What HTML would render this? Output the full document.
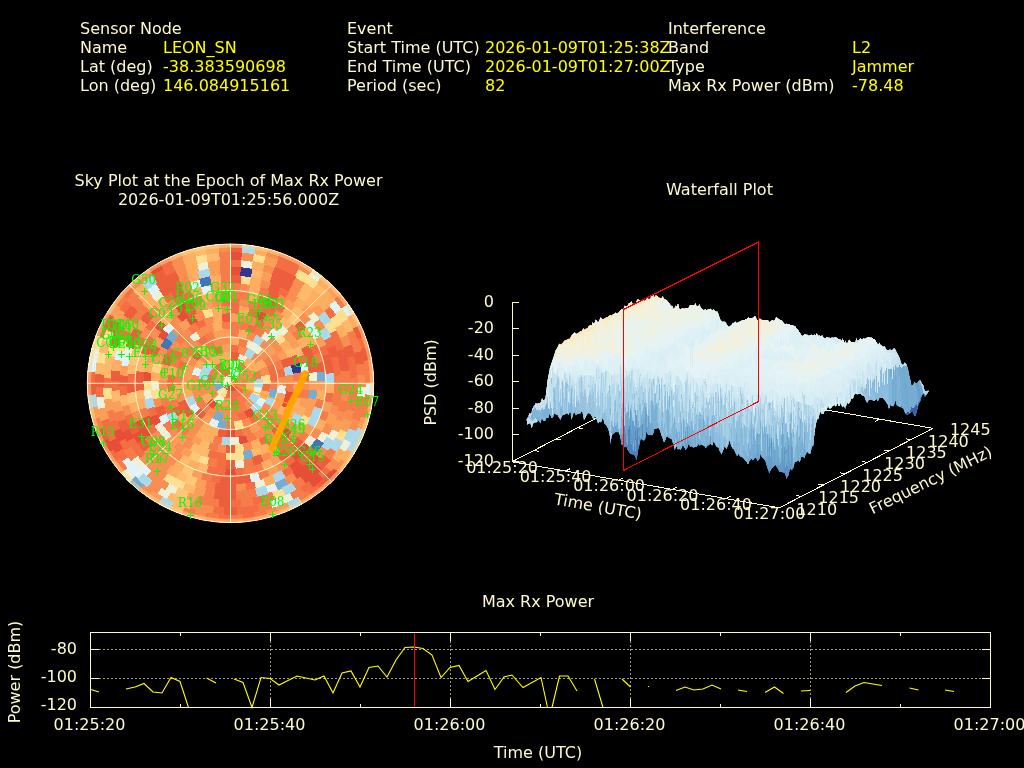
<!DOCTYPE html>
<html><head><meta charset="utf-8"><title>Interference Event Report</title>
<style>
html,body{margin:0;padding:0;background:#000;overflow:hidden}
svg{display:block;will-change:transform}
text{font-family:"DejaVu Sans","Liberation Sans",sans-serif;font-size:16px}
.g text{font-family:"DejaVu Serif","Liberation Serif",serif;font-size:12px;fill:#00ff00}
</style></head><body>
<svg width="1024" height="768" viewBox="0 0 1024 768">
<rect width="1024" height="768" fill="#000"/>
<text x="80" y="34" fill="#fffacd" text-anchor="start">Sensor Node</text>
<text x="80" y="53" fill="#fffacd" text-anchor="start">Name</text>
<text x="80" y="72" fill="#fffacd" text-anchor="start">Lat (deg)</text>
<text x="80" y="91" fill="#fffacd" text-anchor="start">Lon (deg)</text>
<text x="347" y="34" fill="#fffacd" text-anchor="start">Event</text>
<text x="347" y="53" fill="#fffacd" text-anchor="start">Start Time (UTC)</text>
<text x="347" y="72" fill="#fffacd" text-anchor="start">End Time (UTC)</text>
<text x="347" y="91" fill="#fffacd" text-anchor="start">Period (sec)</text>
<text x="668" y="34" fill="#fffacd" text-anchor="start">Interference</text>
<text x="668" y="53" fill="#fffacd" text-anchor="start">Band</text>
<text x="668" y="72" fill="#fffacd" text-anchor="start">Type</text>
<text x="668" y="91" fill="#fffacd" text-anchor="start">Max Rx Power (dBm)</text>
<text x="163" y="53" fill="#ffff00" text-anchor="start">LEON_SN</text>
<text x="163" y="72" fill="#ffff00" text-anchor="start">-38.383590698</text>
<text x="163" y="91" fill="#ffff00" text-anchor="start">146.084915161</text>
<text x="485" y="53" fill="#ffff00" text-anchor="start">2026-01-09T01:25:38Z</text>
<text x="485" y="72" fill="#ffff00" text-anchor="start">2026-01-09T01:27:00Z</text>
<text x="485" y="91" fill="#ffff00" text-anchor="start">82</text>
<text x="852" y="53" fill="#ffff00" text-anchor="start">L2</text>
<text x="852" y="72" fill="#ffff00" text-anchor="start">Jammer</text>
<text x="852" y="91" fill="#ffff00" text-anchor="start">-78.48</text>
<text x="228.5" y="186" fill="#fffacd" text-anchor="middle">Sky Plot at the Epoch of Max Rx Power</text>
<text x="228.5" y="205" fill="#fffacd" text-anchor="middle">2026-01-09T01:25:56.000Z</text>
<text x="719.5" y="195" fill="#fffacd" text-anchor="middle">Waterfall Plot</text>
<text x="538" y="607" fill="#fffacd" text-anchor="middle">Max Rx Power</text>
<text x="538" y="758" fill="#fffacd" text-anchor="middle">Time (UTC)</text>
<g transform="translate(230.5,383.3) scale(0.1432,0.1393)" shape-rendering="crispEdges">
<circle r="1000" fill="#f58a52"/>
<path fill="#f46d43" d="M0 0l0 -59l8 1l8 2l8 2l7 4l7 5l5 6l6 6l4 7l3 8l2 8l1 8l-1 8l-1 8l-3 8l-3 7zM99 57l-9 13l-11 12l-12 10l-14 9l-14 6l-21 -58l7 -3l6 -3l6 -5l4 -6l5 -6zM39 107l-15 5l-16 2l-16 0l-16 -2l-15 -5l21 -58l7 2l7 1l8 0l7 -1l7 -2zM-74 -87l13 -10l15 -7l15 -6l15 -3l16 -1l0 61l-7 1l-7 1l-7 3l-7 3l-6 5zM65 157l-21 7l-22 4l-23 2l1 -62l14 -1l14 -3l14 -4zM-170 1l2 -23l4 -22l7 -21l57 23l-4 14l-3 14l-1 14zM-120 -120l17 -14l18 -13l21 -10l23 57l-13 6l-12 8l-11 10zM-1 -281l32 2l32 5l-13 60l-25 -4l-26 -1zM281 -1l-2 32l-5 32l-60 -13l4 -25l1 -26zM123 253l-30 12l-31 9l-14 -60l24 -7l24 -10zM-123 -253l30 -12l31 -9l14 60l-24 7l-24 10zM305 -141l13 31l9 32l-60 14l-7 -26l-10 -25zM327 -80l6 32l3 33l-61 3l-3 -27l-5 -27zM209 264l-27 19l-29 16l-28 -54l24 -14l22 -16zM376 -110l8 32l5 32l-61 7l-4 -27l-7 -27zM95 380l-32 7l-33 4l-5 -62l28 -3l27 -6zM-377 -108l11 -31l13 -30l55 26l-11 26l-9 26zM-237 -312l28 -19l28 -17l29 55l-25 14l-22 16zM125 -430l31 11l31 13l-25 56l-27 -12l-28 -9zM-443 65l-3 -33l-1 -34l61 1l1 29l3 28zM-447 2l1 -34l3 -33l61 9l-3 28l-1 29zM-408 -184l15 -30l17 -29l52 33l-15 25l-13 26zM187 -467l61 30l-30 53l-54 -26zM276 421l-59 33l-27 -56l52 -29zM-371 339l-43 -53l51 -35l37 47zM-445 234l-28 -62l58 -21l24 55zM-461 -202l32 -60l52 32l-27 53zM-248 -437l61 -30l23 57l-54 26zM-2 -559l70 5l-7 61l-63 -4zM129 -543l67 20l-21 58l-60 -18zM517 -212l22 67l-59 16l-20 -59zM552 -84l6 69l-61 2l-6 -62zM390 399l-53 46l-37 -49l47 -41zM340 443l-58 39l-31 -53l52 -35zM-31 558l-70 -9l11 -60l62 7zM-97 550l-68 -16l18 -59l61 14zM-2 -614l72 4l-7 61l-65 -4zM197 -582l67 28l-26 55l-60 -24zM260 -556l63 34l-32 52l-57 -31zM453 414l-51 51l-41 -47l47 -45zM405 462l-57 44l-35 -51l51 -40zM-32 613l-71 -8l10 -60l64 7zM-562 249l-25 -68l59 -18l23 61zM-70 -610l72 -4l0 61l-65 4zM201 -639l69 26l-25 57l-62 -24zM328 -584l62 40l-36 50l-56 -36zM606 -286l27 68l-58 20l-25 -62zM469 478l-55 49l-38 -49l50 -44zM105 661l-73 8l-3 -62l67 -6zM-32 669l-73 -8l9 -60l67 6zM-101 662l-72 -15l16 -59l66 13zM-554 376l-38 -63l54 -29l35 57zM-608 -282l35 -65l53 32l-32 59zM669 -280l26 72l-59 18l-24 -66zM722 69l-11 75l-61 -12l11 -69zM462 559l-61 45l-34 -51l56 -41zM-69 722l-75 -11l12 -61l69 11zM-725 3l4 -77l61 7l-4 69zM-671 -275l33 -69l54 29l-30 63zM-604 -401l45 -61l47 39l-41 56zM-405 -602l65 -39l29 55l-60 35zM-344 -638l69 -33l23 57l-63 30zM350 -698l69 39l-33 52l-63 -36zM703 -339l31 73l-58 21l-28 -67zM754 -202l17 77l-61 10l-15 -71zM770 -130l9 78l-61 4l-9 -72zM449 639l-66 42l-30 -54l61 -39zM184 759l-77 14l-9 -61l72 -13zM-719 306l-27 -74l59 -19l25 68zM-775 94l-6 -78l62 -2l5 73zM-479 -617l65 -45l32 52l-59 42zM741 -387l35 74l-58 23l-31 -69zM773 -318l28 77l-59 18l-26 -72zM-635 545l-50 -65l50 -35l47 60zM-682 485l-44 -69l54 -31l41 64zM-834 60l-2 -82l61 2l2 76zM-776 -313l35 -74l54 28l-31 69zM-3 -892l86 4l-6 61l-80 -3zM695 -559l51 70l-51 34l-48 -65zM869 -201l15 84l-61 8l-14 -79zM883 -123l8 86l-61 3l-8 -80zM240 859l-84 19l-11 -60l79 -18zM83 888l-86 4l0 -62l80 -3zM-743 494l-44 -74l54 -29l42 69zM-819 353l-30 -80l58 -19l29 75zM-891 43l0 -86l62 3l0 80zM-821 -348l37 -77l54 29l-35 72zM325 -890l84 35l-27 56l-78 -33zM403 -858l80 43l-32 53l-74 -40zM708 629l-63 65l-42 -45l59 -60zM586 744l-73 53l-34 -52l69 -49zM211 924l-89 16l-8 -62l83 -14zM129 939l-90 8l-3 -62l84 -7zM-39 947l-90 -8l9 -61l84 7zM-757 570l-51 -75l53 -32l47 70zM-846 427l-36 -82l57 -22l34 77zM-880 351l-29 -85l59 -18l27 80zM-941 108l-6 -90l61 -1l6 84zM-785 -530l54 -73l47 40l-50 67zM-483 -815l80 -43l26 56l-74 40zM340 -944l87 36l-26 56l-82 -34zM421 -911l84 44l-31 53l-79 -41zM941 -346l29 90l-60 16l-26 -85zM647 766l-75 58l-35 -51l71 -54zM178 987l-94 12l-5 -61l88 -11zM4 1003l-95 -4l6 -61l88 3zM-820 578l-50 -80l53 -30l48 75zM-1003 4l4 -95l61 6l-3 88zM-944 -340l36 -87l56 26l-34 82zM-771 -642l64 -70l44 44l-60 65zM-505 -867l84 -44l26 56l-79 41z"/>
<path fill="#e64e35" d="M0 0l51 29l-5 7l-5 6l-6 5l-7 5l-8 3l-8 2l-8 1l-8 0l-8 -1l-8 -2l-8 -3l-7 -5l-6 -5l-5 -6l-5 -7zM-121 190l-18 -13l-17 -14l-15 -16l47 -40l11 11l12 11l13 9zM176 219l-27 19l-28 15l-27 -55l23 -12l20 -15zM33 391l-33 1l-33 -1l5 -62l28 1l28 -1zM443 62l-6 33l-8 33l-59 -18l7 -28l5 -28zM430 125l-11 31l-13 31l-56 -25l12 -27l9 -28zM128 429l-33 8l-33 6l-8 -61l28 -5l28 -7zM193 -524l64 28l-29 55l-57 -25zM435 350l-47 52l-43 -44l42 -46zM-314 -462l61 -36l28 55l-54 32zM-531 309l-32 -64l56 -25l29 58zM-614 -15l6 -71l61 8l-5 65zM-515 -334l42 -58l48 39l-39 52zM-379 -483l59 -41l32 52l-53 37zM37 669l-74 0l4 -62l66 0zM-590 317l-31 -67l57 -23l28 61zM-537 -400l47 -57l45 42l-43 52zM-390 -544l62 -40l30 54l-56 36zM562 458l-51 57l-43 -44l46 -52zM515 511l-57 51l-39 -48l52 -46zM-602 405l-39 -65l55 -29l35 60zM-638 344l-33 -69l57 -23l30 63zM507 594l-62 48l-35 -51l57 -44zM-649 434l-40 -67l54 -29l37 62zM-3 -836l82 3l-6 62l-76 -4zM638 540l-55 60l-43 -44l51 -56zM587 596l-61 55l-39 -48l57 -51zM530 647l-66 49l-34 -52l61 -45zM-723 421l-38 -73l56 -26l35 68zM647 614l-63 60l-40 -47l58 -55zM589 670l-67 53l-36 -50l62 -50zM-784 425l-37 -77l56 -24l35 72zM-3 -947l90 4l-6 61l-84 -4zM650 690l-69 58l-38 -48l65 -55zM-804 501l-44 -79l55 -28l41 74zM771 642l-64 70l-44 -44l60 -65zM-867 505l-44 -84l56 -26l41 79zM-578 -820l80 -50l30 53l-75 48z"/>
<path fill="#eef0da" d="M0 0l-51 29l-3 -7l-3 -8l-1 -8l-1 -8l1 -8l2 -8l3 -8l4 -7l6 -6l5 -6l7 -5l7 -4l8 -2l8 -2l8 -1zM-1 -170l23 2l22 4l21 7l-23 57l-14 -4l-14 -3l-14 -1zM-64 157l-21 -10l-18 -13l-17 -14l43 -44l11 10l12 8l13 6zM63 -216l20 7l20 9l19 11l-33 52l-14 -8l-14 -7l-15 -5zM223 31l-4 22l-6 21l-8 20l-56 -25l6 -15l4 -16l3 -15zM124 -313l30 14l29 17l-34 51l-23 -13l-25 -11zM181 -284l27 20l25 21l-43 45l-20 -18l-22 -16zM241 -377l27 19l26 21l-40 46l-23 -18l-24 -16zM65 443l-33 3l-34 1l1 -61l29 -1l28 -3zM-294 -337l26 -21l27 -19l34 52l-24 16l-23 18zM363 -424l50 48l-45 42l-45 -44zM-556 52l-2 -71l61 3l2 62zM608 -86l6 71l-62 2l-5 -65zM103 605l-71 8l-3 -61l64 -7zM-450 418l-46 -56l50 -36l41 50zM-494 365l-39 -60l54 -30l35 54zM-602 120l-10 -71l61 -5l9 64zM604 401l-45 61l-47 -39l41 -56zM582 -521l49 61l-50 37l-45 -57zM689 367l-40 67l-51 -34l37 -62zM254 738l-75 22l-14 -60l69 -20zM-756 -196l24 -76l58 22l-22 69zM761 348l-38 73l-53 -31l35 -68zM-559 -622l64 -52l36 50l-59 48zM77 -889l85 12l-11 61l-79 -11zM-384 805l-76 -41l32 -53l70 38zM-642 619l-57 -65l48 -39l53 61zM-240 -859l84 -19l11 60l-79 18zM947 18l-6 90l-61 -7l6 -84zM848 422l-44 79l-52 -33l41 -74zM446 836l-82 39l-23 -57l76 -36zM-440 839l-78 -46l33 -51l73 42zM-928 191l-14 -90l61 -6l13 83zM572 -824l75 58l-39 47l-71 -54zM-707 712l-64 -70l48 -39l60 65zM-988 -171l20 -92l59 16l-19 87z"/>
<path fill="#e0f3f8" d="M0 -114l16 1l15 3l15 6l15 7l13 10l-40 47l-6 -5l-7 -3l-7 -3l-7 -1l-7 -1zM253 121l-15 28l-19 27l-48 -39l15 -20l12 -23zM-274 -62l9 -31l12 -30l56 27l-10 24l-7 24zM-94 323l-31 -11l-30 -14l28 -54l25 11l26 9zM-253 221l-21 -26l-18 -28l54 -30l14 22l17 22zM392 14l-3 33l-5 33l-61 -13l5 -27l2 -28zM299 -404l52 44l-43 44l-45 -39zM538 -149l15 68l-61 9l-13 -61zM-471 300l-34 -62l56 -26l30 55zM-475 -389l48 -53l43 45l-44 47zM559 -462l45 61l-51 34l-41 -56zM602 -405l39 65l-55 29l-35 -60zM213 693l-74 19l-12 -61l68 -17zM-213 -693l74 -19l12 61l-68 17zM-771 -125l17 -77l59 16l-15 71zM-289 -725l75 -26l17 59l-69 24zM336 766l-77 29l-19 -58l71 -27zM-819 -167l20 -80l59 18l-19 74zM-584 674l-63 -60l45 -42l58 55zM-589 -670l67 -53l36 50l-62 50zM731 -603l54 73l-51 34l-50 -67zM370 872l-84 31l-19 -58l79 -30zM-645 694l-63 -65l46 -40l59 60zM-704 634l-57 -70l49 -36l54 65zM820 -578l50 80l-53 30l-48 -75zM1003 -4l-4 95l-61 -6l3 -88zM-999 -84l12 -94l60 11l-11 88z"/>
<path fill="#f88e52" d="M73 -88l12 11l10 13l8 14l6 15l3 16l-60 10l-2 -7l-3 -7l-3 -6l-5 -6l-5 -5zM120 -120l14 17l13 18l10 21l-57 23l-6 -13l-8 -12l-10 -11zM157 -65l7 21l4 22l2 23l-62 -1l-1 -14l-3 -14l-4 -14zM157 64l-10 21l-13 18l-14 17l-44 -43l10 -11l8 -12l6 -13zM-120 120l-14 -17l-13 -18l-10 -21l57 -23l6 13l8 12l10 11zM-157 65l-7 -21l-4 -22l-2 -23l62 1l1 14l3 14l4 14zM171 147l-15 16l-17 14l-18 13l-33 -52l13 -9l12 -11l11 -11zM1 225l-22 -1l-22 -3l-21 -5l17 -59l16 4l16 2l16 1zM-63 216l-20 -7l-20 -9l-19 -11l33 -52l14 8l14 7l15 5zM-205 94l-8 -20l-6 -21l-4 -22l61 -8l3 15l4 16l6 15zM62 -274l31 9l30 12l-27 56l-24 -10l-24 -7zM174 -220l25 21l21 25l-48 38l-17 -19l-19 -17zM253 -123l12 30l9 31l-60 14l-7 -24l-10 -24zM1 281l-32 -2l-32 -5l13 -60l25 4l26 1zM-121 253l-28 -15l-27 -19l39 -48l20 15l23 12zM-253 123l-12 -30l-9 -31l60 -14l7 24l10 24zM-274 63l-5 -32l-2 -32l62 0l1 26l4 25zM-281 1l2 -32l5 -32l60 13l-4 25l-1 26zM-220 -174l21 -25l25 -21l38 48l-19 17l-17 19zM231 -244l23 24l21 26l-51 35l-16 -21l-19 -20zM292 167l-18 28l-21 26l-46 -40l17 -22l14 -22zM255 219l-23 24l-25 22l-38 -48l21 -18l18 -20zM155 298l-30 14l-31 11l-18 -59l26 -9l25 -11zM-306 -139l15 -29l18 -28l50 36l-15 23l-12 24zM-126 -312l31 -11l33 -7l11 60l-26 6l-26 9zM-65 -330l33 -5l33 -1l0 61l-27 1l-27 4zM123 -372l31 11l29 15l-28 54l-26 -12l-25 -10zM234 -314l26 21l24 23l-45 42l-20 -19l-21 -18zM322 -224l17 28l16 29l-56 26l-13 -24l-15 -24zM389 -49l3 33l0 33l-62 -3l0 -27l-2 -28zM340 195l-17 28l-20 26l-48 -39l17 -22l15 -24zM261 292l-26 21l-27 19l-32 -52l22 -16l22 -18zM-208 332l-27 -19l-26 -21l41 -46l22 18l22 16zM-366 140l-10 -31l-8 -32l60 -12l7 27l9 26zM-389 -46l5 -32l8 -32l59 17l-7 27l-4 27zM-355 -167l16 -29l17 -28l51 35l-15 24l-13 24zM-284 -270l24 -23l26 -21l36 49l-21 18l-20 19zM292 -339l24 23l23 24l-46 40l-20 -21l-21 -20zM337 -294l21 26l19 27l-52 34l-16 -24l-18 -23zM443 -65l3 33l1 34l-61 -1l-1 -29l-3 -28zM377 241l-19 27l-21 26l-46 -40l18 -23l16 -24zM294 337l-26 21l-27 19l-34 -52l24 -16l23 -18zM243 376l-29 17l-30 15l-25 -56l26 -13l25 -15zM-241 377l-27 -19l-26 -21l40 -46l23 18l24 16zM-292 339l-24 -23l-23 -24l46 -40l20 21l21 20zM-377 -241l19 -27l21 -26l46 40l-18 23l-16 24zM-339 -292l23 -24l24 -23l40 46l-21 20l-20 21zM-243 -376l29 -17l30 -15l25 56l-26 13l-25 15zM-187 -406l31 -13l31 -11l18 59l-28 9l-27 12zM63 -499l66 13l-16 59l-58 -11zM126 -487l64 21l-23 57l-57 -18zM245 -439l57 37l-37 49l-50 -32zM327 382l-54 41l-33 -52l47 -36zM160 477l-66 17l-11 -60l58 -16zM-30 502l-68 -9l12 -60l59 8zM-273 423l-54 -41l40 -47l47 36zM-501 50l-2 -68l62 2l2 60zM-431 -259l39 -56l48 39l-34 48zM-351 -360l52 -44l36 49l-45 39zM-190 -466l64 -21l16 60l-57 18zM253 -498l61 36l-35 51l-54 -32zM558 -19l-2 71l-61 -6l2 -62zM473 297l-40 56l-48 -39l36 -50zM-282 482l-58 -39l37 -49l52 35zM-388 402l-47 -52l48 -38l42 46zM-529 181l-18 -68l60 -12l17 60zM-518 -208l30 -63l54 30l-27 56zM-413 -376l50 -48l40 46l-45 44zM-257 -496l64 -28l22 58l-57 25zM-68 -554l70 -5l0 62l-63 4zM65 -611l71 12l-13 60l-64 -10zM320 -524l59 41l-38 48l-53 -37zM427 -442l48 53l-47 39l-44 -47zM496 362l-46 56l-45 -42l41 -50zM294 539l-65 31l-23 -57l59 -28zM-348 506l-57 -44l41 -47l51 40zM-430 -439l54 -47l38 49l-49 42zM-264 -554l67 -28l19 59l-60 24zM-136 -599l71 -12l6 62l-64 10zM-357 566l-60 -42l38 -48l54 38zM-466 481l-50 -54l48 -39l45 49zM-513 431l-44 -59l51 -34l40 53zM-575 -343l41 -61l49 37l-37 56zM-444 -501l58 -46l35 50l-52 42zM69 -722l75 11l-12 61l-69 -11zM340 -641l65 39l-34 51l-60 -35zM511 -515l51 57l-48 39l-46 -52zM641 340l-39 65l-51 -34l35 -60zM405 602l-65 39l-29 -55l60 -35zM-401 604l-61 -45l39 -47l56 41zM-458 562l-57 -51l44 -43l52 46zM-511 515l-51 -57l48 -39l46 52zM-669 280l-26 -72l59 -18l24 66zM-641 -340l39 -65l51 34l-35 60zM-562 -458l51 -57l43 44l-46 52zM-462 -559l61 -45l34 51l-56 41zM-74 -721l77 -4l-1 61l-69 4zM214 -751l75 26l-23 57l-69 -24zM414 -662l65 45l-38 49l-59 -42zM628 -464l43 65l-53 32l-40 -60zM764 161l-20 76l-59 -19l19 -70zM721 300l-34 71l-54 -29l31 -65zM112 773l-78 7l-3 -61l72 -7zM-445 642l-62 -48l40 -47l57 44zM-503 597l-57 -53l44 -43l53 49zM-557 548l-52 -59l48 -39l48 54zM-744 237l-20 -76l60 -13l19 70zM-585 -517l55 -56l41 45l-50 52zM-355 -695l71 -32l23 57l-66 30zM432 -716l68 46l-37 49l-63 -42zM835 54l-10 82l-60 -10l8 -76zM811 204l-24 79l-58 -21l22 -73zM685 480l-50 65l-47 -40l47 -60zM469 692l-70 43l-29 -54l65 -40zM-464 696l-66 -49l39 -48l61 45zM-526 651l-61 -55l43 -44l57 51zM-583 600l-55 -60l47 -40l51 56zM-370 -750l75 -32l22 57l-70 30zM234 -861l82 27l-22 58l-76 -25zM455 -767l72 47l-37 50l-67 -44zM819 -353l30 80l-58 19l-29 -75zM870 195l-23 84l-58 -20l21 -77zM-455 767l-72 -47l37 -50l67 44zM-522 723l-67 -53l41 -47l62 50zM-787 -420l44 -74l52 34l-42 69zM-390 -802l80 -34l21 58l-74 31zM80 -944l90 12l-11 61l-84 -12zM945 -66l2 90l-61 -1l-2 -85zM909 266l-29 85l-57 -23l27 -80zM761 564l-57 70l-46 -41l54 -65zM-122 940l-89 -16l14 -60l83 14zM-205 925l-87 -24l19 -58l82 22zM-513 797l-73 -53l38 -48l69 49zM-409 -855l84 -35l21 58l-78 33zM256 -970l90 29l-21 57l-85 -26zM498 -870l80 50l-35 51l-75 -48zM824 572l-58 75l-47 -39l54 -71zM346 941l-90 29l-16 -60l85 -26zM-171 988l-92 -20l16 -59l87 19zM-572 824l-75 -58l39 -47l71 54zM-712 -707l70 -64l39 48l-65 60zM-647 -766l75 -58l35 51l-71 54zM-427 -908l87 -36l21 58l-82 34zM-91 -999l95 -4l-1 62l-88 3z"/>
<path fill="#f67d4a" d="M112 -20l2 16l-1 16l-2 16l-5 15l-7 14l-54 -31l4 -6l2 -7l1 -8l1 -7l-1 -7zM64 -157l21 10l18 13l17 14l-43 44l-11 -10l-12 -8l-13 -6zM120 120l-17 14l-18 13l-21 10l-23 -57l13 -6l12 -8l11 -10zM-157 -64l10 -21l13 -18l14 -17l44 43l-10 11l-8 12l-6 13zM205 -94l8 20l6 21l4 22l-61 8l-3 -15l-4 -16l-6 -15zM122 189l-19 11l-20 9l-20 7l-17 -59l15 -5l14 -7l14 -8zM64 216l-21 5l-22 3l-22 1l0 -61l16 -1l16 -2l16 -4zM-223 33l-2 -22l0 -22l2 -22l61 9l-1 16l0 16l1 16zM63 274l-32 5l-32 2l0 -62l26 -1l25 -4zM-174 220l-25 -21l-21 -25l48 -38l17 19l19 17zM-219 176l-19 -27l-15 -28l55 -27l12 23l15 20zM62 -330l33 7l31 11l-23 57l-26 -9l-26 -6zM273 -196l18 28l15 29l-56 26l-12 -24l-15 -23zM336 -17l0 33l-3 33l-61 -9l2 -27l0 -27zM33 335l-33 1l-33 -1l6 -62l27 2l27 -2zM-183 -282l29 -17l30 -14l23 58l-25 11l-23 13zM-1 -392l33 1l32 4l-10 61l-27 -3l-28 -1zM353 -169l13 30l11 31l-59 17l-9 -26l-11 -26zM304 247l-21 24l-24 23l-41 -46l20 -19l19 -21zM155 360l-31 12l-32 9l-14 -60l27 -8l26 -10zM-392 17l0 -33l3 -33l61 8l-2 28l0 27zM-323 -221l19 -27l22 -24l45 42l-19 21l-17 22zM-183 -346l29 -15l31 -11l19 58l-25 10l-26 12zM-2 -447l34 1l33 3l-9 61l-28 -3l-29 -1zM62 -443l33 6l33 8l-18 59l-28 -7l-28 -5zM184 -408l30 15l29 17l-33 52l-25 -15l-26 -13zM447 -2l-1 34l-3 33l-61 -9l3 -28l1 -29zM339 292l-23 24l-24 23l-40 -46l21 -20l20 -21zM187 406l-31 13l-31 11l-18 -59l28 -9l27 -12zM-62 443l-33 -6l-33 -8l18 -59l28 7l28 5zM-406 187l-13 -31l-11 -31l59 -18l9 28l12 27zM-430 -125l11 -31l13 -31l56 25l-12 27l-9 28zM-65 -443l33 -3l34 -1l-1 61l-29 1l-28 3zM496 -82l7 68l-62 1l-5 -59zM501 47l-11 67l-60 -14l10 -59zM414 286l-43 53l-45 -41l37 -47zM-94 494l-66 -17l19 -59l58 16zM-325 384l-49 -47l46 -41l43 41zM-471 175l-20 -65l60 -13l17 57zM-394 -312l45 -51l43 45l-40 44zM-302 -402l57 -37l30 54l-50 32zM557 48l-11 69l-60 -13l9 -62zM-433 353l-40 -56l52 -33l36 50zM132 -600l69 20l-20 58l-62 -18zM473 -392l42 58l-51 33l-39 -52zM169 590l-70 16l-10 -61l63 -14zM-99 606l-70 -16l17 -59l63 14zM-2 -670l73 4l-6 61l-67 -3zM67 -666l72 11l-13 60l-66 -10zM632 -222l20 70l-60 14l-18 -64zM659 118l-17 71l-59 -17l16 -65zM557 372l-44 59l-47 -40l40 -53zM238 626l-70 22l-15 -59l63 -21zM173 647l-72 15l-10 -61l66 -13zM-619 254l-25 -69l60 -17l21 63zM-270 -613l69 -26l18 59l-62 24zM-71 -666l73 -4l0 62l-67 3zM-3 -725l77 4l-7 61l-69 -4zM208 -695l72 26l-24 57l-66 -24zM695 208l-26 72l-57 -24l24 -66zM280 669l-72 26l-18 -59l66 -24zM-139 712l-74 -19l18 -59l68 17zM-559 462l-45 -61l51 -34l41 56zM779 -58l1 79l-61 -2l-2 -72zM781 16l-6 78l-61 -7l5 -73zM776 89l-13 77l-60 -13l12 -71zM-107 773l-77 -14l14 -60l72 13zM-76 -777l79 -4l0 62l-73 3zM831 -98l5 82l-61 1l-6 -76zM836 -22l-2 82l-61 -4l2 -76zM826 130l-16 80l-60 -15l15 -75zM192 814l-81 15l-8 -61l74 -14zM117 828l-82 8l-2 -62l75 -7zM-111 829l-81 -15l15 -60l74 14zM-787 283l-24 -79l60 -15l22 73zM-706 -448l47 -67l49 38l-44 62zM-662 -511l53 -62l45 42l-50 58zM-79 -833l82 -3l0 61l-76 4zM891 -43l0 86l-62 -3l0 -80zM891 37l-8 86l-61 -9l8 -80zM884 117l-15 84l-60 -13l14 -79zM746 489l-51 70l-48 -39l48 -65zM527 720l-72 47l-32 -53l67 -44zM316 834l-82 27l-16 -60l76 -25zM162 877l-85 12l-5 -62l79 -11zM-77 889l-85 -12l11 -61l79 11zM-156 878l-84 -19l16 -59l79 18zM-695 559l-51 -70l51 -34l48 65zM-847 279l-23 -84l60 -13l21 77zM-699 -554l57 -65l44 43l-53 61zM-83 -888l86 -4l0 62l-80 3zM864 -390l33 84l-58 20l-31 -78zM895 -312l25 87l-59 15l-24 -82zM936 -149l10 89l-62 4l-9 -84zM942 101l-14 90l-60 -13l13 -83zM929 184l-21 88l-59 -18l20 -82zM518 793l-78 46l-28 -55l73 -42zM292 901l-87 24l-14 -60l82 -22zM-735 -597l60 -68l44 43l-57 63zM-87 -943l90 -4l0 61l-84 4zM766 -647l58 75l-51 35l-54 -71zM987 -178l12 94l-61 5l-11 -88zM999 -91l4 95l-62 -1l-3 -88zM999 84l-12 94l-60 -11l11 -88zM988 171l-20 92l-59 -16l19 -87zM578 820l-80 50l-30 -53l75 -48zM263 968l-92 20l-11 -60l87 -19zM91 999l-95 4l1 -62l88 -3zM-84 999l-94 -12l11 -60l88 11zM-256 970l-90 -29l21 -57l85 26zM-766 647l-58 -75l51 -35l54 71zM-941 346l-29 -90l60 -16l26 85zM-824 -572l58 -75l47 39l-54 71z"/>
<path fill="#fee090" d="M-39 107l-14 -6l-14 -9l-12 -10l-11 -12l-9 -13l53 -31l5 6l4 6l6 5l6 3l7 3zM274 -63l5 32l2 32l-62 0l-1 -26l-4 -25zM96 322l-32 8l-33 5l-6 -61l27 -4l26 -7zM349 -363l45 51l-48 38l-40 -44zM98 493l-68 9l-3 -61l59 -8zM101 549l-70 9l-3 -62l62 -7zM35 557l-70 0l4 -61l62 0zM-546 117l-11 -69l62 -6l9 62zM-196 -523l67 -20l14 60l-60 18zM563 245l-32 64l-53 -31l29 -58zM-165 592l-68 -24l23 -57l62 21zM-612 53l-2 -72l62 2l1 65zM70 -778l78 11l-11 61l-72 -10zM703 -453l41 71l-55 28l-38 -66zM-331 768l-73 -36l30 -54l68 34zM-399 735l-70 -43l34 -51l65 40zM-801 -241l28 -77l57 23l-26 72zM743 -494l44 74l-54 29l-42 -69zM821 348l-37 77l-54 -29l35 -72zM390 802l-80 34l-21 -58l74 -31zM-883 123l-8 -86l61 -3l8 80zM-870 -195l23 -84l58 20l-21 77zM164 -933l88 20l-17 59l-82 -19zM477 -819l76 50l-36 50l-71 -46zM547 -773l72 55l-41 47l-66 -52zM782 -536l47 77l-54 30l-44 -72zM-937 -143l18 -89l60 16l-17 82zM-897 -306l33 -84l56 26l-31 78zM-252 -913l88 -20l11 60l-82 19zM-970 -256l29 -90l57 21l-26 85z"/>
<path fill="#74add1" d="M-99 57l-7 -14l-5 -15l-2 -16l-1 -16l2 -16l60 11l-1 7l1 7l1 8l2 7l4 6zM-62 274l-31 -9l-30 -12l27 -56l24 10l24 7zM333 47l-6 32l-10 32l-58 -20l8 -26l5 -27zM-31 335l-33 -5l-32 -8l18 -59l26 7l27 4zM165 534l-68 16l-11 -61l61 -14zM-455 -324l44 -54l45 41l-39 49zM612 49l-10 71l-60 -12l9 -64zM664 -88l6 73l-62 1l-5 -66zM404 732l-73 36l-25 -56l68 -34zM-642 771l-70 -64l44 -44l65 60z"/>
<path fill="#fb9e5a" d="M-112 -19l3 -16l6 -15l8 -14l10 -13l12 -11l39 48l-5 5l-5 6l-3 6l-3 7l-2 7zM1 170l-23 -2l-22 -4l-21 -7l23 -57l14 4l14 3l14 1zM-65 -157l21 -7l22 -4l23 -2l-1 62l-14 1l-14 3l-14 4zM-176 -219l27 -19l28 -15l27 55l-23 12l-20 15zM-63 -274l32 -5l32 -2l0 62l-26 1l-25 4zM-153 299l-29 -16l-27 -19l38 -49l22 16l24 14zM-333 49l-3 -33l0 -33l62 3l0 27l2 27zM-336 -15l3 -33l6 -32l60 14l-5 27l-3 27zM-327 -78l9 -32l13 -31l55 26l-10 25l-7 26zM282 -272l22 24l19 27l-50 34l-17 -22l-19 -21zM384 77l-8 32l-10 31l-58 -22l9 -26l7 -27zM367 138l-13 30l-15 29l-54 -31l13 -24l11 -26zM211 330l-29 17l-30 14l-24 -57l26 -12l24 -13zM-259 294l-24 -23l-21 -24l47 -39l19 21l20 19zM-125 -371l31 -10l32 -6l10 61l-27 5l-27 8zM-64 -387l32 -4l33 -1l0 62l-28 1l-27 3zM376 -243l17 29l15 30l-56 25l-13 -26l-15 -25zM-2 -503l68 4l-8 61l-60 -3zM503 -18l-2 68l-62 -6l2 -60zM-217 454l-59 -33l34 -52l52 29zM-503 -14l7 -68l60 10l-5 59zM-497 -79l15 -66l59 18l-13 58zM310 -464l56 42l-40 47l-50 -38zM411 -378l44 54l-50 36l-39 -49zM453 -327l37 59l-54 30l-33 -53zM547 113l-18 68l-59 -20l17 -60zM-337 445l-53 -46l43 -44l47 41zM-539 -145l22 -67l57 24l-20 59zM-366 -422l56 -42l34 51l-50 38zM614 -19l-2 72l-61 -5l1 -65zM603 116l-18 69l-58 -18l16 -63zM587 181l-25 68l-57 -25l23 -61zM533 305l-39 60l-50 -36l35 -54zM352 503l-62 38l-29 -54l55 -34zM-290 541l-62 -38l36 -50l55 34zM-402 465l-51 -51l45 -41l47 45zM-596 -149l22 -68l57 21l-19 62zM-549 -275l36 -63l51 34l-32 56zM-201 -580l69 -20l13 60l-62 18zM669 -20l-2 74l-61 -5l2 -67zM592 313l-38 63l-51 -35l35 -57zM361 564l-64 36l-27 -55l58 -33zM-414 527l-55 -49l43 -44l50 44zM-139 -655l72 -11l7 61l-66 10zM401 -604l61 45l-39 47l-56 -41zM638 -344l33 69l-57 23l-30 -63zM712 139l-19 74l-59 -18l17 -68zM344 638l-69 33l-23 -57l63 -30zM-208 695l-72 -26l24 -57l66 24zM-515 -511l57 -51l39 48l-52 46zM-144 -711l75 -11l6 61l-69 11zM530 -573l55 56l-46 41l-50 -52zM746 232l-27 74l-57 -25l25 -68zM-179 760l-75 -22l20 -58l69 20zM-779 -52l9 -78l61 10l-9 72zM-671 -399l43 -65l50 37l-40 60zM223 -806l78 26l-22 57l-73 -24zM609 -573l53 62l-48 38l-50 -58zM789 277l-31 76l-56 -26l29 -70zM-186 815l-79 -22l20 -58l73 20zM-810 210l-16 -80l61 -10l15 75zM-744 -382l41 -71l52 33l-38 66zM-154 -822l81 -11l5 61l-75 11zM849 273l-30 80l-57 -24l29 -75zM-234 861l-82 -27l22 -58l76 25zM-869 201l-15 -84l61 -8l14 79zM-162 -877l85 -12l5 62l-79 11zM245 -915l87 27l-22 58l-81 -26zM-908 272l-21 -88l60 -12l20 82zM-829 -459l47 -77l51 35l-44 72zM707 -712l64 70l-48 39l-60 -65zM970 256l-29 90l-57 -21l26 -85zM427 908l-87 36l-21 -58l82 -34zM-498 870l-80 -50l35 -51l75 48zM-968 263l-20 -92l60 -11l19 87zM-870 -498l50 -80l51 35l-48 75z"/>
<path fill="#fdba6d" d="M170 -1l-2 23l-4 22l-7 21l-57 -23l4 -14l3 -14l1 -14zM-233 -243l25 -21l27 -20l33 52l-22 16l-20 18zM429 -262l32 60l-57 25l-27 -53zM-157 478l-63 -26l27 -55l55 22zM-490 114l-11 -67l61 -6l10 59zM488 -271l30 63l-57 23l-27 -56zM227 510l-66 25l-18 -59l59 -22zM-161 535l-66 -25l25 -56l59 22zM-223 512l-63 -32l32 -53l55 29zM376 -486l54 47l-43 44l-49 -42zM-168 648l-70 -22l22 -58l63 21zM-297 600l-64 -36l33 -52l58 33zM-658 122l-10 -73l62 -4l8 66zM-664 -84l13 -72l60 14l-12 66zM-652 -152l20 -70l58 20l-18 64zM458 -562l57 51l-44 43l-52 -46zM-722 -69l11 -75l61 12l-11 69zM-695 -208l26 -72l57 24l-24 66zM-317 713l-70 -35l30 -54l65 33zM-763 166l-13 -77l61 -7l12 71zM149 -823l79 18l-16 60l-74 -17zM495 -674l64 52l-41 46l-59 -48zM-259 795l-77 -29l25 -56l71 27zM-825 136l-10 -82l62 -4l8 76zM522 -723l67 53l-41 47l-62 -50zM-891 -37l8 -86l61 9l-8 80zM-884 -117l15 -84l60 13l-14 79zM614 -722l66 62l-45 43l-61 -58zM826 -464l40 80l-56 25l-38 -75zM-286 903l-84 -31l24 -57l79 30zM-364 875l-82 -39l29 -54l76 36zM-946 -60l10 -89l61 9l-9 84zM-920 -225l25 -87l58 20l-24 82zM-170 -932l90 -12l5 61l-84 12zM-340 944l-87 -36l26 -56l82 34zM-263 -968l92 -20l11 60l-87 19z"/>
<path fill="#ed5e3c" d="M-1 -225l22 1l22 3l21 5l-17 59l-16 -4l-16 -2l-16 -1zM-207 265l-25 -22l-23 -24l47 -40l18 20l21 18zM-275 -194l21 -26l23 -24l42 44l-19 20l-16 21zM-30 391l-33 -4l-32 -7l15 -60l27 6l28 3zM-303 249l-20 -26l-17 -28l53 -31l15 24l17 22zM-339 197l-15 -29l-13 -30l58 -22l11 26l13 24zM406 -187l13 31l11 31l-59 18l-9 -28l-12 -27zM-376 243l-17 -29l-15 -30l56 -25l13 26l15 25zM459 -205l24 64l-59 17l-21 -56zM374 337l-49 47l-40 -47l43 -41zM34 502l-68 0l4 -62l60 0zM-483 -141l24 -64l56 25l-21 56zM-66 -499l68 -4l0 62l-60 3zM-503 242l-27 -65l59 -19l23 57zM547 -279l29 66l-58 21l-26 -59zM574 -217l22 68l-60 15l-19 -62zM595 -153l14 71l-61 8l-13 -64zM233 568l-68 24l-17 -60l62 -21zM36 613l-72 0l4 -61l64 0zM-576 -213l29 -66l55 28l-26 59zM-323 -522l63 -34l26 55l-57 31zM266 -615l66 33l-31 54l-59 -30zM490 -457l47 57l-49 37l-43 -52zM651 -156l13 72l-61 8l-12 -66zM516 427l-50 54l-43 -44l45 -49zM417 524l-60 42l-32 -52l54 -38zM-667 54l-2 -74l61 2l2 67zM-670 -15l6 -73l61 8l-5 66zM-633 -218l27 -68l56 26l-25 62zM-332 -582l66 -33l24 57l-59 30zM275 -671l69 33l-29 54l-63 -30zM693 -213l19 74l-61 12l-17 -68zM711 -144l11 75l-61 6l-11 -69zM144 711l-75 11l-6 -61l69 -11zM74 721l-77 4l1 -61l69 -4zM3 725l-77 -4l7 -61l69 4zM-721 74l-4 -77l61 1l4 69zM-3 -781l79 4l-6 61l-73 -3zM284 -727l71 32l-28 55l-66 -30zM732 -272l24 76l-60 15l-22 -69zM609 489l-52 59l-44 -44l48 -54zM560 544l-57 53l-40 -47l53 -49zM39 780l-78 0l3 -62l72 0zM-34 780l-78 -7l9 -61l72 7zM-605 493l-47 -63l51 -34l43 58zM-687 371l-34 -71l57 -23l31 65zM-780 21l1 -79l62 5l-2 72zM-734 -266l31 -73l55 27l-28 67zM-706 -334l37 -69l53 32l-34 63zM-631 -460l49 -61l46 41l-45 57zM-419 -659l69 -39l27 55l-63 36zM295 -782l75 32l-27 55l-70 -30zM365 -752l72 39l-32 52l-67 -36zM799 -247l20 80l-60 12l-19 -74zM818 -173l13 81l-61 7l-12 -75zM41 835l-82 0l3 -61l76 0zM-35 836l-82 -8l9 -61l75 7zM-758 353l-31 -76l58 -20l29 70zM-836 -16l5 -82l62 7l-6 76zM-500 -670l68 -46l32 53l-63 42zM-437 -713l72 -39l27 55l-67 36zM310 -836l80 34l-27 55l-74 -31zM384 -805l76 41l-32 53l-70 -38zM847 -279l23 84l-60 13l-21 -77zM699 554l-57 65l-44 -43l53 -61zM3 892l-86 -4l6 -61l80 3zM-849 -273l30 -80l57 24l-29 75zM-746 -489l51 -70l48 39l-48 65zM-527 -720l72 -47l32 53l-67 44zM-460 -764l76 -41l26 56l-70 38zM919 -232l18 89l-61 9l-17 -82zM45 946l-90 0l3 -61l84 0zM-947 24l2 -90l61 4l-2 85zM-866 -384l40 -80l54 30l-38 75zM-553 -769l76 -50l31 54l-71 46zM-4 -1003l95 4l-6 61l-88 -3zM908 -427l36 87l-58 21l-34 -82zM968 -263l20 92l-60 11l-19 -87zM712 707l-70 64l-39 -48l65 -60zM-908 427l-36 -87l58 -21l34 82zM-999 91l-4 -95l62 1l3 88zM-911 -421l44 -84l53 31l-41 79z"/>
<path fill="#fdae61" d="M121 -190l18 13l17 14l15 16l-47 40l-11 -11l-12 -11l-13 -9zM170 -148l13 17l12 19l10 19l-56 26l-7 -15l-9 -13l-10 -13zM-170 148l-13 -17l-12 -19l-10 -19l56 -26l7 15l9 13l10 13zM-171 -147l15 -16l17 -14l18 -13l33 52l-13 9l-12 11l-11 11zM-122 -189l19 -11l20 -9l20 -7l17 59l-15 5l-14 7l-14 8zM-64 -216l21 -5l22 -3l22 -1l0 61l-16 1l-16 2l-16 4zM219 -176l19 27l15 28l-55 27l-12 -23l-15 -20zM274 62l-9 31l-12 30l-56 -27l10 -24l7 -24zM-253 -121l15 -28l19 -27l48 39l-15 20l-12 23zM-1 -336l33 1l33 5l-12 60l-27 -4l-27 -1zM-317 111l-10 -32l-6 -32l61 -9l5 27l8 26zM62 -387l32 6l31 10l-19 58l-27 -8l-27 -5zM-92 381l-32 -9l-31 -12l24 -57l26 10l27 8zM-152 361l-30 -14l-29 -17l33 -51l24 13l26 12zM-384 80l-5 -33l-3 -33l62 -2l2 28l5 27zM408 184l-15 30l-17 29l-52 -33l15 -25l13 -26zM-125 430l-31 -11l-31 -13l25 -56l27 12l28 9zM-184 408l-30 -15l-29 -17l33 -52l25 15l26 13zM-337 294l-21 -26l-19 -27l52 -34l16 24l18 23zM-429 128l-8 -33l-6 -33l61 -8l5 28l7 28zM-443 -62l6 -33l8 -33l59 18l-7 28l-5 28zM-128 -429l33 -8l33 -6l8 61l-28 5l-28 7zM392 -315l39 56l-53 31l-34 -48zM491 110l-20 65l-57 -21l17 -57zM473 172l-28 62l-54 -28l24 -55zM447 231l-35 58l-51 -35l31 -51zM220 452l-63 26l-19 -59l55 -22zM-129 -486l66 -13l8 61l-58 11zM64 -555l69 13l-15 59l-61 -11zM530 177l-27 65l-55 -27l23 -57zM286 480l-63 32l-24 -56l55 -29zM-558 -15l6 -69l61 9l-6 62zM-133 -542l69 -13l7 61l-61 11zM513 -338l36 63l-55 27l-32 -56zM-609 -82l14 -71l60 15l-13 64zM135 -656l71 19l-19 58l-65 -17zM386 -547l58 46l-41 46l-52 -42zM534 -404l41 61l-53 32l-37 -56zM573 -347l35 65l-56 26l-32 -59zM668 49l-10 73l-60 -11l8 -66zM301 598l-67 29l-21 -57l61 -27zM-234 627l-67 -29l27 -55l61 27zM-642 189l-17 -71l60 -11l16 65zM-493 -453l53 -52l40 47l-48 46zM-206 -637l71 -19l13 60l-65 17zM139 -712l74 19l-18 59l-68 -17zM725 -3l-4 77l-61 -7l4 -69zM671 275l-33 69l-54 -29l30 -63zM-340 641l-65 -39l34 -51l60 35zM-693 213l-19 -74l61 -12l17 68zM-280 -669l72 -26l18 59l-66 24zM143 -768l76 19l-17 59l-70 -17zM474 -620l60 51l-42 45l-55 -47zM322 711l-73 29l-20 -58l68 -27zM-383 681l-66 -42l35 -51l61 39zM-534 -569l60 -51l37 49l-55 47zM-148 -767l78 -11l5 62l-72 10zM555 -626l58 57l-45 42l-54 -53zM-831 -92l13 -81l60 13l-12 75zM-613 -569l58 -57l41 46l-54 53zM-301 -780l78 -26l17 59l-73 24zM156 -878l84 19l-16 59l-79 -18zM584 -674l63 60l-45 42l-58 -55zM642 -619l57 65l-48 39l-53 -61zM784 -425l37 77l-56 24l-35 -72zM-647 -614l63 -60l40 47l-58 55zM-316 -834l82 -27l16 60l-76 25zM675 -665l60 68l-47 38l-57 -63zM808 495l-51 75l-49 -37l47 -70zM-680 -660l66 -62l40 47l-61 58zM-332 -888l87 -27l16 59l-81 26zM171 -988l92 20l-16 59l-87 -19zM642 -771l70 64l-44 44l-65 -60zM867 -505l44 84l-56 26l-41 -79zM870 498l-50 80l-51 -35l48 -75zM-346 -941l90 -29l16 60l-85 26zM-178 -987l94 -12l5 61l-88 11z"/>
<path fill="#abd9e9" d="M223 -33l2 22l0 22l-2 22l-61 -9l1 -16l0 -16l-1 -16zM205 93l-10 19l-12 19l-13 17l-47 -40l10 -13l9 -13l7 -15zM-223 -31l4 -22l6 -21l8 -20l56 25l-6 15l-4 16l-3 15zM-205 -93l10 -19l12 -19l13 -17l47 40l-10 13l-9 13l-7 15zM121 -253l28 15l27 19l-39 48l-20 -15l-23 -12zM220 174l-21 25l-25 21l-38 -48l19 -17l17 -19zM318 109l-12 31l-15 29l-54 -31l13 -24l10 -25zM-291 169l-15 -29l-12 -31l58 -20l10 25l13 24zM181 -348l28 17l28 19l-38 49l-22 -16l-25 -14zM429 -128l8 33l6 33l-61 8l-5 -28l-7 -28zM2 447l-34 -1l-33 -3l9 -61l28 3l29 1zM-412 289l-35 -58l55 -28l31 51zM505 238l-34 62l-52 -33l30 -55zM-585 185l-18 -69l60 -12l16 63zM644 185l-25 69l-56 -23l21 -63zM621 250l-31 67l-54 -29l28 -61zM721 -74l4 77l-61 -1l-4 -69zM669 -403l37 69l-56 26l-34 -63zM387 678l-70 35l-25 -56l65 -33zM659 -515l47 67l-52 33l-44 -62zM726 416l-44 69l-51 -36l41 -64zM265 793l-79 22l-14 -60l73 -20zM-228 -805l79 -18l11 61l-74 17zM787 420l-44 74l-52 -34l42 -69zM460 764l-76 41l-26 -56l70 -38zM882 345l-36 82l-55 -27l34 -77zM-581 748l-69 -58l42 -45l65 55zM-619 -718l72 -55l35 50l-66 52zM84 -999l94 12l-11 60l-88 -11zM944 340l-36 87l-56 -26l34 -82zM911 421l-44 84l-53 -31l41 -79zM505 867l-84 44l-26 -56l79 -41zM-421 911l-84 -44l31 -53l79 41zM-987 178l-12 -94l61 -5l11 88z"/>
<path fill="#313695" d="M482 -145l15 66l-61 10l-13 -58zM73 -833l81 11l-11 61l-75 -11z"/>
<path fill="#fed484" d="M-553 -81l15 -68l59 16l-13 61z"/>
<path fill="#4575b4" d="M-490 -268l37 -59l50 36l-33 53zM652 430l-47 63l-47 -39l43 -58zM-219 -749l76 -19l11 61l-70 17z"/>
<path fill="#fec778" d="M-229 570l-65 -31l29 -54l59 28zM440 -505l53 52l-45 41l-48 -46zM-275 671l-69 -33l29 -54l63 30zM-711 144l-11 -75l61 -6l11 69zM-712 -139l19 -74l59 18l-17 68zM-249 740l-73 -29l25 -56l68 27zM-310 836l-80 -34l27 -55l74 31z"/>
</g>
<ellipse cx="230.5" cy="383.3" rx="141.4" ry="137.5" fill="none" stroke="#fed68a" stroke-width="3.6" opacity="0.5"/>
<g fill="none" stroke="#fffacd" stroke-width="1">
<ellipse cx="230.5" cy="383.3" rx="47.7" ry="46.4"/>
<ellipse cx="230.5" cy="383.3" rx="95.5" ry="92.9"/>
<ellipse cx="230.5" cy="383.3" rx="143.2" ry="139.3"/>
<line x1="230.5" y1="522.6" x2="230.5" y2="244"/>
<line x1="129.2" y1="481.8" x2="331.8" y2="284.8"/>
<line x1="87.3" y1="383.3" x2="373.7" y2="383.3"/>
<line x1="129.2" y1="284.8" x2="331.8" y2="481.8"/>
</g>
<g class="g" stroke="#00ff00" stroke-width="1" shape-rendering="crispEdges">
<path d="M141.0 291.5h7M144.5 288.0v7M158.0 325.5h7M161.5 322.0v7M168.0 315.5h7M171.5 312.0v7M185.0 300.5h7M188.5 297.0v7M186.0 310.5h7M189.5 307.0v7M189.0 318.5h7M192.5 315.0v7M220.0 299.5h7M223.5 296.0v7M215.0 308.5h7M218.5 305.0v7M224.0 309.5h7M227.5 306.0v7M256.0 311.5h7M259.5 308.0v7M263.0 316.5h7M266.5 313.0v7M271.0 315.5h7M274.5 312.0v7M245.0 331.5h7M248.5 328.0v7M268.0 336.5h7M271.5 333.0v7M307.0 344.5h7M310.5 341.0v7M303.0 375.5h7M306.5 372.0v7M348.0 401.5h7M351.5 398.0v7M364.0 414.5h7M367.5 411.0v7M262.0 427.5h7M265.5 424.0v7M275.0 436.5h7M278.5 433.0v7M290.0 436.5h7M293.5 433.0v7M290.0 441.5h7M293.5 438.0v7M273.0 452.5h7M276.5 449.0v7M281.0 464.5h7M284.5 461.0v7M306.0 464.5h7M309.5 461.0v7M309.0 469.5h7M312.5 466.0v7M269.0 514.5h7M272.5 511.0v7M100.0 443.5h7M103.5 440.0v7M138.0 436.5h7M141.5 433.0v7M150.0 454.5h7M153.5 451.0v7M157.0 459.5h7M160.5 456.0v7M154.0 471.5h7M157.5 468.0v7M179.0 437.5h7M182.5 434.0v7M180.0 428.5h7M183.5 425.0v7M167.0 406.5h7M170.5 403.0v7M196.0 398.5h7M199.5 395.0v7M209.0 393.5h7M212.5 390.0v7M187.0 515.5h7M190.5 512.0v7M224.0 418.5h7M227.5 415.0v7M169.0 386.5h7M172.5 383.0v7M181.0 366.5h7M184.5 363.0v7M203.0 364.5h7M206.5 361.0v7M209.0 364.5h7M212.5 361.0v7M224.0 385.5h7M227.5 382.0v7M228.0 376.5h7M231.5 373.0v7M231.0 378.5h7M234.5 375.0v7M242.0 389.5h7M245.5 386.0v7M161.0 372.5h7M164.5 369.0v7M142.0 364.5h7M145.5 361.0v7M142.0 356.5h7M145.5 353.0v7M110.0 336.5h7M113.5 333.0v7M117.0 336.5h7M120.5 333.0v7M124.0 337.5h7M127.5 334.0v7M110.0 347.5h7M113.5 344.0v7M126.0 346.5h7M129.5 343.0v7M105.0 354.5h7M108.5 351.0v7M126.0 356.5h7M129.5 353.0v7M118.0 354.5h7M121.5 351.0v7" fill="none"/>
</g>
<g class="g" text-anchor="middle">
<text x="143.6" y="283.6">G50</text>
<text x="161.1" y="317.6">C03</text>
<text x="170.8" y="307">C27</text>
<text x="187.7" y="292.3">R02</text>
<text x="188.8" y="302.6">J196</text>
<text x="192.3" y="310.1">J199</text>
<text x="222.8" y="291.5">G32</text>
<text x="217.7" y="300.7">C60</text>
<text x="226.7" y="301.5">G01</text>
<text x="259.2" y="303.6">G03</text>
<text x="266.1" y="308.5">J197</text>
<text x="273.9" y="307.5">E21</text>
<text x="248.5" y="323.3">E01</text>
<text x="270.6" y="328.5">C35</text>
<text x="309.5" y="336.8">R23</text>
<text x="305.6" y="367">G18</text>
<text x="350.6" y="393.6">G24</text>
<text x="367.2" y="406.3">E07</text>
<text x="265.1" y="419.5">G23</text>
<text x="277.8" y="428.8">E33</text>
<text x="293.1" y="428.8">C26</text>
<text x="293.1" y="433.7">C49</text>
<text x="276.2" y="444.4">R08</text>
<text x="284.1" y="456.1">R26</text>
<text x="309" y="456.1">C46</text>
<text x="312.5" y="461">G15</text>
<text x="272.4" y="506">E08</text>
<text x="103" y="435.6">R15</text>
<text x="140.6" y="428.2">E31</text>
<text x="153.3" y="446.4">C08</text>
<text x="160.2" y="450.9">E24</text>
<text x="157.2" y="463">R17</text>
<text x="182.2" y="429.4">E16</text>
<text x="183.1" y="420.4">C12</text>
<text x="170.5" y="398.6">G27</text>
<text x="198.7" y="389.8">G10</text>
<text x="212.5" y="384.9">C14</text>
<text x="190" y="507">R16</text>
<text x="227" y="410.3">R24</text>
<text x="171.9" y="378.4">C10</text>
<text x="184.2" y="357.8">C07</text>
<text x="206.1" y="356.5">E15</text>
<text x="211.5" y="355.8">E03</text>
<text x="227.3" y="377">J195</text>
<text x="230.7" y="368.8">R01</text>
<text x="233.5" y="370.3">C02</text>
<text x="244.6" y="380.9">C52</text>
<text x="163.8" y="364.3">C38</text>
<text x="144.7" y="356.8">E12</text>
<text x="145.1" y="348.8">C08</text>
<text x="113" y="328.7">E10</text>
<text x="119.5" y="328.7">G16</text>
<text x="127" y="328.9">C40</text>
<text x="113.2" y="338.9">G07</text>
<text x="128.7" y="338.6">C13</text>
<text x="108.4" y="346.6">C06</text>
<text x="129.2" y="348.4">E19</text>
<text x="121" y="346.3">G06</text>
</g>
<line x1="230.5" y1="383.8" x2="290.5" y2="404.3" stroke="#ffa500" stroke-width="1"/>
<polyline points="305.1,373.5 299.5,387 290.5,404.5 284,421 271.9,448.5" fill="none" stroke="#ffa500" stroke-width="6.5" stroke-linecap="round" stroke-linejoin="round"/>
<g stroke="#fffacd" stroke-width="1" fill="none" shape-rendering="crispEdges">
<path d="M512 461.8L665.5 382.3L932.9 428.3"/>
<path d="M533.9 450.4l5 0.9M555.9 439.1l5 0.9M577.8 427.7l5 0.9M599.7 416.4l5 0.9M621.6 405l5 0.9M643.6 393.7l5 0.9M719 391.5l-4.5 2.3M772.5 400.7l-4.5 2.3M825.9 409.9l-4.5 2.3M879.4 419.1l-4.5 2.3"/>
</g>
<defs><clipPath id="wsil"><path d="M526.3 419L527.9 416.9L529.4 412.8L531 413.4L532.5 407.6L534 405.6L535.6 402.8L537.1 403.5L538.7 402.8L540.3 402.5L541.9 397.5L543.4 399.9L545 399L547.3 380L549.7 367.5L551.7 362L553.6 356.6L555.5 350.4L557.5 347.2L559.1 343.6L560.6 344.5L562.2 343.3L563.8 341.2L565.3 339.5L566.9 339.7L568.4 338.7L570 338.6L571.6 334.8L573.1 333.4L574.7 332L576.2 333.7L577.8 333.1L579.1 332.1L580.5 331.1L581.8 330.9L583.2 327.7L584.5 329.6L585.9 328.6L587.2 328.4L588.6 326.1L589.9 325.2L591.3 325.3L592.7 321.3L594 323.5L595.4 319.4L596.7 320.1L598.1 322.2L599.4 319.3L600.8 316.5L602.1 318.6L603.5 318.9L604.8 318.2L606.2 317.3L607.5 317.5L608.8 315.9L610.2 314.3L611.5 315.4L612.9 314.1L614.2 313.5L615.6 312.2L616.9 313.6L618.5 312.5L620 310.1L621.5 308.5L623.1 309.7L624.5 305.3L625.9 306.1L627.3 305.7L628.7 302.7L630 302.4L631.4 300.7L632.8 304.2L634.2 303L635.6 303.4L636.9 299.8L638.3 298.8L639.6 300.3L641 300.6L642.3 301.4L643.7 300.1L645 301.1L646.3 299.3L647.7 297.7L649 299.3L650.4 298.2L651.7 294.6L653.1 292.9L654.4 297.2L655.8 294.5L657.2 296L658.6 297.3L660 298L661.4 298L662.8 296L664.2 299.2L665.6 299.5L667 300.3L668.4 301.7L669.8 303.7L671.2 305.6L672.6 306.1L674 309.7L675.4 305.4L676.8 305.6L678.2 302L679.6 308.8L681 308.6L682.5 308L683.9 308.2L685.3 308.1L686.7 307.6L688.1 308.1L689.7 305.1L691.2 305.1L692.8 305L694.2 304.9L695.5 302.5L696.9 306L698.3 305.8L699.7 303.8L701 307.6L702.4 308.6L703.8 310.5L705.2 308.2L706.6 310.1L708 309.1L709.4 308.7L710.7 308.4L712.1 310L713.5 308.9L714.9 310.3L716.3 311.3L717.9 311.5L719.4 316.2L721 320.6L722.6 321.7L724.1 321.4L725.7 322L727.2 325.3L728.8 326.9L730.1 326L731.4 325.5L732.7 322.7L734 323L735.3 320.9L736.6 323L737.9 322.3L739.2 321.7L740.5 321.3L741.8 319.9L743.1 319.4L744.4 319.8L745.7 318.6L747 319L748.3 316.3L749.6 318.4L750.9 318.6L752.2 318.3L753.8 316.6L755.3 314.9L756.9 320L758.4 320.6L759.8 318.6L761.1 319.5L762.5 320.2L763.9 320.3L765.3 320.3L766.6 320L768 320L769.4 322.2L770.7 321.1L772.1 319.4L773.4 320.8L774.8 319.9L776.1 317L777.5 318.1L778.8 319L780.3 319.9L781.9 320.4L783.5 322.6L785 324.5L786.3 323.3L787.7 324.1L789 323.2L790.4 325.1L791.7 324.8L793.1 325.1L794.4 326.1L795.7 326.2L797 328.4L798.3 329.3L799.6 332.2L800.9 333.6L802.2 336.3L803.5 334.7L804.9 333.6L806.2 334.3L807.6 334.4L808.9 335.6L810.2 334.6L811.6 334.3L812.9 335.2L814.3 334L815.6 335.2L816.9 332.1L818.3 335.4L819.6 335.1L821 336L822.3 334.7L823.7 337.2L825 338.3L826.4 336.6L827.8 337.3L829.2 337.3L830.6 338.1L832 337.1L833.4 337.5L834.8 337.1L836.2 337.1L837.6 337.9L839 339L840.3 339L841.6 340.5L843 337.4L844.3 343.1L845.6 340L846.9 345.3L848.3 340.7L849.6 339.6L851 341.6L852.3 341.7L853.7 341.7L855.1 341.7L856.4 337.4L857.8 340.6L859.2 339L860.6 337.9L862 339.2L863.4 337.6L864.8 338.9L866.3 338L867.7 337L869.1 337.3L870.5 337.6L871.9 337.5L873.5 338.9L875 338.9L876.5 341.6L878.1 345.3L879.4 342.2L880.8 344.7L882.1 345.2L883.5 346.4L884.8 345.4L886.2 349.1L887.5 350L888.8 349.5L890.2 349.2L891.5 349.7L892.9 349.2L894.2 347.6L895.6 349.5L896.9 352.3L898.5 354.8L900 358.9L901.6 364L903.1 365.1L904.7 362.4L906.2 364.1L907.8 368.8L909.1 374L910.4 379.5L911.7 386L913.2 384.5L914.6 381.5L916.1 383.8L917.5 382.5L919 380.6L920.4 380.1L921.9 382.8L923.5 385L925 390.6L926.6 390.5L928.1 390.4L929.7 390.6L925 396.9L923.4 394.1L921.9 395.4L920.3 401.6L918.7 404.1L917.2 410.7L915.6 416.4L914 415.7L912.5 412L911 412.4L909.4 413.6L907.8 415L906.3 414.8L904.7 412.3L903.2 408.6L901.6 407.8L900 406.9L898.5 406.3L896.9 406.1L895.4 400.4L893.8 406.3L892.2 406.3L890.6 405.1L889 409.4L887.5 404.3L885.9 402L884.4 400L882.8 397.9L881.2 398.1L879.6 397.5L878 401.6L876.5 399.2L874.9 400.5L873.4 401.2L871.8 399.8L870.3 399.8L868.7 400L867.2 403.1L865.6 400.1L864.1 395.3L862.5 396L860.7 393.7L858.8 394L857 394.5L855.6 393.2L854.2 394.8L852.8 399L851.4 398.2L850 403L848.4 403.7L846.9 403L845.3 409.4L843.8 406.2L842.2 407.3L840.6 403.2L839.1 407.7L837.5 403.1L836 407L834.4 405.2L832.9 405.9L831.3 408.2L829.7 409.4L828.1 405.7L826.5 410.6L825 409.8L823.4 414L821.7 414.1L820.1 411.3L818.4 418.8L816.8 419.7L815.3 426.6L813.8 445.3L812.2 446.8L810.6 454L809 454L807.5 451.9L805.9 454.3L804.4 458.6L802.8 456.5L801.3 457.1L799.7 462.5L798.1 460L796.6 462.1L795 461.5L793.5 467.5L791.9 470.3L790.1 468.6L788.2 475.7L786.4 479L785 473.5L783.6 472.8L782.2 472.2L780.8 471.5L779.4 471.9L777.5 468.3L775.5 464.8L773.9 466.8L772.4 468.1L770.8 470L769.2 473.4L767.4 467.7L765.6 462.1L763.8 458.6L762.2 457.8L760.6 453.7L759.1 459.5L757.5 461L755.9 457.3L754.3 458.3L752.8 460.5L751.2 458.7L749.6 460.8L748 465.6L746.5 462L744.9 460.7L743.4 458.6L741.9 457.2L740.3 457L738.8 453.1L737.2 456.3L735.7 453.4L734.1 449.7L732.5 448.5L731 446L729.4 440L727.9 446.3L726.3 449.3L724.7 446.3L723.2 450.9L721.6 454.7L720 452.1L718.5 447.6L716.9 447L715.3 444.5L713.8 440.7L712.2 445.7L710.6 443.2L709.1 444.9L707.5 445.4L706 448.4L704.4 446.2L702.9 445.2L701.3 444.4L699.7 445.5L698.2 443.9L696.6 446.9L695 446.8L693.5 447.8L691.9 446.3L690.3 446.7L688.7 444.1L687.2 447.8L685.6 450L684 446.7L682.5 445.7L680.9 449.9L679.4 449L677.8 449.5L676.3 446.3L674.7 450.8L673.1 443.7L671.6 439.2L670 438.4L668.5 437.6L666.9 435.9L665.3 440.1L663.8 443L662 436.8L660.1 430.3L658.3 427.5L656.5 428.8L654.6 428.7L652.8 435.3L651.2 435.3L649.7 435L648.1 435.3L646.6 431.7L645 440L643.5 440.5L641.9 439.1L640.3 440.5L638.8 447.8L636.4 460.3L635 455.5L633.6 455L632.2 454.3L630.8 453.9L629.4 452.5L627.8 450.3L626.3 446.3L624.7 447.4L623.2 444.8L621.6 444.7L620 435.8L618.4 432.2L616.8 432.3L615.3 432.2L613.7 433.6L612.2 434.5L610.6 444.7L609 431.8L607.5 427.5L606 425L604.4 423.6L602.8 417.7L601.2 422.4L599.6 421.8L598 423.6L596.5 418.6L594.9 415.9L593.4 419.7L591.8 416L590.3 413.4L588.7 413.2L587.1 414.4L585.6 417.9L584 420.5L582.2 410L580.4 413.5L578.6 413.4L577.2 414.2L575.8 415.4L574.4 412.1L573 414.8L571.6 419.7L570.2 410.9L568.8 415.1L567.4 413.1L566 413.4L564.2 414.6L562.4 415.3L560.6 419.7L559 417.5L557.5 414.5L556 414.5L554.4 413.2L552.8 418.1L551.3 418L549.7 412.4L548.2 418.3L546.6 417.3L545 421L543.4 420.7L541.9 417.7L540.3 423.6L538.7 420L537.2 422.3L535.6 422.8L533.7 423L531.7 429L530.1 423.5L528.6 424L527 425Z"/></clipPath><linearGradient id="wbg" x1="0" y1="0" x2="0.25" y2="1"><stop offset="0" stop-color="#f4efd8"/><stop offset="0.35" stop-color="#e2f1f5"/><stop offset="0.7" stop-color="#b5d6ea"/><stop offset="1" stop-color="#7fb0d8"/></linearGradient></defs>
<g clip-path="url(#wsil)" shape-rendering="crispEdges">
<path d="M526.3 419L527.9 416.9L529.4 412.8L531 413.4L532.5 407.6L534 405.6L535.6 402.8L537.1 403.5L538.7 402.8L540.3 402.5L541.9 397.5L543.4 399.9L545 399L547.3 380L549.7 367.5L551.7 362L553.6 356.6L555.5 350.4L557.5 347.2L559.1 343.6L560.6 344.5L562.2 343.3L563.8 341.2L565.3 339.5L566.9 339.7L568.4 338.7L570 338.6L571.6 334.8L573.1 333.4L574.7 332L576.2 333.7L577.8 333.1L579.1 332.1L580.5 331.1L581.8 330.9L583.2 327.7L584.5 329.6L585.9 328.6L587.2 328.4L588.6 326.1L589.9 325.2L591.3 325.3L592.7 321.3L594 323.5L595.4 319.4L596.7 320.1L598.1 322.2L599.4 319.3L600.8 316.5L602.1 318.6L603.5 318.9L604.8 318.2L606.2 317.3L607.5 317.5L608.8 315.9L610.2 314.3L611.5 315.4L612.9 314.1L614.2 313.5L615.6 312.2L616.9 313.6L618.5 312.5L620 310.1L621.5 308.5L623.1 309.7L624.5 305.3L625.9 306.1L627.3 305.7L628.7 302.7L630 302.4L631.4 300.7L632.8 304.2L634.2 303L635.6 303.4L636.9 299.8L638.3 298.8L639.6 300.3L641 300.6L642.3 301.4L643.7 300.1L645 301.1L646.3 299.3L647.7 297.7L649 299.3L650.4 298.2L651.7 294.6L653.1 292.9L654.4 297.2L655.8 294.5L657.2 296L658.6 297.3L660 298L661.4 298L662.8 296L664.2 299.2L665.6 299.5L667 300.3L668.4 301.7L669.8 303.7L671.2 305.6L672.6 306.1L674 309.7L675.4 305.4L676.8 305.6L678.2 302L679.6 308.8L681 308.6L682.5 308L683.9 308.2L685.3 308.1L686.7 307.6L688.1 308.1L689.7 305.1L691.2 305.1L692.8 305L694.2 304.9L695.5 302.5L696.9 306L698.3 305.8L699.7 303.8L701 307.6L702.4 308.6L703.8 310.5L705.2 308.2L706.6 310.1L708 309.1L709.4 308.7L710.7 308.4L712.1 310L713.5 308.9L714.9 310.3L716.3 311.3L717.9 311.5L719.4 316.2L721 320.6L722.6 321.7L724.1 321.4L725.7 322L727.2 325.3L728.8 326.9L730.1 326L731.4 325.5L732.7 322.7L734 323L735.3 320.9L736.6 323L737.9 322.3L739.2 321.7L740.5 321.3L741.8 319.9L743.1 319.4L744.4 319.8L745.7 318.6L747 319L748.3 316.3L749.6 318.4L750.9 318.6L752.2 318.3L753.8 316.6L755.3 314.9L756.9 320L758.4 320.6L759.8 318.6L761.1 319.5L762.5 320.2L763.9 320.3L765.3 320.3L766.6 320L768 320L769.4 322.2L770.7 321.1L772.1 319.4L773.4 320.8L774.8 319.9L776.1 317L777.5 318.1L778.8 319L780.3 319.9L781.9 320.4L783.5 322.6L785 324.5L786.3 323.3L787.7 324.1L789 323.2L790.4 325.1L791.7 324.8L793.1 325.1L794.4 326.1L795.7 326.2L797 328.4L798.3 329.3L799.6 332.2L800.9 333.6L802.2 336.3L803.5 334.7L804.9 333.6L806.2 334.3L807.6 334.4L808.9 335.6L810.2 334.6L811.6 334.3L812.9 335.2L814.3 334L815.6 335.2L816.9 332.1L818.3 335.4L819.6 335.1L821 336L822.3 334.7L823.7 337.2L825 338.3L826.4 336.6L827.8 337.3L829.2 337.3L830.6 338.1L832 337.1L833.4 337.5L834.8 337.1L836.2 337.1L837.6 337.9L839 339L840.3 339L841.6 340.5L843 337.4L844.3 343.1L845.6 340L846.9 345.3L848.3 340.7L849.6 339.6L851 341.6L852.3 341.7L853.7 341.7L855.1 341.7L856.4 337.4L857.8 340.6L859.2 339L860.6 337.9L862 339.2L863.4 337.6L864.8 338.9L866.3 338L867.7 337L869.1 337.3L870.5 337.6L871.9 337.5L873.5 338.9L875 338.9L876.5 341.6L878.1 345.3L879.4 342.2L880.8 344.7L882.1 345.2L883.5 346.4L884.8 345.4L886.2 349.1L887.5 350L888.8 349.5L890.2 349.2L891.5 349.7L892.9 349.2L894.2 347.6L895.6 349.5L896.9 352.3L898.5 354.8L900 358.9L901.6 364L903.1 365.1L904.7 362.4L906.2 364.1L907.8 368.8L909.1 374L910.4 379.5L911.7 386L913.2 384.5L914.6 381.5L916.1 383.8L917.5 382.5L919 380.6L920.4 380.1L921.9 382.8L923.5 385L925 390.6L926.6 390.5L928.1 390.4L929.7 390.6L925 396.9L923.4 394.1L921.9 395.4L920.3 401.6L918.7 404.1L917.2 410.7L915.6 416.4L914 415.7L912.5 412L911 412.4L909.4 413.6L907.8 415L906.3 414.8L904.7 412.3L903.2 408.6L901.6 407.8L900 406.9L898.5 406.3L896.9 406.1L895.4 400.4L893.8 406.3L892.2 406.3L890.6 405.1L889 409.4L887.5 404.3L885.9 402L884.4 400L882.8 397.9L881.2 398.1L879.6 397.5L878 401.6L876.5 399.2L874.9 400.5L873.4 401.2L871.8 399.8L870.3 399.8L868.7 400L867.2 403.1L865.6 400.1L864.1 395.3L862.5 396L860.7 393.7L858.8 394L857 394.5L855.6 393.2L854.2 394.8L852.8 399L851.4 398.2L850 403L848.4 403.7L846.9 403L845.3 409.4L843.8 406.2L842.2 407.3L840.6 403.2L839.1 407.7L837.5 403.1L836 407L834.4 405.2L832.9 405.9L831.3 408.2L829.7 409.4L828.1 405.7L826.5 410.6L825 409.8L823.4 414L821.7 414.1L820.1 411.3L818.4 418.8L816.8 419.7L815.3 426.6L813.8 445.3L812.2 446.8L810.6 454L809 454L807.5 451.9L805.9 454.3L804.4 458.6L802.8 456.5L801.3 457.1L799.7 462.5L798.1 460L796.6 462.1L795 461.5L793.5 467.5L791.9 470.3L790.1 468.6L788.2 475.7L786.4 479L785 473.5L783.6 472.8L782.2 472.2L780.8 471.5L779.4 471.9L777.5 468.3L775.5 464.8L773.9 466.8L772.4 468.1L770.8 470L769.2 473.4L767.4 467.7L765.6 462.1L763.8 458.6L762.2 457.8L760.6 453.7L759.1 459.5L757.5 461L755.9 457.3L754.3 458.3L752.8 460.5L751.2 458.7L749.6 460.8L748 465.6L746.5 462L744.9 460.7L743.4 458.6L741.9 457.2L740.3 457L738.8 453.1L737.2 456.3L735.7 453.4L734.1 449.7L732.5 448.5L731 446L729.4 440L727.9 446.3L726.3 449.3L724.7 446.3L723.2 450.9L721.6 454.7L720 452.1L718.5 447.6L716.9 447L715.3 444.5L713.8 440.7L712.2 445.7L710.6 443.2L709.1 444.9L707.5 445.4L706 448.4L704.4 446.2L702.9 445.2L701.3 444.4L699.7 445.5L698.2 443.9L696.6 446.9L695 446.8L693.5 447.8L691.9 446.3L690.3 446.7L688.7 444.1L687.2 447.8L685.6 450L684 446.7L682.5 445.7L680.9 449.9L679.4 449L677.8 449.5L676.3 446.3L674.7 450.8L673.1 443.7L671.6 439.2L670 438.4L668.5 437.6L666.9 435.9L665.3 440.1L663.8 443L662 436.8L660.1 430.3L658.3 427.5L656.5 428.8L654.6 428.7L652.8 435.3L651.2 435.3L649.7 435L648.1 435.3L646.6 431.7L645 440L643.5 440.5L641.9 439.1L640.3 440.5L638.8 447.8L636.4 460.3L635 455.5L633.6 455L632.2 454.3L630.8 453.9L629.4 452.5L627.8 450.3L626.3 446.3L624.7 447.4L623.2 444.8L621.6 444.7L620 435.8L618.4 432.2L616.8 432.3L615.3 432.2L613.7 433.6L612.2 434.5L610.6 444.7L609 431.8L607.5 427.5L606 425L604.4 423.6L602.8 417.7L601.2 422.4L599.6 421.8L598 423.6L596.5 418.6L594.9 415.9L593.4 419.7L591.8 416L590.3 413.4L588.7 413.2L587.1 414.4L585.6 417.9L584 420.5L582.2 410L580.4 413.5L578.6 413.4L577.2 414.2L575.8 415.4L574.4 412.1L573 414.8L571.6 419.7L570.2 410.9L568.8 415.1L567.4 413.1L566 413.4L564.2 414.6L562.4 415.3L560.6 419.7L559 417.5L557.5 414.5L556 414.5L554.4 413.2L552.8 418.1L551.3 418L549.7 412.4L548.2 418.3L546.6 417.3L545 421L543.4 420.7L541.9 417.7L540.3 423.6L538.7 420L537.2 422.3L535.6 422.8L533.7 423L531.7 429L530.1 423.5L528.6 424L527 425Z" fill="url(#wbg)"/>
<g transform="scale(0.5)">
<path fill="#e4f3f6" d="
M1333 595l11 8l4 11l-11 -10z
M1329 608l11 8l4 -13l-11 -8z
"/>
<path fill="#e9f2ee" d="
M1325 584l11 23l4 9l-11 -8z
"/>
<path fill="#f3f1dd" d="
M1321 599l11 -1l4 9l-11 -23z
M1317 592l11 13l4 -7l-11 1z
M1313 592l11 12l4 1l-11 -13z
"/>
<path fill="#f7f0d4" d="
M1309 592l11 0l4 12l-11 -12z
"/>
<path fill="#f8edc8" d="
M1305 591l11 14l4 -13l-11 0z
"/>
<path fill="#f7f0d4" d="
M1301 601l11 1l4 3l-11 -14z
"/>
<path fill="#f8edc8" d="
M1296 592l12 6l4 4l-11 -1z
"/>
<path fill="#f9ebbe" d="
M1292 589l12 1l4 8l-12 -6z
"/>
<path fill="#fae8b2" d="
M1288 588l12 15l4 -13l-12 -1z
"/>
<path fill="#f8edc8" d="
M1284 605l12 4l4 -6l-12 -15z
"/>
<path fill="#f9ebbe" d="
M1280 600l12 -6l4 15l-12 -4z
M1276 604l11 13l5 -23l-12 6z
M1272 596l11 15l4 6l-11 -13z
M1268 605l11 4l4 2l-11 -15z
M1264 602l11 7l4 0l-11 -4z
M1260 606l11 11l4 -8l-11 -7z
"/>
<path fill="#f8edc8" d="
M1256 625l11 0l4 -8l-11 -11z
"/>
<path fill="#f7f0d4" d="
M1252 614l11 19l4 -8l-11 0z
M1248 622l11 15l4 -4l-11 -19z
"/>
<path fill="#f8edc8" d="
M1244 618l11 10l4 9l-11 -15z
"/>
<path fill="#f7f0d4" d="
M1240 631l11 14l4 -17l-11 -10z
"/>
<path fill="#f8edc8" d="
M1236 618l11 5l4 22l-11 -14z
M1231 632l12 9l4 -18l-11 -5z
M1227 628l12 1l4 12l-12 -9z
M1223 634l12 7l4 -12l-12 -1z
"/>
<path fill="#f7f0d4" d="
M1219 639l12 9l4 -7l-12 -7z
M1215 639l12 10l4 -1l-12 -9z
"/>
<path fill="#f9ebbe" d="
M1211 629l11 4l5 16l-12 -10z
"/>
<path fill="#fae8b2" d="
M1207 636l11 5l4 -8l-11 -4z
"/>
<path fill="#f8edc8" d="
M1203 646l11 7l4 -12l-11 -5z
"/>
<path fill="#f7f0d4" d="
M1199 658l11 -3l4 -2l-11 -7z
M1195 649l11 0l4 6l-11 3z
"/>
<path fill="#f9ebbe" d="
M1191 645l11 5l4 -1l-11 0z
"/>
<path fill="#f8edc8" d="
M1187 654l11 9l4 -13l-11 -5z
M1183 656l11 5l4 2l-11 -9z
M1179 647l11 13l4 1l-11 -5z
"/>
<path fill="#f9ebbe" d="
M1175 652l11 11l4 -3l-11 -13z
M1170 655l12 6l4 2l-11 -11z
M1166 660l12 2l4 -1l-12 -6z
M1162 655l12 9l4 -2l-12 -2z
M1158 660l12 5l4 -1l-12 -9z
"/>
<path fill="#fae8b2" d="
M1154 653l12 16l4 -4l-12 -5z
M1150 669l11 -2l5 2l-12 -16z
"/>
<path fill="#f8edc8" d="
M1146 673l11 13l4 -19l-11 2z
M1142 671l11 6l4 9l-11 -13z
"/>
<path fill="#f9ebbe" d="
M1138 662l11 20l4 -5l-11 -6z
M1134 677l11 13l4 -8l-11 -20z
"/>
<path fill="#f8edc8" d="
M1130 684l11 -4l4 10l-11 -13z
"/>
<path fill="#f9ebbe" d="
M1126 674l11 9l4 -3l-11 4z
M1122 682l11 8l4 -7l-11 -9z
M1118 673l11 13l4 4l-11 -8z
"/>
<path fill="#fae8b2" d="
M1114 684l11 8l4 -6l-11 -13z
"/>
<path fill="#f7f0d4" d="
M1109 695l12 22l4 -25l-11 -8z
"/>
<path fill="#f3f1dd" d="
M1105 697l12 28l4 -8l-12 -22z
"/>
<path fill="#e4f3f6" d="
M1101 738l12 11l4 -24l-12 -28z
"/>
<path fill="#c5e2ef" d="
M1097 782l12 -8l4 -25l-12 -11z
"/>
<path fill="#96c4e1" d="
M1093 807l12 4l4 -37l-12 8z
"/>
<path fill="#7cb1d5" d="
M1089 819l11 12l5 -20l-12 -4z
M1085 819l11 7l4 5l-11 -12z
"/>
<path fill="#6fa8cf" d="
M1081 838l11 5l4 -17l-11 -7z
"/>
<path fill="#75add2" d="
M1077 820l11 4l4 19l-11 -5z
"/>
<path fill="#89badc" d="
M1073 819l11 -6l4 11l-11 -4z
M1069 814l11 15l4 -16l-11 6z
"/>
<path fill="#82b6d9" d="
M1065 822l11 23l4 -16l-11 -15z
"/>
<path fill="#7cb1d5" d="
M1061 837l11 -2l4 10l-11 -23z
"/>
<path fill="#82b6d9" d="
M1057 829l11 1l4 5l-11 2z
M1053 829l11 13l4 -12l-11 -1z
"/>
<path fill="#daeef4" d="
M1344 603l12 36l4 -5l-12 -20z
M1340 616l12 20l4 3l-12 -36z
"/>
<path fill="#ddf0f5" d="
M1336 607l12 18l4 11l-12 -20z
"/>
<path fill="#e4f3f6" d="
M1332 598l12 29l4 -2l-12 -18z
"/>
<path fill="#e9f2ee" d="
M1328 605l11 10l5 12l-12 -29z
"/>
<path fill="#e4f3f6" d="
M1324 604l11 35l4 -24l-11 -10z
"/>
<path fill="#e9f2ee" d="
M1320 592l11 41l4 6l-11 -35z
"/>
<path fill="#eef2e5" d="
M1316 605l11 20l4 8l-11 -41z
M1312 602l11 24l4 -1l-11 -20z
M1308 598l11 31l4 -3l-11 -24z
"/>
<path fill="#f3f1dd" d="
M1304 590l11 39l4 0l-11 -31z
M1300 603l11 27l4 -1l-11 -39z
M1296 609l11 25l4 -4l-11 -27z
M1292 594l11 45l4 -5l-11 -25z
M1287 617l12 25l4 -3l-11 -45z
M1283 611l12 20l4 11l-12 -25z
M1279 609l12 34l4 -12l-12 -20z
"/>
<path fill="#f7f0d4" d="
M1275 609l12 22l4 12l-12 -34z
M1271 617l12 27l4 -13l-12 -22z
"/>
<path fill="#f3f1dd" d="
M1267 625l11 22l5 -3l-12 -27z
"/>
<path fill="#eef2e5" d="
M1263 633l11 12l4 2l-11 -22z
M1259 637l11 20l4 -12l-11 -12z
"/>
<path fill="#e9f2ee" d="
M1255 628l11 39l4 -10l-11 -20z
M1251 645l11 23l4 -1l-11 -39z
"/>
<path fill="#eef2e5" d="
M1247 623l11 34l4 11l-11 -23z
M1243 641l11 25l4 -9l-11 -34z
M1239 629l11 39l4 -2l-11 -25z
"/>
<path fill="#f3f1dd" d="
M1235 641l11 16l4 11l-11 -39z
"/>
<path fill="#eef2e5" d="
M1231 648l11 30l4 -21l-11 -16z
"/>
<path fill="#e9f2ee" d="
M1227 649l11 26l4 3l-11 -30z
"/>
<path fill="#f3f1dd" d="
M1222 633l12 22l4 20l-11 -26z
"/>
<path fill="#f7f0d4" d="
M1218 641l12 37l4 -23l-12 -22z
"/>
<path fill="#eef2e5" d="
M1214 653l12 29l4 -4l-12 -37z
M1210 655l12 30l4 -3l-12 -29z
M1206 649l12 26l4 10l-12 -30z
"/>
<path fill="#f3f1dd" d="
M1202 650l11 38l5 -13l-12 -26z
"/>
<path fill="#eef2e5" d="
M1198 663l11 16l4 9l-11 -38z
M1194 661l11 27l4 -9l-11 -16z
M1190 660l11 32l4 -4l-11 -27z
M1186 663l11 38l4 -9l-11 -32z
M1182 661l11 39l4 1l-11 -38z
M1178 662l11 43l4 -5l-11 -39z
"/>
<path fill="#f3f1dd" d="
M1174 664l11 20l4 21l-11 -43z
"/>
<path fill="#f7f0d4" d="
M1170 665l11 28l4 -9l-11 -20z
M1166 669l11 14l4 10l-11 -28z
M1161 667l12 31l4 -15l-11 -14z
"/>
<path fill="#f3f1dd" d="
M1157 686l12 22l4 -10l-12 -31z
"/>
<path fill="#eef2e5" d="
M1153 677l12 31l4 0l-12 -22z
"/>
<path fill="#f3f1dd" d="
M1149 682l12 21l4 5l-12 -31z
M1145 690l12 21l4 -8l-12 -21z
M1141 680l11 33l5 -2l-12 -21z
"/>
<path fill="#f7f0d4" d="
M1137 683l11 23l4 7l-11 -33z
"/>
<path fill="#f3f1dd" d="
M1133 690l11 25l4 -9l-11 -23z
M1129 686l11 32l4 -3l-11 -25z
M1125 692l11 37l4 -11l-11 -32z
"/>
<path fill="#e9f2ee" d="
M1121 717l11 24l4 -12l-11 -37z
"/>
<path fill="#e0f1f6" d="
M1117 725l11 22l4 -6l-11 -24z
"/>
<path fill="#daeef4" d="
M1113 749l11 10l4 -12l-11 -22z
"/>
<path fill="#c5e2ef" d="
M1109 774l11 -4l4 -11l-11 -10z
"/>
<path fill="#a5cee6" d="
M1105 811l11 -17l4 -24l-11 4z
"/>
<path fill="#82b6d9" d="
M1100 831l12 -5l4 -32l-11 17z
"/>
<path fill="#75add2" d="
M1096 826l12 2l4 -2l-12 5z
M1092 843l12 -19l4 4l-12 -2z
"/>
<path fill="#7cb1d5" d="
M1088 824l12 0l4 0l-12 19z
"/>
<path fill="#82b6d9" d="
M1084 813l12 23l4 -12l-12 0z
M1080 829l11 7l5 0l-12 -23z
"/>
<path fill="#7cb1d5" d="
M1076 845l11 -20l4 11l-11 -7z
"/>
<path fill="#75add2" d="
M1072 835l11 19l4 -29l-11 20z
"/>
<path fill="#7cb1d5" d="
M1068 830l11 -5l4 29l-11 -19z
"/>
<path fill="#82b6d9" d="
M1064 842l11 -11l4 -6l-11 5z
"/>
<path fill="#cee7f2" d="
M1356 639l11 -8l4 6l-11 -3z
M1352 636l11 6l4 -11l-11 8z
"/>
<path fill="#daeef4" d="
M1348 625l11 -1l4 18l-11 -6z
"/>
<path fill="#ddf0f5" d="
M1344 627l11 3l4 -6l-11 1z
M1339 615l12 25l4 -10l-11 -3z
M1335 639l12 -9l4 10l-12 -25z
M1331 633l12 -10l4 7l-12 9z
"/>
<path fill="#e0f1f6" d="
M1327 625l12 4l4 -6l-12 10z
"/>
<path fill="#e4f3f6" d="
M1323 626l12 0l4 3l-12 -4z
M1319 629l11 5l5 -8l-12 0z
M1315 629l11 4l4 1l-11 -5z
M1311 630l11 -1l4 4l-11 -4z
M1307 634l11 13l4 -18l-11 1z
"/>
<path fill="#e0f1f6" d="
M1303 639l11 1l4 7l-11 -13z
"/>
<path fill="#e4f3f6" d="
M1299 642l11 2l4 -4l-11 -1z
"/>
<path fill="#e9f2ee" d="
M1295 631l11 2l4 11l-11 -2z
M1291 643l11 3l4 -13l-11 -2z
M1287 631l11 12l4 3l-11 -3z
M1283 644l11 -3l4 2l-11 -12z
M1278 647l12 1l4 -7l-11 3z
M1274 645l12 10l4 -7l-12 -1z
"/>
<path fill="#e4f3f6" d="
M1270 657l12 2l4 -4l-12 -10z
"/>
<path fill="#e0f1f6" d="
M1266 667l12 -8l4 0l-12 -2z
"/>
<path fill="#ddf0f5" d="
M1262 668l12 5l4 -14l-12 8z
"/>
<path fill="#e0f1f6" d="
M1258 657l12 7l4 9l-12 -5z
"/>
<path fill="#e4f3f6" d="
M1254 666l11 0l5 -2l-12 -7z
M1250 668l11 -4l4 2l-11 0z
M1246 657l11 10l4 -3l-11 4z
M1242 678l11 0l4 -11l-11 -10z
"/>
<path fill="#e0f1f6" d="
M1238 675l11 -10l4 13l-11 0z
"/>
<path fill="#e9f2ee" d="
M1234 655l11 17l4 -7l-11 10z
M1230 678l11 -1l4 -5l-11 -17z
"/>
<path fill="#e4f3f6" d="
M1226 682l11 -1l4 -4l-11 1z
M1222 685l11 -8l4 4l-11 1z
M1218 675l11 5l4 -3l-11 8z
M1213 688l12 0l4 -8l-11 -5z
M1209 679l12 1l4 8l-12 0z
"/>
<path fill="#e9f2ee" d="
M1205 688l12 -2l4 -6l-12 -1z
"/>
<path fill="#e4f3f6" d="
M1201 692l12 -8l4 2l-12 2z
M1197 701l12 -13l4 -4l-12 8z
M1193 700l11 -12l5 0l-12 13z
M1189 705l11 -19l4 2l-11 12z
"/>
<path fill="#e9f2ee" d="
M1185 684l11 9l4 -7l-11 19z
"/>
<path fill="#eef2e5" d="
M1181 693l11 1l4 -1l-11 -9z
M1177 683l11 7l4 4l-11 -1z
M1173 698l11 2l4 -10l-11 -7z
"/>
<path fill="#e4f3f6" d="
M1169 708l11 1l4 -9l-11 -2z
M1165 708l11 -1l4 2l-11 -1z
"/>
<path fill="#e9f2ee" d="
M1161 703l11 -1l4 5l-11 1z
"/>
<path fill="#eef2e5" d="
M1157 711l11 -10l4 1l-11 1z
"/>
<path fill="#e9f2ee" d="
M1152 713l12 11l4 -23l-11 10z
M1148 706l12 4l4 14l-12 -11z
M1144 715l12 0l4 -5l-12 -4z
M1140 718l12 -5l4 2l-12 0z
"/>
<path fill="#e4f3f6" d="
M1136 729l12 4l4 -20l-12 5z
"/>
<path fill="#ddf0f5" d="
M1132 741l11 7l5 -15l-12 -4z
"/>
<path fill="#daeef4" d="
M1128 747l11 -1l4 2l-11 -7z
"/>
<path fill="#d6ecf4" d="
M1124 759l11 1l4 -14l-11 1z
"/>
<path fill="#bcddec" d="
M1120 770l11 16l4 -26l-11 -1z
"/>
<path fill="#a5cee6" d="
M1116 794l11 10l4 -18l-11 -16z
"/>
<path fill="#8fbfdf" d="
M1112 826l11 -22l4 0l-11 -10z
"/>
<path fill="#82b6d9" d="
M1108 828l11 -3l4 -21l-11 22z
"/>
<path fill="#7cb1d5" d="
M1104 824l11 16l4 -15l-11 3z
"/>
<path fill="#82b6d9" d="
M1100 824l11 -24l4 40l-11 -16z
"/>
<path fill="#8fbfdf" d="
M1096 836l11 -31l4 -5l-11 24z
"/>
<path fill="#82b6d9" d="
M1091 836l12 -6l4 -25l-11 31z
"/>
<path fill="#89badc" d="
M1087 825l12 -18l4 23l-12 6z
"/>
<path fill="#7cb1d5" d="
M1083 854l12 1l4 -48l-12 18z
"/>
<path fill="#75add2" d="
M1079 825l12 12l4 18l-12 -1z
"/>
<path fill="#82b6d9" d="
M1075 831l12 19l4 -13l-12 -12z
"/>
<path fill="#d6ecf4" d="
M1367 631l11 0l4 -2l-11 8z
M1363 642l11 -2l4 -9l-11 0z
"/>
<path fill="#daeef4" d="
M1359 624l11 -4l4 20l-11 2z
"/>
<path fill="#e0f1f6" d="
M1355 630l11 -9l4 -1l-11 4z
M1351 640l11 -18l4 -1l-11 9z
M1347 630l11 -3l4 -5l-11 18z
M1343 623l11 4l4 0l-11 3z
"/>
<path fill="#e9f2ee" d="
M1339 629l11 -16l4 14l-11 -4z
M1335 626l11 -7l4 -6l-11 16z
M1330 634l12 -17l4 2l-11 7z
M1326 633l12 -16l4 0l-12 17z
"/>
<path fill="#eef2e5" d="
M1322 629l12 -13l4 1l-12 16z
"/>
<path fill="#e9f2ee" d="
M1318 647l12 -14l4 -17l-12 13z
"/>
<path fill="#e4f3f6" d="
M1314 640l12 -8l4 1l-12 14z
M1310 644l11 -3l5 -9l-12 8z
"/>
<path fill="#e9f2ee" d="
M1306 633l11 3l4 5l-11 3z
M1302 646l11 -6l4 -4l-11 -3z
M1298 643l11 -10l4 7l-11 6z
"/>
<path fill="#eef2e5" d="
M1294 641l11 -4l4 -4l-11 10z
M1290 648l11 -15l4 4l-11 4z
"/>
<path fill="#e9f2ee" d="
M1286 655l11 -1l4 -21l-11 15z
"/>
<path fill="#e4f3f6" d="
M1282 659l11 -5l4 0l-11 1z
M1278 659l11 -3l4 -2l-11 5z
"/>
<path fill="#e0f1f6" d="
M1274 673l11 -6l4 -11l-11 3z
"/>
<path fill="#e4f3f6" d="
M1270 664l11 -16l4 19l-11 6z
"/>
<path fill="#e9f2ee" d="
M1265 666l12 0l4 -18l-11 16z
"/>
<path fill="#e4f3f6" d="
M1261 664l12 10l4 -8l-12 0z
M1257 667l12 -5l4 12l-12 -10z
M1253 678l12 -8l4 -8l-12 5z
M1249 665l12 5l4 0l-12 8z
"/>
<path fill="#e9f2ee" d="
M1245 672l11 -11l5 9l-12 -5z
"/>
<path fill="#eef2e5" d="
M1241 677l11 -22l4 6l-11 11z
"/>
<path fill="#e9f2ee" d="
M1237 681l11 0l4 -26l-11 22z
"/>
<path fill="#e4f3f6" d="
M1233 677l11 2l4 2l-11 0z
"/>
<path fill="#e9f2ee" d="
M1229 680l11 2l4 -3l-11 -2z
M1225 688l11 -9l4 3l-11 -2z
"/>
<path fill="#e4f3f6" d="
M1221 680l11 11l4 -12l-11 9z
"/>
<path fill="#e9f2ee" d="
M1217 686l11 3l4 2l-11 -11z
"/>
<path fill="#eef2e5" d="
M1213 684l11 -11l4 16l-11 -3z
M1209 688l11 -1l4 -14l-11 11z
"/>
<path fill="#e9f2ee" d="
M1204 688l12 2l4 -3l-11 1z
"/>
<path fill="#eef2e5" d="
M1200 686l12 -2l4 6l-12 -2z
M1196 693l12 8l4 -17l-12 2z
"/>
<path fill="#e9f2ee" d="
M1192 694l12 -5l4 12l-12 -8z
"/>
<path fill="#f3f1dd" d="
M1188 690l12 -4l4 3l-12 5z
"/>
<path fill="#eef2e5" d="
M1184 700l11 2l5 -16l-12 4z
"/>
<path fill="#e9f2ee" d="
M1180 709l11 1l4 -8l-11 -2z
"/>
<path fill="#e4f3f6" d="
M1176 707l11 9l4 -6l-11 -1z
"/>
<path fill="#eef2e5" d="
M1172 702l11 -14l4 28l-11 -9z
"/>
<path fill="#f3f1dd" d="
M1168 701l11 4l4 -17l-11 14z
"/>
<path fill="#e9f2ee" d="
M1164 724l11 -3l4 -16l-11 -4z
M1160 710l11 -3l4 14l-11 3z
"/>
<path fill="#eef2e5" d="
M1156 715l11 0l4 -8l-11 3z
"/>
<path fill="#e4f3f6" d="
M1152 713l11 28l4 -26l-11 0z
"/>
<path fill="#ddf0f5" d="
M1148 733l11 14l4 -6l-11 -28z
"/>
<path fill="#daeef4" d="
M1143 748l12 4l4 -5l-11 -14z
"/>
<path fill="#d6ecf4" d="
M1139 746l12 23l4 -17l-12 -4z
"/>
<path fill="#c5e2ef" d="
M1135 760l12 19l4 -10l-12 -23z
"/>
<path fill="#add3e8" d="
M1131 786l12 13l4 -20l-12 -19z
"/>
<path fill="#96c4e1" d="
M1127 804l12 2l4 -7l-12 -13z
"/>
<path fill="#8fbfdf" d="
M1123 804l11 10l5 -8l-12 -2z
"/>
<path fill="#82b6d9" d="
M1119 825l11 23l4 -34l-11 -10z
"/>
<path fill="#7cb1d5" d="
M1115 840l11 -33l4 41l-11 -23z
"/>
<path fill="#8fbfdf" d="
M1111 800l11 5l4 2l-11 33z
"/>
<path fill="#96c4e1" d="
M1107 805l11 38l4 -38l-11 -5z
"/>
<path fill="#89badc" d="
M1103 830l11 -20l4 33l-11 -38z
"/>
<path fill="#8fbfdf" d="
M1099 807l11 28l4 -25l-11 20z
"/>
<path fill="#82b6d9" d="
M1095 855l11 -17l4 -3l-11 -28z
M1091 837l11 -11l4 12l-11 17z
M1087 850l11 -3l4 -21l-11 11z
"/>
<path fill="#daeef4" d="
M1378 631l12 4l4 -4l-12 -2z
M1374 640l12 -17l4 12l-12 -4z
"/>
<path fill="#e0f1f6" d="
M1370 620l12 -7l4 10l-12 17z
"/>
<path fill="#e4f3f6" d="
M1366 621l12 4l4 -12l-12 7z
M1362 622l11 -5l5 8l-12 -4z
M1358 627l11 -6l4 -4l-11 5z
"/>
<path fill="#e9f2ee" d="
M1354 627l11 -12l4 6l-11 6z
M1350 613l11 15l4 -13l-11 12z
"/>
<path fill="#eef2e5" d="
M1346 619l11 -1l4 10l-11 -15z
"/>
<path fill="#f3f1dd" d="
M1342 617l11 2l4 -1l-11 1z
M1338 617l11 6l4 -4l-11 -2z
M1334 616l11 17l4 -10l-11 -6z
"/>
<path fill="#eef2e5" d="
M1330 633l11 2l4 -2l-11 -17z
M1326 632l11 -2l4 5l-11 -2z
"/>
<path fill="#e9f2ee" d="
M1321 641l12 3l4 -14l-11 2z
M1317 636l12 1l4 7l-12 -3z
M1313 640l12 10l4 -13l-12 -1z
"/>
<path fill="#eef2e5" d="
M1309 633l12 -5l4 22l-12 -10z
"/>
<path fill="#f3f1dd" d="
M1305 637l12 1l4 -10l-12 5z
M1301 633l12 1l4 4l-12 -1z
"/>
<path fill="#eef2e5" d="
M1297 654l11 -2l5 -18l-12 -1z
"/>
<path fill="#e9f2ee" d="
M1293 654l11 -4l4 2l-11 2z
M1289 656l11 -1l4 -5l-11 4z
M1285 667l11 -14l4 2l-11 1z
"/>
<path fill="#eef2e5" d="
M1281 648l11 0l4 5l-11 14z
M1277 666l11 -4l4 -14l-11 0z
"/>
<path fill="#e9f2ee" d="
M1273 674l11 -15l4 3l-11 4z
M1269 662l11 -3l4 0l-11 15z
M1265 670l11 0l4 -11l-11 3z
M1261 670l11 -11l4 11l-11 0z
"/>
<path fill="#eef2e5" d="
M1256 661l12 4l4 -6l-11 11z
"/>
<path fill="#f3f1dd" d="
M1252 655l12 12l4 -2l-12 -4z
"/>
<path fill="#eef2e5" d="
M1248 681l12 6l4 -20l-12 -12z
"/>
<path fill="#e4f3f6" d="
M1244 679l12 12l4 -4l-12 -6z
M1240 682l12 2l4 7l-12 -12z
"/>
<path fill="#e9f2ee" d="
M1236 679l11 2l5 3l-12 -2z
M1232 691l11 -5l4 -5l-11 -2z
"/>
<path fill="#e4f3f6" d="
M1228 689l11 1l4 -4l-11 5z
"/>
<path fill="#eef2e5" d="
M1224 673l11 9l4 8l-11 -1z
M1220 687l11 9l4 -14l-11 -9z
"/>
<path fill="#e9f2ee" d="
M1216 690l11 4l4 2l-11 -9z
"/>
<path fill="#eef2e5" d="
M1212 684l11 4l4 6l-11 -4z
M1208 701l11 -17l4 4l-11 -4z
M1204 689l11 2l4 -7l-11 17z
"/>
<path fill="#f3f1dd" d="
M1200 686l11 0l4 5l-11 -2z
M1195 702l12 -4l4 -12l-11 0z
"/>
<path fill="#e9f2ee" d="
M1191 710l12 -5l4 -7l-12 4z
"/>
<path fill="#e4f3f6" d="
M1187 716l12 -1l4 -10l-12 5z
"/>
<path fill="#eef2e5" d="
M1183 688l12 0l4 27l-12 1z
"/>
<path fill="#f3f1dd" d="
M1179 705l12 14l4 -31l-12 0z
"/>
<path fill="#e4f3f6" d="
M1175 721l11 1l5 -3l-12 -14z
"/>
<path fill="#e9f2ee" d="
M1171 707l11 9l4 6l-11 -1z
M1167 715l11 26l4 -25l-11 -9z
"/>
<path fill="#e4f3f6" d="
M1163 741l11 -30l4 30l-11 -26z
"/>
<path fill="#ddf0f5" d="
M1159 747l11 3l4 -39l-11 30z
"/>
<path fill="#d6ecf4" d="
M1155 752l11 3l4 -5l-11 -3z
"/>
<path fill="#cee7f2" d="
M1151 769l11 -21l4 7l-11 -3z
"/>
<path fill="#bcddec" d="
M1147 779l11 13l4 -44l-11 21z
"/>
<path fill="#a5cee6" d="
M1143 799l11 -17l4 10l-11 -13z
"/>
<path fill="#9ec9e3" d="
M1139 806l11 -7l4 -17l-11 17z
"/>
<path fill="#96c4e1" d="
M1134 814l12 -10l4 -5l-11 7z
"/>
<path fill="#82b6d9" d="
M1130 848l12 -28l4 -16l-12 10z
"/>
<path fill="#89badc" d="
M1126 807l12 -12l4 25l-12 28z
"/>
<path fill="#8fbfdf" d="
M1122 805l12 47l4 -57l-12 12z
"/>
<path fill="#82b6d9" d="
M1118 843l12 -28l4 37l-12 -47z
"/>
<path fill="#89badc" d="
M1114 810l11 21l5 -16l-12 28z
M1110 835l11 -3l4 -1l-11 -21z
M1106 838l11 -18l4 12l-11 3z
M1102 826l11 11l4 -17l-11 18z
M1098 847l11 -18l4 8l-11 -11z
"/>
<path fill="#d6ecf4" d="
M1390 635l11 0l4 4l-11 -8z
"/>
<path fill="#daeef4" d="
M1386 623l11 20l4 -8l-11 0z
"/>
<path fill="#e0f1f6" d="
M1382 613l11 4l4 26l-11 -20z
"/>
<path fill="#e9f2ee" d="
M1378 625l11 -7l4 -1l-11 -4z
M1373 617l12 5l4 -4l-11 7z
M1369 621l12 -4l4 5l-12 -5z
M1365 615l12 17l4 -15l-12 4z
M1361 628l12 1l4 3l-12 -17z
M1357 618l12 3l4 8l-12 -1z
"/>
<path fill="#eef2e5" d="
M1353 619l11 8l5 -6l-12 -3z
M1349 623l11 1l4 3l-11 -8z
M1345 633l11 -1l4 -8l-11 -1z
M1341 635l11 -6l4 3l-11 1z
M1337 630l11 10l4 -11l-11 6z
"/>
<path fill="#e9f2ee" d="
M1333 644l11 -10l4 6l-11 -10z
"/>
<path fill="#eef2e5" d="
M1329 637l11 0l4 -3l-11 10z
"/>
<path fill="#e9f2ee" d="
M1325 650l11 -6l4 -7l-11 0z
"/>
<path fill="#eef2e5" d="
M1321 628l11 9l4 7l-11 6z
"/>
<path fill="#f3f1dd" d="
M1317 638l11 14l4 -15l-11 -9z
"/>
<path fill="#eef2e5" d="
M1313 634l11 11l4 7l-11 -14z
M1308 652l12 0l4 -7l-11 -11z
M1304 650l12 0l4 2l-12 0z
M1300 655l12 -4l4 -1l-12 0z
M1296 653l12 8l4 -10l-12 4z
M1292 648l12 5l4 8l-12 -8z
M1288 662l11 -4l5 -5l-12 -5z
M1284 659l11 3l4 -4l-11 4z
M1280 659l11 5l4 -2l-11 -3z
M1276 670l11 1l4 -7l-11 -5z
"/>
<path fill="#e9f2ee" d="
M1272 659l11 21l4 -9l-11 -1z
"/>
<path fill="#eef2e5" d="
M1268 665l11 5l4 10l-11 -21z
M1264 667l11 0l4 3l-11 -5z
"/>
<path fill="#e9f2ee" d="
M1260 687l11 -1l4 -19l-11 0z
"/>
<path fill="#e4f3f6" d="
M1256 691l11 -14l4 9l-11 1z
M1252 684l11 1l4 -8l-11 14z
"/>
<path fill="#e9f2ee" d="
M1247 681l12 10l4 -6l-11 -1z
M1243 686l12 6l4 -1l-12 -10z
M1239 690l12 -8l4 10l-12 -6z
M1235 682l12 14l4 -14l-12 8z
M1231 696l12 -2l4 2l-12 -14z
M1227 694l11 5l5 -5l-12 2z
"/>
<path fill="#eef2e5" d="
M1223 688l11 0l4 11l-11 -5z
"/>
<path fill="#f3f1dd" d="
M1219 684l11 11l4 -7l-11 0z
"/>
<path fill="#f7f0d4" d="
M1215 691l11 -14l4 18l-11 -11z
M1211 686l11 15l4 -24l-11 14z
"/>
<path fill="#f3f1dd" d="
M1207 698l11 -2l4 5l-11 -15z
"/>
<path fill="#eef2e5" d="
M1203 705l11 -7l4 -2l-11 2z
"/>
<path fill="#e9f2ee" d="
M1199 715l11 4l4 -21l-11 7z
"/>
<path fill="#eef2e5" d="
M1195 688l11 12l4 19l-11 -4z
M1191 719l11 -2l4 -17l-11 -12z
"/>
<path fill="#e4f3f6" d="
M1186 722l12 4l4 -9l-11 2z
M1182 716l12 13l4 -3l-12 -4z
"/>
<path fill="#ddf0f5" d="
M1178 741l12 14l4 -26l-12 -13z
M1174 711l12 38l4 6l-12 -14z
M1170 750l12 0l4 -1l-12 -38z
"/>
<path fill="#cee7f2" d="
M1166 755l11 18l5 -23l-12 0z
"/>
<path fill="#c5e2ef" d="
M1162 748l11 48l4 -23l-11 -18z
"/>
<path fill="#b4d8ea" d="
M1158 792l11 -15l4 19l-11 -48z
"/>
<path fill="#add3e8" d="
M1154 782l11 21l4 -26l-11 15z
M1150 799l11 -28l4 32l-11 -21z
"/>
<path fill="#a5cee6" d="
M1146 804l11 14l4 -47l-11 28z
"/>
<path fill="#96c4e1" d="
M1142 820l11 -19l4 17l-11 -14z
M1138 795l11 37l4 -31l-11 19z
"/>
<path fill="#89badc" d="
M1134 852l11 -32l4 12l-11 -37z
"/>
<path fill="#82b6d9" d="
M1130 815l11 29l4 -24l-11 32z
"/>
<path fill="#89badc" d="
M1125 831l12 -11l4 24l-11 -29z
M1121 832l12 -3l4 -9l-12 11z
"/>
<path fill="#96c4e1" d="
M1117 820l12 -21l4 30l-12 3z
M1113 837l12 6l4 -44l-12 21z
"/>
<path fill="#82b6d9" d="
M1109 829l12 24l4 -10l-12 -6z
"/>
<path fill="#d6ecf4" d="
M1401 635l11 1l4 1l-11 2z
"/>
<path fill="#daeef4" d="
M1397 643l11 -3l4 -4l-11 -1z
"/>
<path fill="#ddf0f5" d="
M1393 617l11 9l4 14l-11 3z
"/>
<path fill="#e9f2ee" d="
M1389 618l11 2l4 6l-11 -9z
M1385 622l11 3l4 -5l-11 -2z
M1381 617l11 2l4 6l-11 -3z
"/>
<path fill="#eef2e5" d="
M1377 632l11 -18l4 5l-11 -2z
"/>
<path fill="#e9f2ee" d="
M1373 629l11 -3l4 -12l-11 18z
"/>
<path fill="#eef2e5" d="
M1369 621l11 -4l4 9l-11 3z
"/>
<path fill="#f3f1dd" d="
M1364 627l12 -3l4 -7l-11 4z
M1360 624l12 0l4 0l-12 3z
"/>
<path fill="#eef2e5" d="
M1356 632l12 4l4 -12l-12 0z
M1352 629l12 6l4 1l-12 -4z
M1348 640l12 -6l4 1l-12 -6z
"/>
<path fill="#e9f2ee" d="
M1344 634l12 15l4 -15l-12 6z
"/>
<path fill="#eef2e5" d="
M1340 637l11 -3l5 15l-12 -15z
M1336 644l11 7l4 -17l-11 3z
M1332 637l11 -1l4 15l-11 -7z
M1328 652l11 -5l4 -11l-11 1z
"/>
<path fill="#e9f2ee" d="
M1324 645l11 8l4 -6l-11 5z
"/>
<path fill="#eef2e5" d="
M1320 652l11 -2l4 3l-11 -8z
M1316 650l11 2l4 -2l-11 2z
M1312 651l11 -3l4 4l-11 -2z
M1308 661l11 5l4 -18l-11 3z
M1304 653l11 2l4 11l-11 -5z
M1299 658l12 12l4 -15l-11 -2z
"/>
<path fill="#e9f2ee" d="
M1295 662l12 5l4 3l-12 -12z
"/>
<path fill="#eef2e5" d="
M1291 664l12 -7l4 10l-12 -5z
M1287 671l12 2l4 -16l-12 7z
"/>
<path fill="#e9f2ee" d="
M1283 680l12 -2l4 -5l-12 -2z
M1279 670l11 -5l5 13l-12 2z
"/>
<path fill="#eef2e5" d="
M1275 667l11 18l4 -20l-11 5z
"/>
<path fill="#e9f2ee" d="
M1271 686l11 -2l4 1l-11 -18z
M1267 677l11 7l4 0l-11 2z
M1263 685l11 3l4 -4l-11 -7z
"/>
<path fill="#e4f3f6" d="
M1259 691l11 6l4 -9l-11 -3z
M1255 692l11 0l4 5l-11 -6z
"/>
<path fill="#eef2e5" d="
M1251 682l11 -5l4 15l-11 0z
M1247 696l11 -11l4 -8l-11 5z
M1243 694l11 -6l4 -3l-11 11z
M1238 699l12 -12l4 1l-11 6z
M1234 688l12 5l4 -6l-12 12z
M1230 695l12 7l4 -9l-12 -5z
"/>
<path fill="#f3f1dd" d="
M1226 677l12 24l4 1l-12 -7z
M1222 701l12 -13l4 13l-12 -24z
M1218 696l11 13l5 -21l-12 13z
"/>
<path fill="#e9f2ee" d="
M1214 698l11 26l4 -15l-11 -13z
M1210 719l11 -7l4 12l-11 -26z
M1206 700l11 16l4 -4l-11 7z
"/>
<path fill="#e4f3f6" d="
M1202 717l11 23l4 -24l-11 -16z
"/>
<path fill="#ddf0f5" d="
M1198 726l11 18l4 -4l-11 -23z
M1194 729l11 14l4 1l-11 -18z
"/>
<path fill="#cee7f2" d="
M1190 755l11 28l4 -40l-11 -14z
"/>
<path fill="#c5e2ef" d="
M1186 749l11 8l4 26l-11 -28z
"/>
<path fill="#d6ecf4" d="
M1182 750l11 15l4 -8l-11 -8z
"/>
<path fill="#c5e2ef" d="
M1177 773l12 -8l4 0l-11 -15z
"/>
<path fill="#b4d8ea" d="
M1173 796l12 -15l4 -16l-12 8z
M1169 777l12 -10l4 14l-12 15z
M1165 803l12 -13l4 -23l-12 10z
"/>
<path fill="#a5cee6" d="
M1161 771l12 41l4 -22l-12 13z
"/>
<path fill="#96c4e1" d="
M1157 818l11 8l5 -14l-12 -41z
"/>
<path fill="#8fbfdf" d="
M1153 801l11 31l4 -6l-11 -8z
"/>
<path fill="#89badc" d="
M1149 832l11 -10l4 10l-11 -31z
M1145 820l11 14l4 -12l-11 10z
M1141 844l11 -37l4 27l-11 -14z
"/>
<path fill="#8fbfdf" d="
M1137 820l11 10l4 -23l-11 37z
M1133 829l11 8l4 -7l-11 -10z
"/>
<path fill="#96c4e1" d="
M1129 799l11 34l4 4l-11 -8z
M1125 843l11 -9l4 -1l-11 -34z
"/>
<path fill="#89badc" d="
M1121 853l11 -18l4 -1l-11 9z
"/>
<path fill="#d6ecf4" d="
M1412 636l12 -1l4 12l-12 -10z
"/>
<path fill="#daeef4" d="
M1408 640l12 8l4 -13l-12 1z
"/>
<path fill="#ddf0f5" d="
M1404 626l12 1l4 21l-12 -8z
"/>
<path fill="#e4f3f6" d="
M1400 620l12 8l4 -1l-12 -1z
"/>
<path fill="#e9f2ee" d="
M1396 625l11 -8l5 11l-12 -8z
M1392 619l11 10l4 -12l-11 8z
"/>
<path fill="#eef2e5" d="
M1388 614l11 7l4 8l-11 -10z
"/>
<path fill="#f3f1dd" d="
M1384 626l11 -6l4 1l-11 -7z
"/>
<path fill="#eef2e5" d="
M1380 617l11 18l4 -15l-11 6z
M1376 624l11 14l4 -3l-11 -18z
M1372 624l11 5l4 9l-11 -14z
M1368 636l11 -2l4 -5l-11 -5z
"/>
<path fill="#e9f2ee" d="
M1364 635l11 6l4 -7l-11 2z
M1360 634l11 10l4 -3l-11 -6z
M1356 649l11 7l4 -12l-11 -10z
M1351 634l12 7l4 15l-11 -7z
"/>
<path fill="#eef2e5" d="
M1347 651l12 -2l4 -8l-12 -7z
M1343 636l12 8l4 5l-12 2z
M1339 647l12 11l4 -14l-12 -8z
"/>
<path fill="#e9f2ee" d="
M1335 653l12 5l4 0l-12 -11z
M1331 650l11 5l5 3l-12 -5z
"/>
<path fill="#eef2e5" d="
M1327 652l11 4l4 -1l-11 -5z
M1323 648l11 10l4 -2l-11 -4z
"/>
<path fill="#e9f2ee" d="
M1319 666l11 8l4 -16l-11 -10z
M1315 655l11 4l4 15l-11 -8z
M1311 670l11 5l4 -16l-11 -4z
M1307 667l11 5l4 3l-11 -5z
"/>
<path fill="#eef2e5" d="
M1303 657l11 13l4 2l-11 -5z
M1299 673l11 7l4 -10l-11 -13z
"/>
<path fill="#e9f2ee" d="
M1295 678l11 -14l4 16l-11 -7z
"/>
<path fill="#eef2e5" d="
M1290 665l12 17l4 -18l-11 14z
"/>
<path fill="#e9f2ee" d="
M1286 685l12 8l4 -11l-12 -17z
"/>
<path fill="#e4f3f6" d="
M1282 684l12 -1l4 10l-12 -8z
M1278 684l12 11l4 -12l-12 1z
M1274 688l12 5l4 2l-12 -11z
"/>
<path fill="#e9f2ee" d="
M1270 697l11 -15l5 11l-12 -5z
"/>
<path fill="#e4f3f6" d="
M1266 692l11 7l4 -17l-11 15z
"/>
<path fill="#e9f2ee" d="
M1262 677l11 16l4 6l-11 -7z
"/>
<path fill="#eef2e5" d="
M1258 685l11 15l4 -7l-11 -16z
"/>
<path fill="#e9f2ee" d="
M1254 688l11 21l4 -9l-11 -15z
"/>
<path fill="#eef2e5" d="
M1250 687l11 6l4 16l-11 -21z
M1246 693l11 4l4 -4l-11 -6z
M1242 702l11 1l4 -6l-11 -4z
"/>
<path fill="#e9f2ee" d="
M1238 701l11 1l4 1l-11 -1z
"/>
<path fill="#eef2e5" d="
M1234 688l11 20l4 -6l-11 -1z
M1229 709l12 1l4 -2l-11 -20z
"/>
<path fill="#e0f1f6" d="
M1225 724l12 9l4 -23l-12 -1z
M1221 712l12 9l4 12l-12 -9z
"/>
<path fill="#e4f3f6" d="
M1217 716l12 6l4 -1l-12 -9z
"/>
<path fill="#ddf0f5" d="
M1213 740l12 12l4 -30l-12 -6z
"/>
<path fill="#cee7f2" d="
M1209 744l11 16l5 -8l-12 -12z
M1205 743l11 16l4 1l-11 -16z
"/>
<path fill="#c5e2ef" d="
M1201 783l11 -18l4 -6l-11 -16z
"/>
<path fill="#bcddec" d="
M1197 757l11 11l4 -3l-11 18z
"/>
<path fill="#c5e2ef" d="
M1193 765l11 19l4 -16l-11 -11z
"/>
<path fill="#bcddec" d="
M1189 765l11 4l4 15l-11 -19z
M1185 781l11 0l4 -12l-11 -4z
M1181 767l11 16l4 -2l-11 0z
"/>
<path fill="#b4d8ea" d="
M1177 790l11 8l4 -15l-11 -16z
"/>
<path fill="#a5cee6" d="
M1173 812l11 -24l4 10l-11 -8z
"/>
<path fill="#96c4e1" d="
M1168 826l12 -12l4 -26l-11 24z
"/>
<path fill="#8fbfdf" d="
M1164 832l12 -23l4 5l-12 12z
M1160 822l12 -5l4 -8l-12 23z
M1156 834l12 -22l4 5l-12 5z
"/>
<path fill="#96c4e1" d="
M1152 807l12 26l4 -21l-12 22z
"/>
<path fill="#8fbfdf" d="
M1148 830l11 2l5 1l-12 -26z
M1144 837l11 -10l4 5l-11 -2z
M1140 833l11 -13l4 7l-11 10z
M1136 834l11 22l4 -36l-11 13z
"/>
<path fill="#89badc" d="
M1132 835l11 -5l4 26l-11 -22z
"/>
<path fill="#d6ecf4" d="
M1424 635l11 14l4 3l-11 -5z
M1420 648l11 6l4 -5l-11 -14z
"/>
<path fill="#daeef4" d="
M1416 627l11 7l4 20l-11 -6z
"/>
<path fill="#e4f3f6" d="
M1412 628l11 1l4 5l-11 -7z
M1407 617l12 19l4 -7l-11 -1z
"/>
<path fill="#e9f2ee" d="
M1403 629l12 0l4 7l-12 -19z
M1399 621l12 14l4 -6l-12 0z
M1395 620l12 15l4 0l-12 -14z
"/>
<path fill="#eef2e5" d="
M1391 635l12 -9l4 9l-12 -15z
"/>
<path fill="#e9f2ee" d="
M1387 638l12 4l4 -16l-12 9z
"/>
<path fill="#eef2e5" d="
M1383 629l11 -2l5 15l-12 -4z
M1379 634l11 7l4 -14l-11 2z
M1375 641l11 -2l4 2l-11 -7z
"/>
<path fill="#e9f2ee" d="
M1371 644l11 -4l4 -1l-11 2z
M1367 656l11 -13l4 -3l-11 4z
M1363 641l11 11l4 -9l-11 13z
"/>
<path fill="#eef2e5" d="
M1359 649l11 -6l4 9l-11 -11z
"/>
<path fill="#e9f2ee" d="
M1355 644l11 16l4 -17l-11 6z
M1351 658l11 -3l4 5l-11 -16z
M1347 658l11 -1l4 -2l-11 3z
M1342 655l12 2l4 0l-11 1z
"/>
<path fill="#eef2e5" d="
M1338 656l12 1l4 0l-12 -2z
"/>
<path fill="#e9f2ee" d="
M1334 658l12 20l4 -21l-12 -1z
"/>
<path fill="#e4f3f6" d="
M1330 674l12 -2l4 6l-12 -20z
"/>
<path fill="#e9f2ee" d="
M1326 659l12 5l4 8l-12 2z
M1322 675l11 -10l5 -1l-12 -5z
M1318 672l11 -1l4 -6l-11 10z
M1314 670l11 3l4 -2l-11 1z
M1310 680l11 4l4 -11l-11 -3z
M1306 664l11 25l4 -5l-11 -4z
M1302 682l11 -5l4 12l-11 -25z
M1298 693l11 -14l4 -2l-11 5z
"/>
<path fill="#e4f3f6" d="
M1294 683l11 9l4 -13l-11 14z
M1290 695l11 4l4 -7l-11 -9z
"/>
<path fill="#e0f1f6" d="
M1286 693l11 4l4 2l-11 -4z
"/>
<path fill="#e9f2ee" d="
M1281 682l12 9l4 6l-11 -4z
M1277 699l12 4l4 -12l-12 -9z
"/>
<path fill="#e4f3f6" d="
M1273 693l12 2l4 8l-12 -4z
"/>
<path fill="#e9f2ee" d="
M1269 700l12 -8l4 3l-12 -2z
"/>
<path fill="#e4f3f6" d="
M1265 709l12 -6l4 -11l-12 8z
"/>
<path fill="#e9f2ee" d="
M1261 693l11 6l5 4l-12 6z
"/>
<path fill="#eef2e5" d="
M1257 697l11 8l4 -6l-11 -6z
"/>
<path fill="#e9f2ee" d="
M1253 703l11 10l4 -8l-11 -8z
M1249 702l11 -2l4 13l-11 -10z
"/>
<path fill="#eef2e5" d="
M1245 708l11 5l4 -13l-11 2z
"/>
<path fill="#e4f3f6" d="
M1241 710l11 28l4 -25l-11 -5z
"/>
<path fill="#ddf0f5" d="
M1237 733l11 -1l4 6l-11 -28z
M1233 721l11 17l4 -6l-11 1z
"/>
<path fill="#e0f1f6" d="
M1229 722l11 4l4 12l-11 -17z
"/>
<path fill="#ddf0f5" d="
M1225 752l11 -5l4 -21l-11 -4z
"/>
<path fill="#cee7f2" d="
M1220 760l12 -2l4 -11l-11 5z
M1216 759l12 -10l4 9l-12 2z
"/>
<path fill="#c5e2ef" d="
M1212 765l12 6l4 -22l-12 10z
"/>
<path fill="#bcddec" d="
M1208 768l12 6l4 -3l-12 -6z
M1204 784l12 -14l4 4l-12 -6z
M1200 769l11 11l5 -10l-12 14z
M1196 781l11 -6l4 5l-11 -11z
M1192 783l11 1l4 -9l-11 6z
"/>
<path fill="#b4d8ea" d="
M1188 798l11 -21l4 7l-11 -1z
"/>
<path fill="#add3e8" d="
M1184 788l11 29l4 -40l-11 21z
"/>
<path fill="#9ec9e3" d="
M1180 814l11 -12l4 15l-11 -29z
M1176 809l11 -4l4 -3l-11 12z
M1172 817l11 9l4 -21l-11 4z
"/>
<path fill="#96c4e1" d="
M1168 812l11 20l4 -6l-11 -9z
M1164 833l11 -34l4 33l-11 -20z
M1159 832l12 -5l4 -28l-11 34z
"/>
<path fill="#8fbfdf" d="
M1155 827l12 0l4 0l-12 5z
M1151 820l12 36l4 -29l-12 0z
"/>
<path fill="#82b6d9" d="
M1147 856l12 -8l4 8l-12 -36z
"/>
<path fill="#89badc" d="
M1143 830l12 5l4 13l-12 8z
"/>
<path fill="#c5e2ef" d="
M1435 649l11 10l4 3l-11 -10z
"/>
<path fill="#cee7f2" d="
M1431 654l11 -1l4 6l-11 -10z
"/>
<path fill="#daeef4" d="
M1427 634l11 6l4 13l-11 1z
"/>
<path fill="#e0f1f6" d="
M1423 629l11 10l4 1l-11 -6z
M1419 636l11 1l4 2l-11 -10z
"/>
<path fill="#e4f3f6" d="
M1415 629l11 9l4 -1l-11 -1z
M1411 635l11 6l4 -3l-11 -9z
M1407 635l11 10l4 -4l-11 -6z
M1403 626l11 22l4 -3l-11 -10z
"/>
<path fill="#e9f2ee" d="
M1399 642l11 -2l4 8l-11 -22z
M1394 627l12 11l4 2l-11 2z
"/>
<path fill="#eef2e5" d="
M1390 641l12 2l4 -5l-12 -11z
"/>
<path fill="#e9f2ee" d="
M1386 639l12 15l4 -11l-12 -2z
M1382 640l12 18l4 -4l-12 -15z
M1378 643l12 16l4 -1l-12 -18z
M1374 652l11 -1l5 8l-12 -16z
M1370 643l11 12l4 -4l-11 1z
M1366 660l11 -1l4 -4l-11 -12z
"/>
<path fill="#e4f3f6" d="
M1362 655l11 8l4 -4l-11 1z
M1358 657l11 15l4 -9l-11 -8z
M1354 657l11 12l4 3l-11 -15z
M1350 657l11 21l4 -9l-11 -12z
M1346 678l11 -4l4 4l-11 -21z
"/>
<path fill="#e0f1f6" d="
M1342 672l11 8l4 -6l-11 4z
"/>
<path fill="#e4f3f6" d="
M1338 664l11 6l4 10l-11 -8z
"/>
<path fill="#e9f2ee" d="
M1333 665l12 20l4 -15l-11 -6z
"/>
<path fill="#e4f3f6" d="
M1329 671l12 18l4 -4l-12 -20z
M1325 673l12 10l4 6l-12 -18z
M1321 684l12 6l4 -7l-12 -10z
M1317 689l12 -5l4 6l-12 -6z
M1313 677l11 10l5 -3l-12 5z
"/>
<path fill="#e9f2ee" d="
M1309 679l11 13l4 -5l-11 -10z
"/>
<path fill="#e4f3f6" d="
M1305 692l11 11l4 -11l-11 -13z
"/>
<path fill="#e0f1f6" d="
M1301 699l11 8l4 -4l-11 -11z
M1297 697l11 10l4 0l-11 -8z
"/>
<path fill="#e4f3f6" d="
M1293 691l11 10l4 6l-11 -10z
"/>
<path fill="#e0f1f6" d="
M1289 703l11 24l4 -26l-11 -10z
M1285 695l11 17l4 15l-11 -24z
"/>
<path fill="#e4f3f6" d="
M1281 692l11 13l4 7l-11 -17z
M1277 703l11 9l4 -7l-11 -13z
M1272 699l12 9l4 4l-11 -9z
M1268 705l12 11l4 -8l-12 -9z
M1264 713l12 3l4 0l-12 -11z
"/>
<path fill="#e9f2ee" d="
M1260 700l12 9l4 7l-12 -3z
M1256 713l12 1l4 -5l-12 -9z
"/>
<path fill="#e0f1f6" d="
M1252 738l11 -2l5 -22l-12 -1z
"/>
<path fill="#daeef4" d="
M1248 732l11 17l4 -13l-11 2z
"/>
<path fill="#d6ecf4" d="
M1244 738l11 14l4 -3l-11 -17z
"/>
<path fill="#daeef4" d="
M1240 726l11 30l4 -4l-11 -14z
"/>
<path fill="#d6ecf4" d="
M1236 747l11 16l4 -7l-11 -30z
"/>
<path fill="#c5e2ef" d="
M1232 758l11 11l4 -6l-11 -16z
M1228 749l11 28l4 -8l-11 -11z
M1224 771l11 3l4 3l-11 -28z
M1220 774l11 -26l4 26l-11 -3z
"/>
<path fill="#cee7f2" d="
M1216 770l11 -3l4 -19l-11 26z
"/>
<path fill="#bcddec" d="
M1211 780l12 10l4 -23l-11 3z
M1207 775l12 5l4 10l-12 -10z
"/>
<path fill="#b4d8ea" d="
M1203 784l12 14l4 -18l-12 -5z
"/>
<path fill="#add3e8" d="
M1199 777l12 39l4 -18l-12 -14z
"/>
<path fill="#a5cee6" d="
M1195 817l12 -12l4 11l-12 -39z
"/>
<path fill="#9ec9e3" d="
M1191 802l11 13l5 -10l-12 12z
M1187 805l11 30l4 -20l-11 -13z
"/>
<path fill="#96c4e1" d="
M1183 826l11 -19l4 28l-11 -30z
M1179 832l11 -13l4 -12l-11 19z
M1175 799l11 55l4 -35l-11 13z
"/>
<path fill="#9ec9e3" d="
M1171 827l11 -24l4 51l-11 -55z
M1167 827l11 -5l4 -19l-11 24z
"/>
<path fill="#96c4e1" d="
M1163 856l11 -37l4 3l-11 5z
"/>
<path fill="#8fbfdf" d="
M1159 848l11 -24l4 -5l-11 37z
"/>
<path fill="#96c4e1" d="
M1155 835l11 -6l4 -5l-11 24z
"/>
<path fill="#bcddec" d="
M1446 659l12 3l4 11l-12 -11z
"/>
<path fill="#c5e2ef" d="
M1442 653l12 16l4 -7l-12 -3z
"/>
<path fill="#d6ecf4" d="
M1438 640l12 2l4 27l-12 -16z
"/>
<path fill="#ddf0f5" d="
M1434 639l12 15l4 -12l-12 -2z
M1430 637l12 14l4 3l-12 -15z
"/>
<path fill="#e0f1f6" d="
M1426 638l11 10l5 3l-12 -14z
M1422 641l11 4l4 3l-11 -10z
M1418 645l11 14l4 -14l-11 -4z
"/>
<path fill="#ddf0f5" d="
M1414 648l11 13l4 -2l-11 -14z
"/>
<path fill="#e0f1f6" d="
M1410 640l11 17l4 4l-11 -13z
"/>
<path fill="#e4f3f6" d="
M1406 638l11 19l4 0l-11 -17z
M1402 643l11 13l4 1l-11 -19z
"/>
<path fill="#e0f1f6" d="
M1398 654l11 10l4 -8l-11 -13z
M1394 658l11 1l4 5l-11 -10z
M1390 659l11 15l4 -15l-11 -1z
M1385 651l12 18l4 5l-11 -15z
M1381 655l12 20l4 -6l-12 -18z
M1377 659l12 12l4 4l-12 -20z
M1373 663l12 12l4 -4l-12 -12z
M1369 672l12 8l4 -5l-12 -12z
"/>
<path fill="#ddf0f5" d="
M1365 669l11 21l5 -10l-12 -8z
M1361 678l11 7l4 5l-11 -21z
M1357 674l11 21l4 -10l-11 -7z
M1353 680l11 13l4 2l-11 -21z
"/>
<path fill="#e0f1f6" d="
M1349 670l11 13l4 10l-11 -13z
M1345 685l11 12l4 -14l-11 -13z
"/>
<path fill="#ddf0f5" d="
M1341 689l11 5l4 3l-11 -12z
"/>
<path fill="#e0f1f6" d="
M1337 683l11 1l4 10l-11 -5z
M1333 690l11 6l4 -12l-11 -1z
M1329 684l11 10l4 2l-11 -6z
"/>
<path fill="#e4f3f6" d="
M1324 687l12 5l4 2l-11 -10z
M1320 692l12 7l4 -7l-12 -5z
"/>
<path fill="#ddf0f5" d="
M1316 703l12 8l4 -12l-12 -7z
"/>
<path fill="#daeef4" d="
M1312 707l12 11l4 -7l-12 -8z
"/>
<path fill="#ddf0f5" d="
M1308 707l12 3l4 8l-12 -11z
M1304 701l11 19l5 -10l-12 -3z
"/>
<path fill="#daeef4" d="
M1300 727l11 -6l4 -1l-11 -19z
M1296 712l11 -1l4 10l-11 6z
"/>
<path fill="#ddf0f5" d="
M1292 705l11 23l4 -17l-11 1z
"/>
<path fill="#e0f1f6" d="
M1288 712l11 4l4 12l-11 -23z
M1284 708l11 15l4 -7l-11 -4z
M1280 716l11 2l4 5l-11 -15z
M1276 716l11 15l4 -13l-11 -2z
M1272 709l11 11l4 11l-11 -15z
"/>
<path fill="#e4f3f6" d="
M1268 714l11 21l4 -15l-11 -11z
"/>
<path fill="#ddf0f5" d="
M1263 736l12 2l4 -3l-11 -21z
"/>
<path fill="#d6ecf4" d="
M1259 749l12 6l4 -17l-12 -2z
"/>
<path fill="#c5e2ef" d="
M1255 752l12 13l4 -10l-12 -6z
"/>
<path fill="#cee7f2" d="
M1251 756l12 -10l4 19l-12 -13z
M1247 763l12 -6l4 -11l-12 10z
M1243 769l11 -21l5 9l-12 6z
"/>
<path fill="#bcddec" d="
M1239 777l11 21l4 -50l-11 21z
"/>
<path fill="#add3e8" d="
M1235 774l11 5l4 19l-11 -21z
"/>
<path fill="#c5e2ef" d="
M1231 748l11 23l4 8l-11 -5z
"/>
<path fill="#cee7f2" d="
M1227 767l11 18l4 -14l-11 -23z
"/>
<path fill="#b4d8ea" d="
M1223 790l11 5l4 -10l-11 -18z
"/>
<path fill="#add3e8" d="
M1219 780l11 18l4 -3l-11 -5z
M1215 798l11 10l4 -10l-11 -18z
"/>
<path fill="#a5cee6" d="
M1211 816l11 -36l4 28l-11 -10z
"/>
<path fill="#add3e8" d="
M1207 805l11 -21l4 -4l-11 36z
"/>
<path fill="#a5cee6" d="
M1202 815l12 12l4 -43l-11 21z
"/>
<path fill="#8fbfdf" d="
M1198 835l12 -23l4 15l-12 -12z
"/>
<path fill="#9ec9e3" d="
M1194 807l12 7l4 -2l-12 23z
"/>
<path fill="#a5cee6" d="
M1190 819l12 -1l4 -4l-12 -7z
"/>
<path fill="#96c4e1" d="
M1186 854l12 -34l4 -2l-12 1z
M1182 803l12 36l4 -19l-12 34z
M1178 822l11 24l5 -7l-12 -36z
M1174 819l11 28l4 -1l-11 -24z
M1170 824l11 27l4 -4l-11 -28z
M1166 829l11 0l4 22l-11 -27z
"/>
<path fill="#b4d8ea" d="
M1458 662l11 16l4 -3l-11 -2z
M1454 669l11 5l4 4l-11 -16z
"/>
<path fill="#cee7f2" d="
M1450 642l11 3l4 29l-11 -5z
"/>
<path fill="#daeef4" d="
M1446 654l11 6l4 -15l-11 -3z
"/>
<path fill="#d6ecf4" d="
M1442 651l11 2l4 7l-11 -6z
"/>
<path fill="#ddf0f5" d="
M1437 648l12 0l4 5l-11 -2z
M1433 645l12 12l4 -9l-12 0z
"/>
<path fill="#daeef4" d="
M1429 659l12 7l4 -9l-12 -12z
M1425 661l12 -2l4 7l-12 -7z
"/>
<path fill="#ddf0f5" d="
M1421 657l12 2l4 0l-12 2z
M1417 657l11 2l5 0l-12 -2z
M1413 656l11 17l4 -14l-11 -2z
"/>
<path fill="#daeef4" d="
M1409 664l11 7l4 2l-11 -17z
"/>
<path fill="#ddf0f5" d="
M1405 659l11 5l4 7l-11 -7z
"/>
<path fill="#daeef4" d="
M1401 674l11 11l4 -21l-11 -5z
"/>
<path fill="#d6ecf4" d="
M1397 669l11 16l4 0l-11 -11z
"/>
<path fill="#daeef4" d="
M1393 675l11 13l4 -3l-11 -16z
M1389 671l11 6l4 11l-11 -13z
"/>
<path fill="#ddf0f5" d="
M1385 675l11 4l4 -2l-11 -6z
M1381 680l11 -1l4 0l-11 -4z
"/>
<path fill="#daeef4" d="
M1376 690l12 -5l4 -6l-11 1z
"/>
<path fill="#d6ecf4" d="
M1372 685l12 23l4 -23l-12 5z
M1368 695l12 5l4 8l-12 -23z
M1364 693l12 14l4 -7l-12 -5z
"/>
<path fill="#daeef4" d="
M1360 683l12 3l4 21l-12 -14z
"/>
<path fill="#ddf0f5" d="
M1356 697l11 10l5 -21l-12 -3z
"/>
<path fill="#daeef4" d="
M1352 694l11 9l4 4l-11 -10z
M1348 684l11 29l4 -10l-11 -9z
M1344 696l11 21l4 -4l-11 -29z
M1340 694l11 14l4 9l-11 -21z
"/>
<path fill="#ddf0f5" d="
M1336 692l11 12l4 4l-11 -14z
M1332 699l11 14l4 -9l-11 -12z
"/>
<path fill="#daeef4" d="
M1328 711l11 18l4 -16l-11 -14z
"/>
<path fill="#d6ecf4" d="
M1324 718l11 5l4 6l-11 -18z
M1320 710l11 19l4 -6l-11 -5z
M1315 720l12 0l4 9l-11 -19z
"/>
<path fill="#daeef4" d="
M1311 721l12 2l4 -3l-12 0z
M1307 711l12 22l4 -10l-12 -2z
M1303 728l12 4l4 1l-12 -22z
M1299 716l12 9l4 7l-12 -4z
"/>
<path fill="#ddf0f5" d="
M1295 723l11 5l5 -3l-12 -9z
M1291 718l11 12l4 -2l-11 -5z
M1287 731l11 7l4 -8l-11 -12z
"/>
<path fill="#daeef4" d="
M1283 720l11 20l4 -2l-11 -7z
M1279 735l11 5l4 0l-11 -20z
"/>
<path fill="#d6ecf4" d="
M1275 738l11 20l4 -18l-11 -5z
"/>
<path fill="#cee7f2" d="
M1271 755l11 7l4 -4l-11 -20z
"/>
<path fill="#c5e2ef" d="
M1267 765l11 -4l4 1l-11 -7z
"/>
<path fill="#cee7f2" d="
M1263 746l11 -1l4 16l-11 4z
"/>
<path fill="#d6ecf4" d="
M1259 757l11 6l4 -18l-11 1z
"/>
<path fill="#c5e2ef" d="
M1254 748l12 39l4 -24l-11 -6z
"/>
<path fill="#b4d8ea" d="
M1250 798l12 -12l4 1l-12 -39z
"/>
<path fill="#add3e8" d="
M1246 779l12 -5l4 12l-12 12z
"/>
<path fill="#bcddec" d="
M1242 771l12 12l4 -9l-12 5z
"/>
<path fill="#b4d8ea" d="
M1238 785l12 16l4 -18l-12 -12z
"/>
<path fill="#add3e8" d="
M1234 795l11 -5l5 11l-12 -16z
M1230 798l11 -10l4 2l-11 5z
M1226 808l11 -19l4 -1l-11 10z
"/>
<path fill="#b4d8ea" d="
M1222 780l11 21l4 -12l-11 19z
M1218 784l11 38l4 -21l-11 -21z
"/>
<path fill="#9ec9e3" d="
M1214 827l11 5l4 -10l-11 -38z
"/>
<path fill="#96c4e1" d="
M1210 812l11 5l4 15l-11 -5z
"/>
<path fill="#a5cee6" d="
M1206 814l11 -1l4 4l-11 -5z
M1202 818l11 -10l4 5l-11 1z
M1198 820l11 -2l4 -10l-11 10z
"/>
<path fill="#96c4e1" d="
M1194 839l11 -6l4 -15l-11 2z
M1189 846l12 -31l4 18l-11 6z
"/>
<path fill="#8fbfdf" d="
M1185 847l12 11l4 -43l-12 31z
"/>
<path fill="#82b6d9" d="
M1181 851l12 -1l4 8l-12 -11z
"/>
<path fill="#96c4e1" d="
M1177 829l12 -8l4 29l-12 1z
"/>
<path fill="#add3e8" d="
M1469 678l11 -8l5 16l-12 -11z
"/>
<path fill="#b4d8ea" d="
M1465 674l11 2l4 -6l-11 8z
"/>
<path fill="#cee7f2" d="
M1461 645l11 -1l4 32l-11 -2z
"/>
<path fill="#daeef4" d="
M1457 660l11 -12l4 -4l-11 1z
M1453 653l11 -1l4 -4l-11 12z
"/>
<path fill="#ddf0f5" d="
M1449 648l11 3l4 1l-11 1z
M1445 657l11 -11l4 5l-11 -3z
"/>
<path fill="#daeef4" d="
M1441 666l11 -2l4 -18l-11 11z
M1437 659l11 -3l4 8l-11 2z
"/>
<path fill="#ddf0f5" d="
M1433 659l11 8l4 -11l-11 3z
M1428 659l12 -6l4 14l-11 -8z
M1424 673l12 -6l4 -14l-12 6z
"/>
<path fill="#daeef4" d="
M1420 671l12 2l4 -6l-12 6z
M1416 664l12 12l4 -3l-12 -2z
M1412 685l12 -10l4 1l-12 -12z
M1408 685l11 -15l5 5l-12 10z
M1404 688l11 -19l4 1l-11 15z
"/>
<path fill="#ddf0f5" d="
M1400 677l11 -8l4 0l-11 19z
M1396 679l11 1l4 -11l-11 8z
M1392 679l11 -1l4 2l-11 -1z
M1388 685l11 2l4 -9l-11 1z
"/>
<path fill="#daeef4" d="
M1384 708l11 -18l4 -3l-11 -2z
"/>
<path fill="#d6ecf4" d="
M1380 700l11 -11l4 1l-11 18z
M1376 707l11 -10l4 -8l-11 11z
"/>
<path fill="#daeef4" d="
M1372 686l11 9l4 2l-11 10z
M1367 707l12 -1l4 -11l-11 -9z
"/>
<path fill="#d6ecf4" d="
M1363 703l12 -3l4 6l-12 1z
M1359 713l12 -6l4 -7l-12 3z
M1355 717l12 -16l4 6l-12 6z
"/>
<path fill="#daeef4" d="
M1351 708l12 -7l4 0l-12 16z
"/>
<path fill="#ddf0f5" d="
M1347 704l11 -9l5 6l-12 7z
M1343 713l11 -2l4 -16l-11 9z
"/>
<path fill="#daeef4" d="
M1339 729l11 -22l4 4l-11 2z
"/>
<path fill="#d6ecf4" d="
M1335 723l11 -7l4 -9l-11 22z
"/>
<path fill="#daeef4" d="
M1331 729l11 -23l4 10l-11 7z
M1327 720l11 5l4 -19l-11 23z
"/>
<path fill="#d6ecf4" d="
M1323 723l11 6l4 -4l-11 -5z
M1319 733l11 -14l4 10l-11 -6z
"/>
<path fill="#daeef4" d="
M1315 732l11 -11l4 -2l-11 14z
M1311 725l11 5l4 -9l-11 11z
M1306 728l12 0l4 2l-11 -5z
M1302 730l12 4l4 -6l-12 0z
M1298 738l12 5l4 -9l-12 -4z
M1294 740l12 -20l4 23l-12 -5z
"/>
<path fill="#ddf0f5" d="
M1290 740l12 -19l4 -1l-12 20z
"/>
<path fill="#daeef4" d="
M1286 758l11 -20l5 -17l-12 19z
"/>
<path fill="#cee7f2" d="
M1282 762l11 -7l4 -17l-11 20z
"/>
<path fill="#c5e2ef" d="
M1278 761l11 3l4 -9l-11 7z
"/>
<path fill="#cee7f2" d="
M1274 745l11 17l4 2l-11 -3z
M1270 763l11 7l4 -8l-11 -17z
"/>
<path fill="#b4d8ea" d="
M1266 787l11 1l4 -18l-11 -7z
M1262 786l11 -23l4 25l-11 -1z
"/>
<path fill="#c5e2ef" d="
M1258 774l11 -8l4 -3l-11 23z
"/>
<path fill="#bcddec" d="
M1254 783l11 8l4 -25l-11 8z
"/>
<path fill="#add3e8" d="
M1250 801l11 -14l4 4l-11 -8z
M1245 790l12 18l4 -21l-11 14z
M1241 788l12 13l4 7l-12 -18z
M1237 789l12 27l4 -15l-12 -13z
M1233 801l12 -4l4 19l-12 -27z
"/>
<path fill="#a5cee6" d="
M1229 822l12 -2l4 -23l-12 4z
"/>
<path fill="#8fbfdf" d="
M1225 832l12 -5l4 -7l-12 2z
"/>
<path fill="#96c4e1" d="
M1221 817l11 -1l5 11l-12 5z
"/>
<path fill="#9ec9e3" d="
M1217 813l11 19l4 -16l-11 1z
"/>
<path fill="#a5cee6" d="
M1213 808l11 9l4 15l-11 -19z
"/>
<path fill="#add3e8" d="
M1209 818l11 -1l4 0l-11 -9z
"/>
<path fill="#9ec9e3" d="
M1205 833l11 1l4 -17l-11 1z
M1201 815l11 6l4 13l-11 -1z
M1197 858l11 -39l4 2l-11 -6z
"/>
<path fill="#8fbfdf" d="
M1193 850l11 -6l4 -25l-11 39z
"/>
<path fill="#9ec9e3" d="
M1189 821l11 8l4 15l-11 6z
"/>
<path fill="#b4d8ea" d="
M1480 670l12 -3l4 0l-11 19z
"/>
<path fill="#bcddec" d="
M1476 676l12 0l4 -9l-12 3z
"/>
<path fill="#cee7f2" d="
M1472 644l12 1l4 31l-12 0z
"/>
<path fill="#e0f1f6" d="
M1468 648l12 -6l4 3l-12 -1z
M1464 652l12 -10l4 0l-12 6z
M1460 651l11 -6l5 -3l-12 10z
M1456 646l11 7l4 -8l-11 6z
"/>
<path fill="#ddf0f5" d="
M1452 664l11 -8l4 -3l-11 -7z
M1448 656l11 -8l4 8l-11 8z
"/>
<path fill="#e0f1f6" d="
M1444 667l11 -13l4 -6l-11 8z
M1440 653l11 2l4 -1l-11 13z
M1436 667l11 -6l4 -6l-11 -2z
"/>
<path fill="#ddf0f5" d="
M1432 673l11 -10l4 -2l-11 6z
M1428 676l11 -17l4 4l-11 10z
M1424 675l11 -5l4 -11l-11 17z
M1419 670l12 0l4 0l-11 5z
"/>
<path fill="#e0f1f6" d="
M1415 669l12 -1l4 2l-12 0z
M1411 669l12 4l4 -5l-12 1z
M1407 680l12 -1l4 -6l-12 -4z
"/>
<path fill="#ddf0f5" d="
M1403 678l12 8l4 -7l-12 1z
M1399 687l11 -3l5 2l-12 -8z
M1395 690l11 -5l4 -1l-11 3z
M1391 689l11 -5l4 1l-11 5z
M1387 697l11 -7l4 -6l-11 5z
M1383 695l11 -17l4 12l-11 7z
M1379 706l11 -18l4 -10l-11 17z
M1375 700l11 -5l4 -7l-11 18z
M1371 707l11 -8l4 -4l-11 5z
M1367 701l11 3l4 -5l-11 8z
M1363 701l11 8l4 -5l-11 -3z
"/>
<path fill="#e0f1f6" d="
M1358 695l12 0l4 14l-11 -8z
M1354 711l12 -9l4 -7l-12 0z
"/>
<path fill="#ddf0f5" d="
M1350 707l12 5l4 -10l-12 9z
M1346 716l12 -6l4 2l-12 -5z
"/>
<path fill="#e0f1f6" d="
M1342 706l12 -2l4 6l-12 6z
"/>
<path fill="#ddf0f5" d="
M1338 725l11 -3l5 -18l-12 2z
"/>
<path fill="#daeef4" d="
M1334 729l11 -12l4 5l-11 3z
"/>
<path fill="#ddf0f5" d="
M1330 719l11 -1l4 -1l-11 12z
"/>
<path fill="#e0f1f6" d="
M1326 721l11 -11l4 8l-11 1z
"/>
<path fill="#ddf0f5" d="
M1322 730l11 5l4 -25l-11 11z
"/>
<path fill="#daeef4" d="
M1318 728l11 -4l4 11l-11 -5z
"/>
<path fill="#ddf0f5" d="
M1314 734l11 1l4 -11l-11 4z
"/>
<path fill="#daeef4" d="
M1310 743l11 -10l4 2l-11 -1z
"/>
<path fill="#ddf0f5" d="
M1306 720l11 8l4 5l-11 10z
"/>
<path fill="#e0f1f6" d="
M1302 721l11 16l4 -9l-11 -8z
"/>
<path fill="#ddf0f5" d="
M1297 738l12 11l4 -12l-11 -16z
"/>
<path fill="#d6ecf4" d="
M1293 755l12 3l4 -9l-12 -11z
"/>
<path fill="#c5e2ef" d="
M1289 764l12 15l4 -21l-12 -3z
M1285 762l12 -12l4 29l-12 -15z
M1281 770l12 8l4 -28l-12 12z
"/>
<path fill="#add3e8" d="
M1277 788l11 15l5 -25l-12 -8z
"/>
<path fill="#b4d8ea" d="
M1273 763l11 15l4 25l-11 -15z
"/>
<path fill="#c5e2ef" d="
M1269 766l11 25l4 -13l-11 -15z
"/>
<path fill="#bcddec" d="
M1265 791l11 -18l4 18l-11 -25z
"/>
<path fill="#b4d8ea" d="
M1261 787l11 5l4 -19l-11 18z
"/>
<path fill="#add3e8" d="
M1257 808l11 -19l4 3l-11 -5z
M1253 801l11 -14l4 2l-11 19z
"/>
<path fill="#b4d8ea" d="
M1249 816l11 -39l4 10l-11 14z
M1245 797l11 4l4 -24l-11 39z
"/>
<path fill="#a5cee6" d="
M1241 820l11 3l4 -22l-11 -4z
"/>
<path fill="#8fbfdf" d="
M1237 827l11 25l4 -29l-11 -3z
M1232 816l12 20l4 16l-11 -25z
M1228 832l12 22l4 -18l-12 -20z
M1224 817l12 24l4 13l-12 -22z
"/>
<path fill="#96c4e1" d="
M1220 817l12 37l4 -13l-12 -24z
"/>
<path fill="#8fbfdf" d="
M1216 834l12 10l4 10l-12 -37z
"/>
<path fill="#96c4e1" d="
M1212 821l11 28l5 -5l-12 -10z
"/>
<path fill="#9ec9e3" d="
M1208 819l11 28l4 2l-11 -28z
"/>
<path fill="#8fbfdf" d="
M1204 844l11 19l4 -16l-11 -28z
M1200 829l11 26l4 8l-11 -19z
"/>
<path fill="#c5e2ef" d="
M1492 667l11 -6l4 11l-11 -5z
M1488 676l11 -12l4 -3l-11 6z
"/>
<path fill="#d6ecf4" d="
M1484 645l11 5l4 14l-11 12z
"/>
<path fill="#e0f1f6" d="
M1480 642l11 -1l4 9l-11 -5z
"/>
<path fill="#e4f3f6" d="
M1476 642l11 6l4 -7l-11 1z
M1471 645l12 1l4 2l-11 -6z
M1467 653l12 -18l4 11l-12 -1z
M1463 656l12 -6l4 -15l-12 18z
M1459 648l12 5l4 -3l-12 6z
M1455 654l12 -6l4 5l-12 -5z
M1451 655l11 -6l5 -1l-12 6z
M1447 661l11 -3l4 -9l-11 6z
"/>
<path fill="#e0f1f6" d="
M1443 663l11 0l4 -5l-11 3z
"/>
<path fill="#e4f3f6" d="
M1439 659l11 -3l4 7l-11 0z
"/>
<path fill="#e0f1f6" d="
M1435 670l11 6l4 -20l-11 3z
M1431 670l11 -8l4 14l-11 -6z
"/>
<path fill="#e4f3f6" d="
M1427 668l11 -11l4 5l-11 8z
"/>
<path fill="#e9f2ee" d="
M1423 673l11 -8l4 -8l-11 11z
"/>
<path fill="#e4f3f6" d="
M1419 679l11 -12l4 -2l-11 8z
"/>
<path fill="#e0f1f6" d="
M1415 686l11 -5l4 -14l-11 12z
M1410 684l12 -18l4 15l-11 5z
"/>
<path fill="#e4f3f6" d="
M1406 685l12 -8l4 -11l-12 18z
"/>
<path fill="#e0f1f6" d="
M1402 684l12 0l4 -7l-12 8z
M1398 690l12 -5l4 -1l-12 0z
"/>
<path fill="#e4f3f6" d="
M1394 678l12 6l4 1l-12 5z
M1390 688l11 12l5 -16l-12 -6z
"/>
<path fill="#e0f1f6" d="
M1386 695l11 -4l4 9l-11 -12z
M1382 699l11 -5l4 -3l-11 4z
M1378 704l11 -1l4 -9l-11 5z
"/>
<path fill="#ddf0f5" d="
M1374 709l11 -7l4 1l-11 1z
"/>
<path fill="#e0f1f6" d="
M1370 695l11 -2l4 9l-11 7z
"/>
<path fill="#e4f3f6" d="
M1366 702l11 4l4 -13l-11 2z
"/>
<path fill="#e0f1f6" d="
M1362 712l11 1l4 -7l-11 -4z
"/>
<path fill="#ddf0f5" d="
M1358 710l11 1l4 2l-11 -1z
"/>
<path fill="#e0f1f6" d="
M1354 704l11 12l4 -5l-11 -1z
M1349 722l12 -9l4 3l-11 -12z
"/>
<path fill="#ddf0f5" d="
M1345 717l12 5l4 -9l-12 9z
"/>
<path fill="#e0f1f6" d="
M1341 718l12 -4l4 8l-12 -5z
"/>
<path fill="#e4f3f6" d="
M1337 710l12 7l4 -3l-12 4z
"/>
<path fill="#e0f1f6" d="
M1333 735l12 -6l4 -12l-12 -7z
"/>
<path fill="#ddf0f5" d="
M1329 724l11 3l5 2l-12 6z
M1325 735l11 -1l4 -7l-11 -3z
"/>
<path fill="#daeef4" d="
M1321 733l11 8l4 -7l-11 1z
"/>
<path fill="#ddf0f5" d="
M1317 728l11 9l4 4l-11 -8z
M1313 737l11 8l4 -8l-11 -9z
"/>
<path fill="#d6ecf4" d="
M1309 749l11 9l4 -13l-11 -8z
"/>
<path fill="#cee7f2" d="
M1305 758l11 -6l4 6l-11 -9z
"/>
<path fill="#bcddec" d="
M1301 779l11 6l4 -33l-11 6z
"/>
<path fill="#c5e2ef" d="
M1297 750l11 10l4 25l-11 -6z
M1293 778l11 14l4 -32l-11 -10z
"/>
<path fill="#a5cee6" d="
M1288 803l12 -10l4 -1l-11 -14z
M1284 778l12 18l4 -3l-12 10z
"/>
<path fill="#add3e8" d="
M1280 791l12 19l4 -14l-12 -18z
M1276 773l12 24l4 13l-12 -19z
M1272 792l12 35l4 -30l-12 -24z
"/>
<path fill="#9ec9e3" d="
M1268 789l12 46l4 -8l-12 -35z
M1264 787l11 49l5 -1l-12 -46z
"/>
<path fill="#add3e8" d="
M1260 777l11 37l4 22l-11 -49z
M1256 801l11 33l4 -20l-11 -37z
"/>
<path fill="#8fbfdf" d="
M1252 823l11 30l4 -19l-11 -33z
"/>
<path fill="#75add2" d="
M1248 852l11 28l4 -27l-11 -30z
"/>
<path fill="#6fa8cf" d="
M1244 836l11 25l4 19l-11 -28z
"/>
<path fill="#7cb1d5" d="
M1240 854l11 1l4 6l-11 -25z
M1236 841l11 29l4 -15l-11 -1z
"/>
<path fill="#75add2" d="
M1232 854l11 16l4 0l-11 -29z
"/>
<path fill="#6fa8cf" d="
M1228 844l11 52l4 -26l-11 -16z
"/>
<path fill="#75add2" d="
M1223 849l12 22l4 25l-11 -52z
M1219 847l12 51l4 -27l-12 -22z
"/>
<path fill="#7cb1d5" d="
M1215 863l12 -7l4 42l-12 -51z
"/>
<path fill="#82b6d9" d="
M1211 855l12 10l4 -9l-12 7z
"/>
<path fill="#cee7f2" d="
M1503 661l11 -6l5 14l-12 3z
"/>
<path fill="#d6ecf4" d="
M1499 664l11 -6l4 -3l-11 6z
"/>
<path fill="#daeef4" d="
M1495 650l11 6l4 2l-11 6z
"/>
<path fill="#e0f1f6" d="
M1491 641l11 -5l4 20l-11 -6z
"/>
<path fill="#e4f3f6" d="
M1487 648l11 -8l4 -4l-11 5z
M1483 646l11 -3l4 -3l-11 8z
"/>
<path fill="#e9f2ee" d="
M1479 635l11 9l4 -1l-11 3z
M1475 650l11 -4l4 -2l-11 -9z
M1471 653l11 -7l4 0l-11 4z
M1467 648l11 1l4 -3l-11 7z
M1462 649l12 0l4 0l-11 -1z
M1458 658l12 -8l4 -1l-12 0z
"/>
<path fill="#e4f3f6" d="
M1454 663l12 0l4 -13l-12 8z
M1450 656l12 12l4 -5l-12 0z
M1446 676l12 -10l4 2l-12 -12z
M1442 662l11 -5l5 9l-12 10z
"/>
<path fill="#eef2e5" d="
M1438 657l11 8l4 -8l-11 5z
"/>
<path fill="#e9f2ee" d="
M1434 665l11 -1l4 1l-11 -8z
"/>
<path fill="#eef2e5" d="
M1430 667l11 -9l4 6l-11 1z
"/>
<path fill="#e9f2ee" d="
M1426 681l11 -3l4 -20l-11 9z
M1422 666l11 4l4 8l-11 3z
M1418 677l11 -2l4 -5l-11 -4z
"/>
<path fill="#e4f3f6" d="
M1414 684l11 5l4 -14l-11 2z
M1410 685l11 -5l4 9l-11 -5z
"/>
<path fill="#e9f2ee" d="
M1406 684l11 -6l4 2l-11 5z
"/>
<path fill="#e4f3f6" d="
M1401 700l12 -9l4 -13l-11 6z
"/>
<path fill="#e0f1f6" d="
M1397 691l12 -1l4 1l-12 9z
"/>
<path fill="#e4f3f6" d="
M1393 694l12 4l4 -8l-12 1z
"/>
<path fill="#e0f1f6" d="
M1389 703l12 -7l4 2l-12 -4z
"/>
<path fill="#e4f3f6" d="
M1385 702l12 -11l4 5l-12 7z
M1381 693l11 7l5 -9l-12 11z
M1377 706l11 -14l4 8l-11 -7z
M1373 713l11 -12l4 -9l-11 14z
M1369 711l11 -10l4 0l-11 12z
M1365 716l11 -11l4 -4l-11 10z
M1361 713l11 -4l4 -4l-11 11z
"/>
<path fill="#e0f1f6" d="
M1357 722l11 -4l4 -9l-11 4z
M1353 714l11 0l4 4l-11 4z
"/>
<path fill="#e4f3f6" d="
M1349 717l11 -7l4 4l-11 0z
"/>
<path fill="#e0f1f6" d="
M1345 729l11 0l4 -19l-11 7z
M1340 727l12 -3l4 5l-11 0z
"/>
<path fill="#ddf0f5" d="
M1336 734l12 5l4 -15l-12 3z
M1332 741l12 -16l4 14l-12 -5z
"/>
<path fill="#e0f1f6" d="
M1328 737l12 -11l4 -1l-12 16z
M1324 745l12 -22l4 3l-12 11z
"/>
<path fill="#daeef4" d="
M1320 758l11 -10l5 -25l-12 22z
"/>
<path fill="#cee7f2" d="
M1316 752l11 26l4 -30l-11 10z
"/>
<path fill="#bcddec" d="
M1312 785l11 -10l4 3l-11 -26z
M1308 760l11 15l4 0l-11 10z
"/>
<path fill="#b4d8ea" d="
M1304 792l11 7l4 -24l-11 -15z
"/>
<path fill="#a5cee6" d="
M1300 793l11 -5l4 11l-11 -7z
"/>
<path fill="#add3e8" d="
M1296 796l11 -4l4 -4l-11 5z
"/>
<path fill="#9ec9e3" d="
M1292 810l11 2l4 -20l-11 4z
M1288 797l11 15l4 0l-11 -2z
"/>
<path fill="#96c4e1" d="
M1284 827l11 -8l4 -7l-11 -15z
"/>
<path fill="#82b6d9" d="
M1280 835l11 3l4 -19l-11 8z
M1275 836l12 -4l4 6l-11 -3z
"/>
<path fill="#89badc" d="
M1271 814l12 27l4 -9l-12 4z
M1267 834l12 14l4 -7l-12 -27z
"/>
<path fill="#82b6d9" d="
M1263 853l12 -16l4 11l-12 -14z
"/>
<path fill="#6fa8cf" d="
M1259 880l12 -19l4 -24l-12 16z
"/>
<path fill="#6298c7" d="
M1255 861l11 23l5 -23l-12 19z
"/>
<path fill="#6fa8cf" d="
M1251 855l11 7l4 22l-11 -23z
M1247 870l11 -3l4 -5l-11 -7z
M1243 870l11 0l4 -3l-11 3z
"/>
<path fill="#6298c7" d="
M1239 896l11 -15l4 -11l-11 0z
M1235 871l11 8l4 2l-11 15z
M1231 898l11 -3l4 -16l-11 -8z
M1227 856l11 46l4 -7l-11 3z
"/>
<path fill="#6fa8cf" d="
M1223 865l11 27l4 10l-11 -46z
"/>
<path fill="#cee7f2" d="
M1514 655l12 4l4 7l-11 3z
"/>
<path fill="#daeef4" d="
M1510 658l12 -5l4 6l-12 -4z
"/>
<path fill="#ddf0f5" d="
M1506 656l12 -19l4 16l-12 5z
"/>
<path fill="#e4f3f6" d="
M1502 636l12 -2l4 3l-12 19z
"/>
<path fill="#e9f2ee" d="
M1498 640l12 11l4 -17l-12 2z
M1494 643l11 -5l5 13l-12 -11z
"/>
<path fill="#eef2e5" d="
M1490 644l11 -13l4 7l-11 5z
M1486 646l11 -6l4 -9l-11 13z
M1482 646l11 -4l4 -2l-11 6z
M1478 649l11 3l4 -10l-11 4z
M1474 649l11 -5l4 8l-11 -3z
M1470 650l11 12l4 -18l-11 5z
"/>
<path fill="#e9f2ee" d="
M1466 663l11 0l4 -1l-11 -12z
M1462 668l11 -19l4 14l-11 0z
M1458 666l11 -1l4 -16l-11 19z
M1453 657l12 9l4 -1l-11 1z
M1449 665l12 -2l4 3l-12 -9z
"/>
<path fill="#eef2e5" d="
M1445 664l12 -2l4 1l-12 2z
M1441 658l12 10l4 -6l-12 2z
"/>
<path fill="#e9f2ee" d="
M1437 678l12 -3l4 -7l-12 -10z
"/>
<path fill="#e4f3f6" d="
M1433 670l11 14l5 -9l-12 3z
"/>
<path fill="#e9f2ee" d="
M1429 675l11 1l4 8l-11 -14z
M1425 689l11 -7l4 -6l-11 -1z
"/>
<path fill="#e4f3f6" d="
M1421 680l11 4l4 -2l-11 7z
"/>
<path fill="#e9f2ee" d="
M1417 678l11 5l4 1l-11 -4z
M1413 691l11 2l4 -10l-11 -5z
"/>
<path fill="#e4f3f6" d="
M1409 690l11 5l4 -2l-11 -2z
M1405 698l11 3l4 -6l-11 -5z
M1401 696l11 0l4 5l-11 -3z
"/>
<path fill="#e9f2ee" d="
M1397 691l11 4l4 1l-11 0z
M1392 700l12 -2l4 -3l-11 -4z
M1388 692l12 10l4 -4l-12 2z
"/>
<path fill="#e4f3f6" d="
M1384 701l12 10l4 -9l-12 -10z
M1380 701l12 13l4 -3l-12 -10z
M1376 705l12 5l4 4l-12 -13z
M1372 709l11 8l5 -7l-12 -5z
M1368 718l11 -9l4 8l-11 -8z
M1364 714l11 -2l4 -3l-11 9z
M1360 710l11 12l4 -10l-11 2z
M1356 729l11 -11l4 4l-11 -12z
M1352 724l11 -10l4 4l-11 11z
M1348 739l11 -13l4 -12l-11 10z
"/>
<path fill="#e0f1f6" d="
M1344 725l11 15l4 -14l-11 13z
M1340 726l11 7l4 7l-11 -15z
"/>
<path fill="#e4f3f6" d="
M1336 723l11 18l4 -8l-11 -7z
"/>
<path fill="#e0f1f6" d="
M1331 748l12 -8l4 1l-11 -18z
"/>
<path fill="#cee7f2" d="
M1327 778l12 -8l4 -30l-12 8z
"/>
<path fill="#bcddec" d="
M1323 775l12 7l4 -12l-12 8z
M1319 775l12 -7l4 14l-12 -7z
"/>
<path fill="#b4d8ea" d="
M1315 799l12 3l4 -34l-12 7z
"/>
<path fill="#a5cee6" d="
M1311 788l11 7l5 7l-12 -3z
M1307 792l11 21l4 -18l-11 -7z
"/>
<path fill="#96c4e1" d="
M1303 812l11 11l4 -10l-11 -21z
M1299 812l11 -9l4 20l-11 -11z
M1295 819l11 3l4 -19l-11 9z
"/>
<path fill="#89badc" d="
M1291 838l11 3l4 -19l-11 -3z
"/>
<path fill="#7cb1d5" d="
M1287 832l11 16l4 -7l-11 -3z
M1283 841l11 24l4 -17l-11 -16z
M1279 848l11 -18l4 35l-11 -24z
"/>
<path fill="#82b6d9" d="
M1275 837l11 22l4 -29l-11 18z
"/>
<path fill="#7cb1d5" d="
M1271 861l11 -10l4 8l-11 -22z
"/>
<path fill="#69a0cb" d="
M1266 884l12 -13l4 -20l-11 10z
"/>
<path fill="#6298c7" d="
M1262 862l12 32l4 -23l-12 13z
"/>
<path fill="#69a0cb" d="
M1258 867l12 11l4 16l-12 -32z
"/>
<path fill="#6298c7" d="
M1254 870l12 48l4 -40l-12 -11z
M1250 881l12 -15l4 52l-12 -48z
"/>
<path fill="#6fa8cf" d="
M1246 879l11 -12l5 -1l-12 15z
"/>
<path fill="#69a0cb" d="
M1242 895l11 -10l4 -18l-11 12z
"/>
<path fill="#5589be" d="
M1238 902l11 15l4 -32l-11 10z
"/>
<path fill="#5c90c3" d="
M1234 892l11 -18l4 43l-11 -15z
"/>
<path fill="#cee7f2" d="
M1526 659l11 -2l4 18l-11 -9z
"/>
<path fill="#daeef4" d="
M1522 653l11 6l4 -2l-11 2z
"/>
<path fill="#e0f1f6" d="
M1518 637l11 3l4 19l-11 -6z
"/>
<path fill="#eef2e5" d="
M1514 634l11 2l4 4l-11 -3z
"/>
<path fill="#e9f2ee" d="
M1510 651l11 -12l4 -3l-11 -2z
"/>
<path fill="#eef2e5" d="
M1505 638l12 -1l4 2l-11 12z
"/>
<path fill="#f3f1dd" d="
M1501 631l12 11l4 -5l-12 1z
"/>
<path fill="#eef2e5" d="
M1497 640l12 13l4 -11l-12 -11z
M1493 642l12 11l4 0l-12 -13z
M1489 652l12 -10l4 11l-12 -11z
"/>
<path fill="#f3f1dd" d="
M1485 644l11 -9l5 7l-12 10z
M1481 662l11 -21l4 -6l-11 9z
"/>
<path fill="#e9f2ee" d="
M1477 663l11 -3l4 -19l-11 21z
"/>
<path fill="#eef2e5" d="
M1473 649l11 0l4 11l-11 3z
M1469 665l11 -2l4 -14l-11 0z
"/>
<path fill="#e9f2ee" d="
M1465 666l11 -5l4 2l-11 2z
"/>
<path fill="#eef2e5" d="
M1461 663l11 0l4 -2l-11 5z
"/>
<path fill="#f3f1dd" d="
M1457 662l11 -12l4 13l-11 0z
M1453 668l11 4l4 -22l-11 12z
"/>
<path fill="#e9f2ee" d="
M1449 675l11 -5l4 2l-11 -4z
M1444 684l12 -6l4 -8l-11 5z
M1440 676l12 5l4 -3l-12 6z
M1436 682l12 -3l4 2l-12 -5z
M1432 684l12 2l4 -7l-12 3z
M1428 683l12 -2l4 5l-12 -2z
M1424 693l11 -7l5 -5l-12 2z
M1420 695l11 -14l4 5l-11 7z
M1416 701l11 -15l4 -5l-11 14z
"/>
<path fill="#e4f3f6" d="
M1412 696l11 2l4 -12l-11 15z
"/>
<path fill="#e9f2ee" d="
M1408 695l11 -7l4 10l-11 -2z
"/>
<path fill="#eef2e5" d="
M1404 698l11 -11l4 1l-11 7z
"/>
<path fill="#e9f2ee" d="
M1400 702l11 0l4 -15l-11 11z
"/>
<path fill="#e4f3f6" d="
M1396 711l11 -11l4 2l-11 0z
M1392 714l11 -4l4 -10l-11 11z
M1388 710l11 -7l4 7l-11 4z
M1383 717l12 -2l4 -12l-11 7z
M1379 709l12 8l4 -2l-12 2z
"/>
<path fill="#e9f2ee" d="
M1375 712l12 -1l4 6l-12 -8z
M1371 722l12 -8l4 -3l-12 1z
M1367 718l12 -5l4 1l-12 8z
M1363 714l11 8l5 -9l-12 5z
"/>
<path fill="#e4f3f6" d="
M1359 726l11 4l4 -8l-11 -8z
"/>
<path fill="#e0f1f6" d="
M1355 740l11 -8l4 -2l-11 -4z
M1351 733l11 3l4 -4l-11 8z
"/>
<path fill="#e4f3f6" d="
M1347 741l11 -19l4 14l-11 -3z
"/>
<path fill="#e0f1f6" d="
M1343 740l11 10l4 -28l-11 19z
"/>
<path fill="#d6ecf4" d="
M1339 770l11 5l4 -25l-11 -10z
"/>
<path fill="#bcddec" d="
M1335 782l11 1l4 -8l-11 -5z
M1331 768l11 18l4 -3l-11 -1z
"/>
<path fill="#add3e8" d="
M1327 802l11 8l4 -24l-11 -18z
"/>
<path fill="#9ec9e3" d="
M1322 795l12 11l4 4l-11 -8z
M1318 813l12 -1l4 -6l-12 -11z
"/>
<path fill="#8fbfdf" d="
M1314 823l12 3l4 -14l-12 1z
M1310 803l12 24l4 -1l-12 -3z
"/>
<path fill="#89badc" d="
M1306 822l12 34l4 -29l-12 -24z
"/>
<path fill="#7cb1d5" d="
M1302 841l12 4l4 11l-12 -34z
M1298 848l11 -6l5 3l-12 -4z
"/>
<path fill="#75add2" d="
M1294 865l11 -20l4 -3l-11 6z
"/>
<path fill="#7cb1d5" d="
M1290 830l11 17l4 -2l-11 20z
M1286 859l11 -6l4 -6l-11 -17z
M1282 851l11 -7l4 9l-11 6z
"/>
<path fill="#6fa8cf" d="
M1278 871l11 19l4 -46l-11 7z
"/>
<path fill="#5c90c3" d="
M1274 894l11 -19l4 15l-11 -19z
M1270 878l11 19l4 -22l-11 19z
"/>
<path fill="#5589be" d="
M1266 918l11 -36l4 15l-11 -19z
"/>
<path fill="#5c90c3" d="
M1262 866l11 37l4 -21l-11 36z
"/>
<path fill="#6298c7" d="
M1257 867l12 38l4 -2l-11 -37z
M1253 885l12 6l4 14l-12 -38z
"/>
<path fill="#4f81ba" d="
M1249 917l12 12l4 -38l-12 -6z
"/>
<path fill="#5589be" d="
M1245 874l12 27l4 28l-12 -12z
"/>
<path fill="#d6ecf4" d="
M1537 657l11 -1l5 9l-12 10z
"/>
<path fill="#daeef4" d="
M1533 659l11 -2l4 -1l-11 1z
"/>
<path fill="#e0f1f6" d="
M1529 640l11 4l4 13l-11 2z
"/>
<path fill="#e9f2ee" d="
M1525 636l11 14l4 -6l-11 -4z
"/>
<path fill="#eef2e5" d="
M1521 639l11 -3l4 14l-11 -14z
M1517 637l11 5l4 -6l-11 3z
"/>
<path fill="#f3f1dd" d="
M1513 642l11 -10l4 10l-11 -5z
"/>
<path fill="#eef2e5" d="
M1509 653l11 -10l4 -11l-11 10z
M1505 653l11 -13l4 3l-11 10z
"/>
<path fill="#f3f1dd" d="
M1501 642l11 0l4 -2l-11 13z
"/>
<path fill="#f7f0d4" d="
M1496 635l12 7l4 0l-11 0z
M1492 641l12 14l4 -13l-12 -7z
"/>
<path fill="#eef2e5" d="
M1488 660l12 5l4 -10l-12 -14z
M1484 649l12 3l4 13l-12 -5z
M1480 663l12 8l4 -19l-12 -3z
"/>
<path fill="#e9f2ee" d="
M1476 661l11 6l5 4l-12 -8z
M1472 663l11 12l4 -8l-11 -6z
"/>
<path fill="#f3f1dd" d="
M1468 650l11 13l4 12l-11 -12z
M1464 672l11 -8l4 -1l-11 -13z
"/>
<path fill="#eef2e5" d="
M1460 670l11 -4l4 -2l-11 8z
M1456 678l11 -4l4 -8l-11 4z
M1452 681l11 -7l4 0l-11 4z
M1448 679l11 3l4 -8l-11 7z
"/>
<path fill="#e9f2ee" d="
M1444 686l11 -6l4 2l-11 -3z
"/>
<path fill="#eef2e5" d="
M1440 681l11 -4l4 3l-11 6z
M1435 686l12 4l4 -13l-11 4z
M1431 681l12 0l4 9l-12 -4z
"/>
<path fill="#f3f1dd" d="
M1427 686l12 -7l4 2l-12 0z
"/>
<path fill="#eef2e5" d="
M1423 698l12 -14l4 -5l-12 7z
M1419 688l12 11l4 -15l-12 14z
"/>
<path fill="#f3f1dd" d="
M1415 687l11 1l5 11l-12 -11z
"/>
<path fill="#eef2e5" d="
M1411 702l11 2l4 -16l-11 -1z
"/>
<path fill="#e4f3f6" d="
M1407 700l11 20l4 -16l-11 -2z
M1403 710l11 -7l4 17l-11 -20z
"/>
<path fill="#eef2e5" d="
M1399 703l11 -4l4 4l-11 7z
"/>
<path fill="#e9f2ee" d="
M1395 715l11 -4l4 -12l-11 4z
"/>
<path fill="#e4f3f6" d="
M1391 717l11 -2l4 -4l-11 4z
"/>
<path fill="#e9f2ee" d="
M1387 711l11 -11l4 15l-11 2z
"/>
<path fill="#eef2e5" d="
M1383 714l11 -5l4 -9l-11 11z
M1379 713l11 0l4 -4l-11 5z
M1374 722l12 -2l4 -7l-11 0z
"/>
<path fill="#e4f3f6" d="
M1370 730l12 10l4 -20l-12 2z
"/>
<path fill="#e0f1f6" d="
M1366 732l12 2l4 6l-12 -10z
"/>
<path fill="#e4f3f6" d="
M1362 736l12 -3l4 1l-12 -2z
M1358 722l12 16l4 -5l-12 3z
"/>
<path fill="#ddf0f5" d="
M1354 750l11 17l5 -29l-12 -16z
"/>
<path fill="#c5e2ef" d="
M1350 775l11 7l4 -15l-11 -17z
"/>
<path fill="#bcddec" d="
M1346 783l11 -15l4 14l-11 -7z
"/>
<path fill="#c5e2ef" d="
M1342 786l11 -19l4 1l-11 15z
"/>
<path fill="#b4d8ea" d="
M1338 810l11 -27l4 -16l-11 19z
"/>
<path fill="#a5cee6" d="
M1334 806l11 6l4 -29l-11 27z
"/>
<path fill="#9ec9e3" d="
M1330 812l11 -9l4 9l-11 -6z
M1326 826l11 -26l4 3l-11 9z
"/>
<path fill="#96c4e1" d="
M1322 827l11 -5l4 -22l-11 26z
"/>
<path fill="#7cb1d5" d="
M1318 856l11 7l4 -41l-11 5z
"/>
<path fill="#6fa8cf" d="
M1314 845l11 1l4 17l-11 -7z
"/>
<path fill="#7cb1d5" d="
M1309 842l12 9l4 -5l-11 -1z
"/>
<path fill="#82b6d9" d="
M1305 845l12 -7l4 13l-12 -9z
"/>
<path fill="#7cb1d5" d="
M1301 847l12 13l4 -22l-12 7z
"/>
<path fill="#6fa8cf" d="
M1297 853l12 29l4 -22l-12 -13z
M1293 844l12 32l4 6l-12 -29z
"/>
<path fill="#69a0cb" d="
M1289 890l11 -11l5 -3l-12 -32z
"/>
<path fill="#5c90c3" d="
M1285 875l11 16l4 -12l-11 11z
M1281 897l11 -3l4 -3l-11 -16z
"/>
<path fill="#5589be" d="
M1277 882l11 28l4 -16l-11 3z
"/>
<path fill="#4f81ba" d="
M1273 903l11 3l4 4l-11 -28z
M1269 905l11 8l4 -7l-11 -3z
"/>
<path fill="#4879b6" d="
M1265 891l11 48l4 -26l-11 -8z
"/>
<path fill="#436eb1" d="
M1261 929l11 1l4 9l-11 -48z
"/>
<path fill="#4f81ba" d="
M1257 901l11 -10l4 39l-11 -1z
"/>
<path fill="#daeef4" d="
M1548 656l12 3l4 4l-11 2z
M1544 657l12 7l4 -5l-12 -3z
"/>
<path fill="#e0f1f6" d="
M1540 644l12 -10l4 30l-12 -7z
"/>
<path fill="#e9f2ee" d="
M1536 650l12 -4l4 -12l-12 10z
M1532 636l12 10l4 0l-12 4z
"/>
<path fill="#eef2e5" d="
M1528 642l11 -4l5 8l-12 -10z
"/>
<path fill="#f3f1dd" d="
M1524 632l11 16l4 -10l-11 4z
M1520 643l11 2l4 3l-11 -16z
M1516 640l11 5l4 0l-11 -2z
"/>
<path fill="#f7f0d4" d="
M1512 642l11 1l4 2l-11 -5z
M1508 642l11 -4l4 5l-11 -1z
M1504 655l11 -13l4 -4l-11 4z
"/>
<path fill="#eef2e5" d="
M1500 665l11 -6l4 -17l-11 13z
M1496 652l11 10l4 -3l-11 6z
M1492 671l11 -8l4 -1l-11 -10z
"/>
<path fill="#e9f2ee" d="
M1487 667l12 -3l4 -1l-11 8z
"/>
<path fill="#eef2e5" d="
M1483 675l12 -14l4 3l-12 3z
"/>
<path fill="#f3f1dd" d="
M1479 663l12 -9l4 7l-12 14z
M1475 664l12 5l4 -15l-12 9z
M1471 666l12 3l4 0l-12 -5z
M1467 674l11 1l5 -6l-12 -3z
"/>
<path fill="#eef2e5" d="
M1463 674l11 14l4 -13l-11 -1z
"/>
<path fill="#e9f2ee" d="
M1459 682l11 1l4 5l-11 -14z
"/>
<path fill="#eef2e5" d="
M1455 680l11 -6l4 9l-11 -1z
"/>
<path fill="#f3f1dd" d="
M1451 677l11 -2l4 -1l-11 6z
"/>
<path fill="#eef2e5" d="
M1447 690l11 -3l4 -12l-11 2z
M1443 681l11 9l4 -3l-11 3z
"/>
<path fill="#f3f1dd" d="
M1439 679l11 11l4 0l-11 -9z
M1435 684l11 13l4 -7l-11 -11z
"/>
<path fill="#eef2e5" d="
M1431 699l11 -10l4 8l-11 -13z
"/>
<path fill="#f3f1dd" d="
M1426 688l12 -12l4 13l-11 10z
M1422 704l12 3l4 -31l-12 12z
"/>
<path fill="#e4f3f6" d="
M1418 720l12 -12l4 -1l-12 -3z
M1414 703l12 13l4 -8l-12 12z
"/>
<path fill="#e9f2ee" d="
M1410 699l12 11l4 6l-12 -13z
M1406 711l11 5l5 -6l-12 -11z
M1402 715l11 2l4 -1l-11 -5z
"/>
<path fill="#eef2e5" d="
M1398 700l11 15l4 2l-11 -2z
"/>
<path fill="#f3f1dd" d="
M1394 709l11 0l4 6l-11 -15z
"/>
<path fill="#eef2e5" d="
M1390 713l11 8l4 -12l-11 0z
"/>
<path fill="#e9f2ee" d="
M1386 720l11 12l4 -11l-11 -8z
"/>
<path fill="#e4f3f6" d="
M1382 740l11 -5l4 -3l-11 -12z
"/>
<path fill="#e0f1f6" d="
M1378 734l11 8l4 -7l-11 5z
"/>
<path fill="#e4f3f6" d="
M1374 733l11 -5l4 14l-11 -8z
M1370 738l11 12l4 -22l-11 5z
"/>
<path fill="#ddf0f5" d="
M1365 767l12 -27l4 10l-11 -12z
"/>
<path fill="#d6ecf4" d="
M1361 782l12 -21l4 -21l-12 27z
"/>
<path fill="#c5e2ef" d="
M1357 768l12 10l4 -17l-12 21z
"/>
<path fill="#cee7f2" d="
M1353 767l12 8l4 3l-12 -10z
"/>
<path fill="#bcddec" d="
M1349 783l12 22l4 -30l-12 -8z
"/>
<path fill="#a5cee6" d="
M1345 812l12 -2l4 -5l-12 -22z
"/>
<path fill="#9ec9e3" d="
M1341 803l11 9l5 -2l-12 2z
"/>
<path fill="#a5cee6" d="
M1337 800l11 16l4 -4l-11 -9z
"/>
<path fill="#96c4e1" d="
M1333 822l11 10l4 -16l-11 -16z
"/>
<path fill="#89badc" d="
M1329 863l11 -46l4 15l-11 -10z
"/>
<path fill="#82b6d9" d="
M1325 846l11 -10l4 -19l-11 46z
"/>
<path fill="#7cb1d5" d="
M1321 851l11 10l4 -25l-11 10z
M1317 838l11 13l4 10l-11 -10z
"/>
<path fill="#75add2" d="
M1313 860l11 13l4 -22l-11 -13z
"/>
<path fill="#6298c7" d="
M1309 882l11 -4l4 -5l-11 -13z
M1305 876l11 3l4 -1l-11 4z
M1300 879l12 7l4 -7l-11 -3z
"/>
<path fill="#5589be" d="
M1296 891l12 18l4 -23l-12 -7z
"/>
<path fill="#4f81ba" d="
M1292 894l12 13l4 2l-12 -18z
"/>
<path fill="#4879b6" d="
M1288 910l12 2l4 -5l-12 -13z
"/>
<path fill="#5589be" d="
M1284 906l12 -35l4 41l-12 -2z
M1280 913l11 11l5 -53l-12 35z
"/>
<path fill="#3a52a3" d="
M1276 939l11 -1l4 -14l-11 -11z
M1272 930l11 -10l4 18l-11 1z
"/>
<path fill="#4f81ba" d="
M1268 891l11 19l4 10l-11 10z
"/>
<path fill="#daeef4" d="
M1560 659l11 -2l4 14l-11 -8z
"/>
<path fill="#ddf0f5" d="
M1556 664l11 -6l4 -1l-11 2z
"/>
<path fill="#e4f3f6" d="
M1552 634l11 1l4 23l-11 6z
"/>
<path fill="#eef2e5" d="
M1548 646l11 -1l4 -10l-11 -1z
"/>
<path fill="#e9f2ee" d="
M1544 646l11 -3l4 2l-11 1z
"/>
<path fill="#eef2e5" d="
M1539 638l12 6l4 -1l-11 3z
M1535 648l12 1l4 -5l-12 -6z
M1531 645l12 1l4 3l-12 -1z
"/>
<path fill="#f3f1dd" d="
M1527 645l12 2l4 -1l-12 -1z
M1523 643l12 8l4 -4l-12 -2z
"/>
<path fill="#f7f0d4" d="
M1519 638l11 15l5 -2l-12 -8z
M1515 642l11 11l4 0l-11 -15z
"/>
<path fill="#f3f1dd" d="
M1511 659l11 -9l4 3l-11 -11z
"/>
<path fill="#eef2e5" d="
M1507 662l11 1l4 -13l-11 9z
M1503 663l11 -6l4 6l-11 -1z
"/>
<path fill="#f3f1dd" d="
M1499 664l11 -6l4 -1l-11 6z
M1495 661l11 5l4 -8l-11 6z
"/>
<path fill="#f7f0d4" d="
M1491 654l11 5l4 7l-11 -5z
M1487 669l11 -7l4 -3l-11 -5z
"/>
<path fill="#f3f1dd" d="
M1483 669l11 8l4 -15l-11 7z
M1478 675l12 -3l4 5l-11 -8z
"/>
<path fill="#e9f2ee" d="
M1474 688l12 3l4 -19l-12 3z
M1470 683l12 -2l4 10l-12 -3z
"/>
<path fill="#eef2e5" d="
M1466 674l12 20l4 -13l-12 2z
"/>
<path fill="#f3f1dd" d="
M1462 675l12 -1l4 20l-12 -20z
M1458 687l11 4l5 -17l-12 1z
"/>
<path fill="#eef2e5" d="
M1454 690l11 -6l4 7l-11 -4z
"/>
<path fill="#f3f1dd" d="
M1450 690l11 -7l4 1l-11 6z
"/>
<path fill="#eef2e5" d="
M1446 697l11 -1l4 -13l-11 7z
M1442 689l11 8l4 -1l-11 1z
"/>
<path fill="#f7f0d4" d="
M1438 676l11 8l4 13l-11 -8z
M1434 707l11 -14l4 -9l-11 -8z
"/>
<path fill="#eef2e5" d="
M1430 708l11 -3l4 -12l-11 14z
"/>
<path fill="#e9f2ee" d="
M1426 716l11 -9l4 -2l-11 3z
M1422 710l11 6l4 -9l-11 9z
M1417 716l12 -13l4 13l-11 -6z
M1413 717l12 6l4 -20l-12 13z
M1409 715l12 -1l4 9l-12 -6z
"/>
<path fill="#eef2e5" d="
M1405 709l12 9l4 -4l-12 1z
M1401 721l12 5l4 -8l-12 -9z
"/>
<path fill="#e4f3f6" d="
M1397 732l11 -5l5 -1l-12 -5z
M1393 735l11 0l4 -8l-11 5z
"/>
<path fill="#e0f1f6" d="
M1389 742l11 -10l4 3l-11 0z
"/>
<path fill="#e9f2ee" d="
M1385 728l11 -3l4 7l-11 10z
M1381 750l11 -30l4 5l-11 3z
"/>
<path fill="#e4f3f6" d="
M1377 740l11 16l4 -36l-11 30z
"/>
<path fill="#daeef4" d="
M1373 761l11 8l4 -13l-11 -16z
"/>
<path fill="#cee7f2" d="
M1369 778l11 -6l4 -3l-11 -8z
M1365 775l11 -18l4 15l-11 6z
"/>
<path fill="#c5e2ef" d="
M1361 805l11 -23l4 -25l-11 18z
"/>
<path fill="#add3e8" d="
M1357 810l11 -11l4 -17l-11 23z
"/>
<path fill="#9ec9e3" d="
M1352 812l12 4l4 -17l-11 11z
M1348 816l12 5l4 -5l-12 -4z
"/>
<path fill="#96c4e1" d="
M1344 832l12 -11l4 0l-12 -5z
"/>
<path fill="#9ec9e3" d="
M1340 817l12 -8l4 12l-12 11z
"/>
<path fill="#96c4e1" d="
M1336 836l12 -1l4 -26l-12 8z
"/>
<path fill="#82b6d9" d="
M1332 861l11 -17l5 -9l-12 1z
"/>
<path fill="#7cb1d5" d="
M1328 851l11 -2l4 -5l-11 17z
M1324 873l11 -23l4 -1l-11 2z
"/>
<path fill="#75add2" d="
M1320 878l11 -44l4 16l-11 23z
"/>
<path fill="#7cb1d5" d="
M1316 879l11 -34l4 -11l-11 44z
"/>
<path fill="#6fa8cf" d="
M1312 886l11 -7l4 -34l-11 34z
"/>
<path fill="#6298c7" d="
M1308 909l11 -53l4 23l-11 7z
M1304 907l11 -23l4 -28l-11 53z
"/>
<path fill="#5c90c3" d="
M1300 912l11 -33l4 5l-11 23z
"/>
<path fill="#69a0cb" d="
M1296 871l11 10l4 -2l-11 33z
M1291 924l12 -49l4 6l-11 -10z
"/>
<path fill="#5589be" d="
M1287 938l12 -56l4 -7l-12 49z
M1283 920l12 -30l4 -8l-12 56z
"/>
<path fill="#6298c7" d="
M1279 910l12 -39l4 19l-12 30z
"/>
<path fill="#d6ecf4" d="
M1571 657l11 9l5 7l-12 -2z
"/>
<path fill="#ddf0f5" d="
M1567 658l11 6l4 2l-11 -9z
"/>
<path fill="#e4f3f6" d="
M1563 635l11 18l4 11l-11 -6z
"/>
<path fill="#e9f2ee" d="
M1559 645l11 8l4 0l-11 -18z
M1555 643l11 12l4 -2l-11 -8z
"/>
<path fill="#eef2e5" d="
M1551 644l11 5l4 6l-11 -12z
M1547 649l11 7l4 -7l-11 -5z
M1543 646l11 8l4 2l-11 -7z
M1539 647l11 7l4 0l-11 -8z
"/>
<path fill="#f3f1dd" d="
M1535 651l11 -1l4 4l-11 -7z
M1530 653l12 -1l4 -2l-11 1z
M1526 653l12 -3l4 2l-12 1z
M1522 650l12 20l4 -20l-12 3z
M1518 663l12 -10l4 17l-12 -20z
M1514 657l12 17l4 -21l-12 10z
M1510 658l11 2l5 14l-12 -17z
M1506 666l11 7l4 -13l-11 -2z
M1502 659l11 5l4 9l-11 -7z
"/>
<path fill="#f7f0d4" d="
M1498 662l11 12l4 -10l-11 -5z
"/>
<path fill="#eef2e5" d="
M1494 677l11 2l4 -5l-11 -12z
M1490 672l11 20l4 -13l-11 -2z
"/>
<path fill="#e9f2ee" d="
M1486 691l11 -15l4 16l-11 -20z
"/>
<path fill="#eef2e5" d="
M1482 681l11 -4l4 -1l-11 15z
M1478 694l11 1l4 -18l-11 4z
M1474 674l11 6l4 15l-11 -1z
"/>
<path fill="#f3f1dd" d="
M1469 691l12 3l4 -14l-11 -6z
"/>
<path fill="#eef2e5" d="
M1465 684l12 15l4 -5l-12 -3z
M1461 683l12 13l4 3l-12 -15z
M1457 696l12 14l4 -14l-12 -13z
"/>
<path fill="#e9f2ee" d="
M1453 697l12 14l4 -1l-12 -14z
"/>
<path fill="#eef2e5" d="
M1449 684l11 16l5 11l-12 -14z
"/>
<path fill="#f3f1dd" d="
M1445 693l11 14l4 -7l-11 -16z
"/>
<path fill="#eef2e5" d="
M1441 705l11 10l4 -8l-11 -14z
"/>
<path fill="#e9f2ee" d="
M1437 707l11 17l4 -9l-11 -10z
M1433 716l11 -8l4 16l-11 -17z
"/>
<path fill="#eef2e5" d="
M1429 703l11 8l4 -3l-11 8z
"/>
<path fill="#e4f3f6" d="
M1425 723l11 19l4 -31l-11 -8z
M1421 714l11 -2l4 30l-11 -19z
"/>
<path fill="#eef2e5" d="
M1417 718l11 7l4 -13l-11 2z
"/>
<path fill="#e9f2ee" d="
M1413 726l11 7l4 -8l-11 -7z
M1408 727l12 -1l4 7l-11 -7z
"/>
<path fill="#e4f3f6" d="
M1404 735l12 -1l4 -8l-12 1z
M1400 732l12 2l4 0l-12 1z
M1396 725l12 28l4 -19l-12 -2z
"/>
<path fill="#e9f2ee" d="
M1392 720l12 18l4 15l-12 -28z
"/>
<path fill="#e4f3f6" d="
M1388 756l12 0l4 -18l-12 -18z
"/>
<path fill="#daeef4" d="
M1384 769l11 0l5 -13l-12 0z
"/>
<path fill="#d6ecf4" d="
M1380 772l11 -7l4 4l-11 0z
"/>
<path fill="#daeef4" d="
M1376 757l11 -3l4 11l-11 7z
"/>
<path fill="#d6ecf4" d="
M1372 782l11 17l4 -45l-11 3z
"/>
<path fill="#b4d8ea" d="
M1368 799l11 -7l4 7l-11 -17z
"/>
<path fill="#bcddec" d="
M1364 816l11 -46l4 22l-11 7z
"/>
<path fill="#add3e8" d="
M1360 821l11 1l4 -52l-11 46z
"/>
<path fill="#9ec9e3" d="
M1356 821l11 -14l4 15l-11 -1z
"/>
<path fill="#add3e8" d="
M1352 809l11 2l4 -4l-11 14z
"/>
<path fill="#9ec9e3" d="
M1348 835l11 -11l4 -13l-11 -2z
"/>
<path fill="#8fbfdf" d="
M1343 844l12 -16l4 -4l-11 11z
"/>
<path fill="#89badc" d="
M1339 849l12 -4l4 -17l-12 16z
"/>
<path fill="#82b6d9" d="
M1335 850l12 1l4 -6l-12 4z
"/>
<path fill="#8fbfdf" d="
M1331 834l12 4l4 13l-12 -1z
M1327 845l12 3l4 -10l-12 -4z
"/>
<path fill="#89badc" d="
M1323 879l11 -53l5 22l-12 -3z
M1319 856l11 3l4 -33l-11 53z
"/>
<path fill="#7cb1d5" d="
M1315 884l11 -16l4 -9l-11 -3z
M1311 879l11 -34l4 23l-11 16z
"/>
<path fill="#89badc" d="
M1307 881l11 -39l4 3l-11 34z
M1303 875l11 -16l4 -17l-11 39z
"/>
<path fill="#7cb1d5" d="
M1299 882l11 -5l4 -18l-11 16z
"/>
<path fill="#75add2" d="
M1295 890l11 -2l4 -11l-11 5z
M1291 871l11 14l4 3l-11 2z
"/>
<path fill="#d6ecf4" d="
M1582 666l12 3l4 8l-11 -4z
"/>
<path fill="#daeef4" d="
M1578 664l12 4l4 1l-12 -3z
"/>
<path fill="#e0f1f6" d="
M1574 653l12 2l4 13l-12 -4z
"/>
<path fill="#e4f3f6" d="
M1570 653l12 10l4 -8l-12 -2z
M1566 655l12 2l4 6l-12 -10z
"/>
<path fill="#e9f2ee" d="
M1562 649l11 0l5 8l-12 -2z
M1558 656l11 6l4 -13l-11 0z
M1554 654l11 8l4 0l-11 -6z
"/>
<path fill="#eef2e5" d="
M1550 654l11 -4l4 12l-11 -8z
M1546 650l11 19l4 -19l-11 4z
M1542 652l11 13l4 4l-11 -19z
"/>
<path fill="#f3f1dd" d="
M1538 650l11 14l4 1l-11 -13z
"/>
<path fill="#eef2e5" d="
M1534 670l11 4l4 -10l-11 -14z
M1530 653l11 18l4 3l-11 -4z
M1526 674l11 3l4 -6l-11 -18z
"/>
<path fill="#e9f2ee" d="
M1521 660l12 22l4 -5l-11 -3z
"/>
<path fill="#eef2e5" d="
M1517 673l12 4l4 5l-12 -22z
M1513 664l12 13l4 0l-12 -4z
"/>
<path fill="#f3f1dd" d="
M1509 674l12 -5l4 8l-12 -13z
"/>
<path fill="#eef2e5" d="
M1505 679l12 4l4 -14l-12 5z
"/>
<path fill="#e9f2ee" d="
M1501 692l11 -7l5 -2l-12 -4z
M1497 676l11 17l4 -8l-11 7z
"/>
<path fill="#eef2e5" d="
M1493 677l11 17l4 -1l-11 -17z
"/>
<path fill="#e9f2ee" d="
M1489 695l11 7l4 -8l-11 -17z
M1485 680l11 6l4 16l-11 -7z
"/>
<path fill="#eef2e5" d="
M1481 694l11 9l4 -17l-11 -6z
"/>
<path fill="#e9f2ee" d="
M1477 699l11 7l4 -3l-11 -9z
M1473 696l11 -2l4 12l-11 -7z
M1469 710l11 -6l4 -10l-11 2z
"/>
<path fill="#e4f3f6" d="
M1465 711l11 12l4 -19l-11 6z
M1460 700l12 6l4 17l-11 -12z
"/>
<path fill="#eef2e5" d="
M1456 707l12 -3l4 2l-12 -6z
"/>
<path fill="#e9f2ee" d="
M1452 715l12 1l4 -12l-12 3z
"/>
<path fill="#e4f3f6" d="
M1448 724l12 -7l4 -1l-12 -1z
"/>
<path fill="#e9f2ee" d="
M1444 708l12 9l4 0l-12 7z
M1440 711l11 11l5 -5l-12 -9z
"/>
<path fill="#e4f3f6" d="
M1436 742l11 -11l4 -9l-11 -11z
M1432 712l11 9l4 10l-11 11z
"/>
<path fill="#e9f2ee" d="
M1428 725l11 5l4 -9l-11 -9z
"/>
<path fill="#e4f3f6" d="
M1424 733l11 4l4 -7l-11 -5z
M1420 726l11 9l4 2l-11 -4z
M1416 734l11 11l4 -10l-11 -9z
M1412 734l11 4l4 7l-11 -11z
M1408 753l11 -13l4 -2l-11 -4z
"/>
<path fill="#e0f1f6" d="
M1404 738l11 9l4 -7l-11 13z
M1400 756l11 2l4 -11l-11 -9z
"/>
<path fill="#daeef4" d="
M1395 769l12 -11l4 0l-11 -2z
"/>
<path fill="#d6ecf4" d="
M1391 765l12 9l4 -16l-12 11z
"/>
<path fill="#daeef4" d="
M1387 754l12 21l4 -1l-12 -9z
"/>
<path fill="#d6ecf4" d="
M1383 799l12 -23l4 -1l-12 -21z
"/>
<path fill="#c5e2ef" d="
M1379 792l12 -9l4 -7l-12 23z
"/>
<path fill="#cee7f2" d="
M1375 770l11 13l5 0l-12 9z
"/>
<path fill="#c5e2ef" d="
M1371 822l11 -29l4 -10l-11 -13z
"/>
<path fill="#b4d8ea" d="
M1367 807l11 -18l4 4l-11 29z
M1363 811l11 -1l4 -21l-11 18z
M1359 824l11 -27l4 13l-11 1z
"/>
<path fill="#add3e8" d="
M1355 828l11 -8l4 -23l-11 27z
"/>
<path fill="#9ec9e3" d="
M1351 845l11 -27l4 2l-11 8z
M1347 851l11 -36l4 3l-11 27z
"/>
<path fill="#96c4e1" d="
M1343 838l11 1l4 -24l-11 36z
M1339 848l11 -17l4 8l-11 -1z
M1334 826l12 45l4 -40l-11 17z
"/>
<path fill="#8fbfdf" d="
M1330 859l12 -12l4 24l-12 -45z
"/>
<path fill="#89badc" d="
M1326 868l12 -23l4 2l-12 12z
"/>
<path fill="#8fbfdf" d="
M1322 845l12 3l4 -3l-12 23z
"/>
<path fill="#9ec9e3" d="
M1318 842l12 6l4 0l-12 -3z
"/>
<path fill="#96c4e1" d="
M1314 859l11 3l5 -14l-12 -6z
"/>
<path fill="#89badc" d="
M1310 877l11 -2l4 -13l-11 -3z
"/>
<path fill="#82b6d9" d="
M1306 888l11 -39l4 26l-11 2z
M1302 885l11 0l4 -36l-11 39z
"/>
<path fill="#c5e2ef" d="
M1594 669l11 18l4 7l-11 -17z
"/>
<path fill="#cee7f2" d="
M1590 668l11 25l4 -6l-11 -18z
"/>
<path fill="#daeef4" d="
M1586 655l11 7l4 31l-11 -25z
"/>
<path fill="#e0f1f6" d="
M1582 663l11 9l4 -10l-11 -7z
M1578 657l11 17l4 -2l-11 -9z
"/>
<path fill="#e4f3f6" d="
M1573 649l12 11l4 14l-11 -17z
"/>
<path fill="#e9f2ee" d="
M1569 662l12 5l4 -7l-12 -11z
"/>
<path fill="#e4f3f6" d="
M1565 662l12 16l4 -11l-12 -5z
M1561 650l12 21l4 7l-12 -16z
M1557 669l12 14l4 -12l-12 -21z
M1553 665l11 14l5 4l-12 -14z
M1549 664l11 18l4 -3l-11 -14z
M1545 674l11 18l4 -10l-11 -18z
"/>
<path fill="#e0f1f6" d="
M1541 671l11 23l4 -2l-11 -18z
M1537 677l11 22l4 -5l-11 -23z
M1533 682l11 9l4 8l-11 -22z
"/>
<path fill="#e4f3f6" d="
M1529 677l11 0l4 14l-11 -9z
"/>
<path fill="#eef2e5" d="
M1525 677l11 0l4 0l-11 0z
M1521 669l11 12l4 -4l-11 0z
"/>
<path fill="#e9f2ee" d="
M1517 683l11 16l4 -18l-11 -12z
"/>
<path fill="#e4f3f6" d="
M1512 685l12 16l4 -2l-11 -16z
M1508 693l12 10l4 -2l-12 -16z
M1504 694l12 8l4 1l-12 -10z
M1500 702l12 -6l4 6l-12 -8z
"/>
<path fill="#e9f2ee" d="
M1496 686l12 22l4 -12l-12 6z
"/>
<path fill="#e4f3f6" d="
M1492 703l11 8l5 -3l-12 -22z
M1488 706l11 3l4 2l-11 -8z
M1484 694l11 22l4 -7l-11 -3z
M1480 704l11 24l4 -12l-11 -22z
"/>
<path fill="#e0f1f6" d="
M1476 723l11 -5l4 10l-11 -24z
"/>
<path fill="#e4f3f6" d="
M1472 706l11 10l4 2l-11 5z
"/>
<path fill="#e9f2ee" d="
M1468 704l11 13l4 -1l-11 -10z
"/>
<path fill="#e4f3f6" d="
M1464 716l11 18l4 -17l-11 -13z
"/>
<path fill="#e0f1f6" d="
M1460 717l11 7l4 10l-11 -18z
"/>
<path fill="#e4f3f6" d="
M1456 717l11 13l4 -6l-11 -7z
M1451 722l12 8l4 0l-11 -13z
"/>
<path fill="#e0f1f6" d="
M1447 731l12 10l4 -11l-12 -8z
"/>
<path fill="#e4f3f6" d="
M1443 721l12 5l4 15l-12 -10z
M1439 730l12 7l4 -11l-12 -5z
"/>
<path fill="#e0f1f6" d="
M1435 737l12 8l4 -8l-12 -7z
M1431 735l12 14l4 -4l-12 -8z
M1427 745l11 4l5 0l-12 -14z
M1423 738l11 9l4 2l-11 -4z
"/>
<path fill="#e4f3f6" d="
M1419 740l11 8l4 -1l-11 -9z
"/>
<path fill="#e0f1f6" d="
M1415 747l11 17l4 -16l-11 -8z
"/>
<path fill="#daeef4" d="
M1411 758l11 14l4 -8l-11 -17z
"/>
<path fill="#d6ecf4" d="
M1407 758l11 26l4 -12l-11 -14z
"/>
<path fill="#cee7f2" d="
M1403 774l11 16l4 -6l-11 -26z
M1399 775l11 -1l4 16l-11 -16z
"/>
<path fill="#d6ecf4" d="
M1395 776l11 10l4 -12l-11 1z
"/>
<path fill="#c5e2ef" d="
M1391 783l11 34l4 -31l-11 -10z
"/>
<path fill="#bcddec" d="
M1386 783l12 18l4 16l-11 -34z
"/>
<path fill="#c5e2ef" d="
M1382 793l12 6l4 2l-12 -18z
M1378 789l12 11l4 -1l-12 -6z
"/>
<path fill="#b4d8ea" d="
M1374 810l12 24l4 -34l-12 -11z
"/>
<path fill="#add3e8" d="
M1370 797l12 20l4 17l-12 -24z
M1366 820l11 6l5 -9l-12 -20z
"/>
<path fill="#a5cee6" d="
M1362 818l11 18l4 -10l-11 -6z
M1358 815l11 25l4 -4l-11 -18z
"/>
<path fill="#96c4e1" d="
M1354 839l11 25l4 -24l-11 -25z
M1350 831l11 -7l4 40l-11 -25z
M1346 871l11 -19l4 -28l-11 7z
"/>
<path fill="#8fbfdf" d="
M1342 847l11 -2l4 7l-11 19z
"/>
<path fill="#96c4e1" d="
M1338 845l11 6l4 -6l-11 2z
M1334 848l11 1l4 2l-11 -6z
"/>
<path fill="#8fbfdf" d="
M1330 848l11 31l4 -30l-11 -1z
M1325 862l12 -2l4 19l-11 -31z
"/>
<path fill="#89badc" d="
M1321 875l12 3l4 -18l-12 2z
M1317 849l12 36l4 -7l-12 -3z
"/>
<path fill="#8fbfdf" d="
M1313 885l12 -37l4 37l-12 -36z
"/>
<path fill="#bcddec" d="
M1605 687l11 11l5 -5l-12 1z
M1601 693l11 -6l4 11l-11 -11z
"/>
<path fill="#d6ecf4" d="
M1597 662l11 16l4 9l-11 6z
"/>
<path fill="#ddf0f5" d="
M1593 672l11 -2l4 8l-11 -16z
M1589 674l11 3l4 -7l-11 2z
"/>
<path fill="#e0f1f6" d="
M1585 660l11 13l4 4l-11 -3z
M1581 667l11 10l4 -4l-11 -13z
"/>
<path fill="#ddf0f5" d="
M1577 678l11 6l4 -7l-11 -10z
M1573 671l11 19l4 -6l-11 -6z
M1569 683l11 5l4 2l-11 -19z
M1564 679l12 3l4 6l-11 -5z
"/>
<path fill="#e0f1f6" d="
M1560 682l12 9l4 -9l-12 -3z
"/>
<path fill="#daeef4" d="
M1556 692l12 8l4 -9l-12 -9z
M1552 694l12 -3l4 9l-12 -8z
M1548 699l12 4l4 -12l-12 3z
"/>
<path fill="#ddf0f5" d="
M1544 691l11 3l5 9l-12 -4z
"/>
<path fill="#e0f1f6" d="
M1540 677l11 19l4 -2l-11 -3z
"/>
<path fill="#e9f2ee" d="
M1536 677l11 12l4 7l-11 -19z
M1532 681l11 10l4 -2l-11 -12z
"/>
<path fill="#e4f3f6" d="
M1528 699l11 -2l4 -6l-11 -10z
"/>
<path fill="#ddf0f5" d="
M1524 701l11 13l4 -17l-11 2z
"/>
<path fill="#e0f1f6" d="
M1520 703l11 -5l4 16l-11 -13z
M1516 702l11 8l4 -12l-11 5z
M1512 696l11 22l4 -8l-11 -8z
"/>
<path fill="#ddf0f5" d="
M1508 708l11 16l4 -6l-11 -22z
M1503 711l12 13l4 0l-11 -16z
M1499 709l12 20l4 -5l-12 -13z
M1495 716l12 9l4 4l-12 -20z
M1491 728l12 -7l4 4l-12 -9z
M1487 718l12 17l4 -14l-12 7z
"/>
<path fill="#e0f1f6" d="
M1483 716l11 2l5 17l-12 -17z
M1479 717l11 16l4 -15l-11 -2z
"/>
<path fill="#ddf0f5" d="
M1475 734l11 -4l4 3l-11 -16z
M1471 724l11 17l4 -11l-11 4z
"/>
<path fill="#e0f1f6" d="
M1467 730l11 0l4 11l-11 -17z
M1463 730l11 13l4 -13l-11 0z
"/>
<path fill="#ddf0f5" d="
M1459 741l11 6l4 -4l-11 -13z
"/>
<path fill="#e0f1f6" d="
M1455 726l11 8l4 13l-11 -6z
"/>
<path fill="#e4f3f6" d="
M1451 737l11 0l4 -3l-11 -8z
"/>
<path fill="#ddf0f5" d="
M1447 745l11 12l4 -20l-11 0z
"/>
<path fill="#daeef4" d="
M1443 749l11 9l4 -1l-11 -12z
M1438 749l12 19l4 -10l-11 -9z
M1434 747l12 11l4 10l-12 -19z
"/>
<path fill="#ddf0f5" d="
M1430 748l12 18l4 -8l-12 -11z
"/>
<path fill="#daeef4" d="
M1426 764l12 -7l4 9l-12 -18z
M1422 772l12 -7l4 -8l-12 7z
"/>
<path fill="#cee7f2" d="
M1418 784l11 9l5 -28l-12 7z
"/>
<path fill="#bcddec" d="
M1414 790l11 1l4 2l-11 -9z
"/>
<path fill="#c5e2ef" d="
M1410 774l11 13l4 4l-11 -1z
M1406 786l11 10l4 -9l-11 -13z
"/>
<path fill="#b4d8ea" d="
M1402 817l11 -12l4 -9l-11 -10z
"/>
<path fill="#add3e8" d="
M1398 801l11 16l4 -12l-11 12z
M1394 799l11 31l4 -13l-11 -16z
M1390 800l11 34l4 -4l-11 -31z
"/>
<path fill="#9ec9e3" d="
M1386 834l11 -6l4 6l-11 -34z
"/>
<path fill="#96c4e1" d="
M1382 817l11 40l4 -29l-11 6z
M1377 826l12 23l4 8l-11 -40z
M1373 836l12 -1l4 14l-12 -23z
M1369 840l12 15l4 -20l-12 1z
"/>
<path fill="#82b6d9" d="
M1365 864l12 -1l4 -8l-12 -15z
"/>
<path fill="#89badc" d="
M1361 824l12 50l4 -11l-12 1z
M1357 852l11 31l5 -9l-12 -50z
M1353 845l11 20l4 18l-11 -31z
"/>
<path fill="#8fbfdf" d="
M1349 851l11 22l4 -8l-11 -20z
"/>
<path fill="#89badc" d="
M1345 849l11 35l4 -11l-11 -22z
"/>
<path fill="#82b6d9" d="
M1341 879l11 -16l4 21l-11 -35z
M1337 860l11 28l4 -25l-11 16z
"/>
<path fill="#7cb1d5" d="
M1333 878l11 10l4 0l-11 -28z
"/>
<path fill="#75add2" d="
M1329 885l11 11l4 -8l-11 -10z
"/>
<path fill="#82b6d9" d="
M1325 848l11 41l4 7l-11 -11z
"/>
<path fill="#bcddec" d="
M1616 698l12 -11l4 12l-11 -6z
M1612 687l12 18l4 -18l-12 11z
"/>
<path fill="#cee7f2" d="
M1608 678l12 0l4 27l-12 -18z
"/>
<path fill="#daeef4" d="
M1604 670l12 4l4 4l-12 0z
"/>
<path fill="#ddf0f5" d="
M1600 677l12 3l4 -6l-12 -4z
M1596 673l11 9l5 -2l-12 -3z
M1592 677l11 -4l4 9l-11 -9z
M1588 684l11 -8l4 -3l-11 4z
M1584 690l11 -9l4 -5l-11 8z
"/>
<path fill="#daeef4" d="
M1580 688l11 9l4 -16l-11 9z
M1576 682l11 19l4 -4l-11 -9z
"/>
<path fill="#ddf0f5" d="
M1572 691l11 -3l4 13l-11 -19z
"/>
<path fill="#daeef4" d="
M1568 700l11 -4l4 -8l-11 3z
M1564 691l11 7l4 -2l-11 4z
M1560 703l11 -4l4 -1l-11 -7z
M1555 694l12 11l4 -6l-11 4z
"/>
<path fill="#ddf0f5" d="
M1551 696l12 -4l4 13l-12 -11z
"/>
<path fill="#e4f3f6" d="
M1547 689l12 2l4 1l-12 4z
M1543 691l12 3l4 -3l-12 -2z
M1539 697l12 7l4 -10l-12 -3z
"/>
<path fill="#e0f1f6" d="
M1535 714l11 -14l5 4l-12 -7z
M1531 698l11 0l4 2l-11 14z
M1527 710l11 6l4 -18l-11 0z
"/>
<path fill="#daeef4" d="
M1523 718l11 7l4 -9l-11 -6z
M1519 724l11 -8l4 9l-11 -7z
M1515 724l11 5l4 -13l-11 8z
"/>
<path fill="#d6ecf4" d="
M1511 729l11 4l4 -4l-11 -5z
"/>
<path fill="#daeef4" d="
M1507 725l11 2l4 6l-11 -4z
"/>
<path fill="#ddf0f5" d="
M1503 721l11 13l4 -7l-11 -2z
"/>
<path fill="#daeef4" d="
M1499 735l11 -9l4 8l-11 -13z
"/>
<path fill="#e0f1f6" d="
M1494 718l12 0l4 8l-11 9z
M1490 733l12 -1l4 -14l-12 0z
"/>
<path fill="#ddf0f5" d="
M1486 730l12 7l4 -5l-12 1z
M1482 741l12 -9l4 5l-12 -7z
M1478 730l12 5l4 -3l-12 9z
M1474 743l12 0l4 -8l-12 -5z
"/>
<path fill="#daeef4" d="
M1470 747l11 -3l5 -1l-12 0z
"/>
<path fill="#ddf0f5" d="
M1466 734l11 12l4 -2l-11 3z
"/>
<path fill="#e0f1f6" d="
M1462 737l11 10l4 -1l-11 -12z
"/>
<path fill="#ddf0f5" d="
M1458 757l11 -3l4 -7l-11 -10z
"/>
<path fill="#daeef4" d="
M1454 758l11 -10l4 6l-11 3z
M1450 768l11 -9l4 -11l-11 10z
M1446 758l11 4l4 -3l-11 9z
M1442 766l11 1l4 -5l-11 -4z
M1438 757l11 14l4 -4l-11 -1z
M1434 765l11 5l4 1l-11 -14z
"/>
<path fill="#d6ecf4" d="
M1429 793l12 -19l4 -4l-11 -5z
"/>
<path fill="#c5e2ef" d="
M1425 791l12 0l4 -17l-12 19z
M1421 787l12 -3l4 7l-12 0z
"/>
<path fill="#bcddec" d="
M1417 796l12 22l4 -34l-12 3z
"/>
<path fill="#a5cee6" d="
M1413 805l12 33l4 -20l-12 -22z
M1409 817l11 -9l5 30l-12 -33z
"/>
<path fill="#9ec9e3" d="
M1405 830l11 6l4 -28l-11 9z
"/>
<path fill="#96c4e1" d="
M1401 834l11 -10l4 12l-11 -6z
M1397 828l11 13l4 -17l-11 10z
"/>
<path fill="#89badc" d="
M1393 857l11 -7l4 -9l-11 -13z
"/>
<path fill="#82b6d9" d="
M1389 849l11 6l4 -5l-11 7z
"/>
<path fill="#8fbfdf" d="
M1385 835l11 15l4 5l-11 -6z
M1381 855l11 -8l4 3l-11 -15z
"/>
<path fill="#82b6d9" d="
M1377 863l11 4l4 -20l-11 8z
"/>
<path fill="#7cb1d5" d="
M1373 874l11 -12l4 5l-11 -4z
"/>
<path fill="#75add2" d="
M1368 883l12 3l4 -24l-11 12z
M1364 865l12 4l4 17l-12 -3z
M1360 873l12 30l4 -34l-12 -4z
"/>
<path fill="#6fa8cf" d="
M1356 884l12 3l4 16l-12 -30z
"/>
<path fill="#7cb1d5" d="
M1352 863l12 27l4 -3l-12 -3z
"/>
<path fill="#82b6d9" d="
M1348 888l11 -24l5 26l-12 -27z
"/>
<path fill="#75add2" d="
M1344 888l11 19l4 -43l-11 24z
M1340 896l11 -26l4 37l-11 -19z
"/>
<path fill="#7cb1d5" d="
M1336 889l11 -5l4 -14l-11 26z
"/>
<path fill="#bcddec" d="
M1628 687l11 2l4 6l-11 4z
"/>
<path fill="#c5e2ef" d="
M1624 705l11 -16l4 0l-11 -2z
"/>
<path fill="#cee7f2" d="
M1620 678l11 -3l4 14l-11 16z
"/>
<path fill="#ddf0f5" d="
M1616 674l11 0l4 1l-11 3z
M1612 680l11 -10l4 4l-11 0z
M1607 682l12 -7l4 -5l-11 10z
M1603 673l12 10l4 -8l-12 7z
"/>
<path fill="#e0f1f6" d="
M1599 676l12 -4l4 11l-12 -10z
M1595 681l12 2l4 -11l-12 4z
"/>
<path fill="#ddf0f5" d="
M1591 697l12 -7l4 -7l-12 -2z
"/>
<path fill="#daeef4" d="
M1587 701l11 -18l5 7l-12 7z
"/>
<path fill="#ddf0f5" d="
M1583 688l11 0l4 -5l-11 18z
M1579 696l11 0l4 -8l-11 0z
M1575 698l11 -15l4 13l-11 0z
M1571 699l11 3l4 -19l-11 15z
M1567 705l11 -9l4 6l-11 -3z
"/>
<path fill="#e0f1f6" d="
M1563 692l11 -1l4 5l-11 9z
"/>
<path fill="#e4f3f6" d="
M1559 691l11 -5l4 5l-11 1z
M1555 694l11 3l4 -11l-11 5z
M1551 704l11 -11l4 4l-11 -3z
M1546 700l12 -6l4 -1l-11 11z
M1542 698l12 11l4 -15l-12 6z
"/>
<path fill="#e0f1f6" d="
M1538 716l12 4l4 -11l-12 -11z
"/>
<path fill="#ddf0f5" d="
M1534 725l12 -14l4 9l-12 -4z
M1530 716l12 -5l4 0l-12 14z
M1526 729l11 2l5 -20l-12 5z
"/>
<path fill="#d6ecf4" d="
M1522 733l11 -4l4 2l-11 -2z
"/>
<path fill="#daeef4" d="
M1518 727l11 -6l4 8l-11 4z
M1514 734l11 4l4 -17l-11 6z
"/>
<path fill="#ddf0f5" d="
M1510 726l11 -9l4 21l-11 -4z
"/>
<path fill="#e4f3f6" d="
M1506 718l11 -2l4 1l-11 9z
M1502 732l11 -7l4 -9l-11 2z
"/>
<path fill="#ddf0f5" d="
M1498 737l11 -3l4 -9l-11 7z
"/>
<path fill="#e0f1f6" d="
M1494 732l11 -8l4 10l-11 3z
M1490 735l11 -2l4 -9l-11 8z
M1486 743l11 -12l4 2l-11 2z
M1481 744l12 0l4 -13l-11 12z
"/>
<path fill="#ddf0f5" d="
M1477 746l12 -8l4 6l-12 0z
"/>
<path fill="#e0f1f6" d="
M1473 747l12 -9l4 0l-12 8z
M1469 754l12 -11l4 -5l-12 9z
"/>
<path fill="#ddf0f5" d="
M1465 748l12 6l4 -11l-12 11z
M1461 759l11 2l5 -7l-12 -6z
"/>
<path fill="#daeef4" d="
M1457 762l11 1l4 -2l-11 -2z
M1453 767l11 -1l4 -3l-11 -1z
M1449 771l11 -5l4 0l-11 1z
M1445 770l11 -5l4 1l-11 5z
"/>
<path fill="#d6ecf4" d="
M1441 774l11 12l4 -21l-11 5z
"/>
<path fill="#c5e2ef" d="
M1437 791l11 7l4 -12l-11 -12z
M1433 784l11 7l4 7l-11 -7z
"/>
<path fill="#b4d8ea" d="
M1429 818l11 1l4 -28l-11 -7z
"/>
<path fill="#96c4e1" d="
M1425 838l11 -11l4 -8l-11 -1z
"/>
<path fill="#9ec9e3" d="
M1420 808l12 3l4 16l-11 11z
"/>
<path fill="#a5cee6" d="
M1416 836l12 -6l4 -19l-12 -3z
"/>
<path fill="#96c4e1" d="
M1412 824l12 15l4 -9l-12 6z
"/>
<path fill="#9ec9e3" d="
M1408 841l12 -14l4 12l-12 -15z
"/>
<path fill="#96c4e1" d="
M1404 850l12 -11l4 -12l-12 14z
"/>
<path fill="#8fbfdf" d="
M1400 855l11 -28l5 12l-12 11z
M1396 850l11 -4l4 -19l-11 28z
M1392 847l11 6l4 -7l-11 4z
"/>
<path fill="#89badc" d="
M1388 867l11 -8l4 -6l-11 -6z
"/>
<path fill="#82b6d9" d="
M1384 862l11 16l4 -19l-11 8z
"/>
<path fill="#75add2" d="
M1380 886l11 -6l4 -2l-11 -16z
M1376 869l11 14l4 -3l-11 6z
"/>
<path fill="#7cb1d5" d="
M1372 903l11 -45l4 25l-11 -14z
"/>
<path fill="#75add2" d="
M1368 887l11 -11l4 -18l-11 45z
M1364 890l11 6l4 -20l-11 11z
"/>
<path fill="#7cb1d5" d="
M1359 864l12 10l4 22l-11 -6z
"/>
<path fill="#75add2" d="
M1355 907l12 10l4 -43l-12 -10z
"/>
<path fill="#69a0cb" d="
M1351 870l12 53l4 -6l-12 -10z
"/>
<path fill="#75add2" d="
M1347 884l12 12l4 27l-12 -53z
"/>
<path fill="#bcddec" d="
M1639 689l11 9l5 2l-12 -5z
"/>
<path fill="#c5e2ef" d="
M1635 689l11 -1l4 10l-11 -9z
"/>
<path fill="#daeef4" d="
M1631 675l11 -1l4 14l-11 1z
"/>
<path fill="#ddf0f5" d="
M1627 674l11 5l4 -5l-11 1z
"/>
<path fill="#e0f1f6" d="
M1623 670l11 4l4 5l-11 -5z
M1619 675l11 2l4 -3l-11 -4z
"/>
<path fill="#ddf0f5" d="
M1615 683l11 3l4 -9l-11 -2z
M1611 672l11 14l4 0l-11 -3z
"/>
<path fill="#e0f1f6" d="
M1607 683l11 3l4 0l-11 -14z
M1603 690l11 -14l4 10l-11 -3z
M1598 683l12 -2l4 -5l-11 14z
M1594 688l12 8l4 -15l-12 2z
"/>
<path fill="#ddf0f5" d="
M1590 696l12 1l4 -1l-12 -8z
"/>
<path fill="#e0f1f6" d="
M1586 683l12 12l4 2l-12 -1z
M1582 702l12 -7l4 0l-12 -12z
M1578 696l11 2l5 -3l-12 7z
"/>
<path fill="#e4f3f6" d="
M1574 691l11 2l4 5l-11 -2z
"/>
<path fill="#e9f2ee" d="
M1570 686l11 2l4 5l-11 -2z
M1566 697l11 -4l4 -5l-11 -2z
"/>
<path fill="#e4f3f6" d="
M1562 693l11 12l4 -12l-11 4z
M1558 694l11 8l4 3l-11 -12z
M1554 709l11 -5l4 -2l-11 -8z
"/>
<path fill="#ddf0f5" d="
M1550 720l11 4l4 -20l-11 5z
M1546 711l11 7l4 6l-11 -4z
"/>
<path fill="#e0f1f6" d="
M1542 711l11 -1l4 8l-11 -7z
"/>
<path fill="#ddf0f5" d="
M1537 731l12 5l4 -26l-11 1z
"/>
<path fill="#d6ecf4" d="
M1533 729l12 6l4 1l-12 -5z
"/>
<path fill="#ddf0f5" d="
M1529 721l12 -3l4 17l-12 -6z
M1525 738l12 -8l4 -12l-12 3z
"/>
<path fill="#e0f1f6" d="
M1521 717l12 3l4 10l-12 8z
"/>
<path fill="#e4f3f6" d="
M1517 716l11 9l5 -5l-12 -3z
M1513 725l11 5l4 -5l-11 -9z
"/>
<path fill="#e0f1f6" d="
M1509 734l11 -2l4 -2l-11 -5z
M1505 724l11 12l4 -4l-11 2z
"/>
<path fill="#e4f3f6" d="
M1501 733l11 -5l4 8l-11 -12z
M1497 731l11 5l4 -8l-11 5z
"/>
<path fill="#e0f1f6" d="
M1493 744l11 2l4 -10l-11 -5z
M1489 738l11 2l4 6l-11 -2z
"/>
<path fill="#e4f3f6" d="
M1485 738l11 5l4 -3l-11 -2z
"/>
<path fill="#e0f1f6" d="
M1481 743l11 9l4 -9l-11 -5z
M1477 754l11 -1l4 -1l-11 -9z
"/>
<path fill="#ddf0f5" d="
M1472 761l12 -3l4 -5l-11 1z
"/>
<path fill="#daeef4" d="
M1468 763l12 2l4 -7l-12 3z
"/>
<path fill="#ddf0f5" d="
M1464 766l12 -14l4 13l-12 -2z
M1460 766l12 -7l4 -7l-12 14z
M1456 765l12 10l4 -16l-12 7z
"/>
<path fill="#d6ecf4" d="
M1452 786l11 -1l5 -10l-12 -10z
"/>
<path fill="#c5e2ef" d="
M1448 798l11 -6l4 -7l-11 1z
"/>
<path fill="#bcddec" d="
M1444 791l11 9l4 -8l-11 6z
"/>
<path fill="#b4d8ea" d="
M1440 819l11 2l4 -21l-11 -9z
"/>
<path fill="#9ec9e3" d="
M1436 827l11 -2l4 -4l-11 -2z
"/>
<path fill="#a5cee6" d="
M1432 811l11 3l4 11l-11 2z
"/>
<path fill="#9ec9e3" d="
M1428 830l11 18l4 -34l-11 -3z
"/>
<path fill="#96c4e1" d="
M1424 839l11 -6l4 15l-11 -18z
"/>
<path fill="#9ec9e3" d="
M1420 827l11 4l4 2l-11 6z
M1416 839l11 -1l4 -7l-11 -4z
M1411 827l12 11l4 0l-11 1z
"/>
<path fill="#96c4e1" d="
M1407 846l12 17l4 -25l-12 -11z
"/>
<path fill="#8fbfdf" d="
M1403 853l12 -7l4 17l-12 -17z
"/>
<path fill="#89badc" d="
M1399 859l12 27l4 -40l-12 7z
"/>
<path fill="#7cb1d5" d="
M1395 878l12 -12l4 20l-12 -27z
"/>
<path fill="#6fa8cf" d="
M1391 880l11 25l5 -39l-12 12z
M1387 883l11 7l4 15l-11 -25z
"/>
<path fill="#75add2" d="
M1383 858l11 45l4 -13l-11 -7z
"/>
<path fill="#7cb1d5" d="
M1379 876l11 15l4 12l-11 -45z
"/>
<path fill="#75add2" d="
M1375 896l11 -4l4 -1l-11 -15z
M1371 874l11 15l4 3l-11 4z
"/>
<path fill="#69a0cb" d="
M1367 917l11 8l4 -36l-11 -15z
"/>
<path fill="#5c90c3" d="
M1363 923l11 -20l4 22l-11 -8z
"/>
<path fill="#69a0cb" d="
M1359 896l11 11l4 -4l-11 20z
"/>
<path fill="#b4d8ea" d="
M1650 698l12 5l4 8l-11 -11z
"/>
<path fill="#c5e2ef" d="
M1646 688l12 14l4 1l-12 -5z
"/>
<path fill="#d6ecf4" d="
M1642 674l12 10l4 18l-12 -14z
"/>
<path fill="#ddf0f5" d="
M1638 679l12 4l4 1l-12 -10z
M1634 674l12 11l4 -2l-12 -4z
M1630 677l11 9l5 -1l-12 -11z
M1626 686l11 -1l4 1l-11 -9z
M1622 686l11 6l4 -7l-11 1z
M1618 686l11 9l4 -3l-11 -6z
"/>
<path fill="#e0f1f6" d="
M1614 676l11 9l4 10l-11 -9z
"/>
<path fill="#e4f3f6" d="
M1610 681l11 7l4 -3l-11 -9z
"/>
<path fill="#e0f1f6" d="
M1606 696l11 -7l4 -1l-11 -7z
M1602 697l11 -6l4 -2l-11 7z
"/>
<path fill="#ddf0f5" d="
M1598 695l11 7l4 -11l-11 6z
M1594 695l11 5l4 2l-11 -7z
"/>
<path fill="#e0f1f6" d="
M1589 698l12 6l4 -4l-11 -5z
M1585 693l12 5l4 6l-12 -6z
"/>
<path fill="#e9f2ee" d="
M1581 688l12 7l4 3l-12 -5z
M1577 693l12 2l4 0l-12 -7z
"/>
<path fill="#e4f3f6" d="
M1573 705l12 -5l4 -5l-12 -2z
M1569 702l11 -2l5 0l-12 5z
M1565 704l11 2l4 -6l-11 2z
"/>
<path fill="#e0f1f6" d="
M1561 724l11 -17l4 -1l-11 -2z
"/>
<path fill="#ddf0f5" d="
M1557 718l11 10l4 -21l-11 17z
"/>
<path fill="#e0f1f6" d="
M1553 710l11 1l4 17l-11 -10z
M1549 736l11 -11l4 -14l-11 -1z
"/>
<path fill="#daeef4" d="
M1545 735l11 -6l4 -4l-11 11z
"/>
<path fill="#ddf0f5" d="
M1541 718l11 18l4 -7l-11 6z
"/>
<path fill="#e0f1f6" d="
M1537 730l11 -5l4 11l-11 -18z
M1533 720l11 14l4 -9l-11 5z
"/>
<path fill="#e4f3f6" d="
M1528 725l12 0l4 9l-11 -14z
"/>
<path fill="#e0f1f6" d="
M1524 730l12 7l4 -12l-12 0z
M1520 732l12 0l4 5l-12 -7z
M1516 736l12 4l4 -8l-12 0z
M1512 728l12 15l4 -3l-12 -4z
"/>
<path fill="#e4f3f6" d="
M1508 736l12 -3l4 10l-12 -15z
"/>
<path fill="#e0f1f6" d="
M1504 746l11 -3l5 -10l-12 3z
"/>
<path fill="#e4f3f6" d="
M1500 740l11 -8l4 11l-11 3z
M1496 743l11 1l4 -12l-11 8z
"/>
<path fill="#e0f1f6" d="
M1492 752l11 2l4 -10l-11 -1z
"/>
<path fill="#ddf0f5" d="
M1488 753l11 -2l4 3l-11 -2z
M1484 758l11 4l4 -11l-11 2z
M1480 765l11 -4l4 1l-11 -4z
M1476 752l11 11l4 -2l-11 4z
M1472 759l11 12l4 -8l-11 -11z
"/>
<path fill="#daeef4" d="
M1468 775l11 -3l4 -1l-11 -12z
"/>
<path fill="#d6ecf4" d="
M1463 785l12 7l4 -20l-11 3z
"/>
<path fill="#cee7f2" d="
M1459 792l12 -9l4 9l-12 -7z
M1455 800l12 -19l4 2l-12 9z
"/>
<path fill="#c5e2ef" d="
M1451 821l12 -30l4 -10l-12 19z
"/>
<path fill="#add3e8" d="
M1447 825l12 -5l4 -29l-12 30z
"/>
<path fill="#a5cee6" d="
M1443 814l11 15l5 -9l-12 5z
M1439 848l11 -31l4 12l-11 -15z
M1435 833l11 -30l4 14l-11 31z
M1431 831l11 6l4 -34l-11 30z
"/>
<path fill="#9ec9e3" d="
M1427 838l11 1l4 -2l-11 -6z
"/>
<path fill="#a5cee6" d="
M1423 838l11 -14l4 15l-11 -1z
"/>
<path fill="#8fbfdf" d="
M1419 863l11 9l4 -48l-11 14z
"/>
<path fill="#89badc" d="
M1415 846l11 12l4 14l-11 -9z
M1411 886l11 -26l4 -2l-11 -12z
"/>
<path fill="#75add2" d="
M1407 866l11 46l4 -52l-11 26z
"/>
<path fill="#6fa8cf" d="
M1402 905l12 -32l4 39l-11 -46z
M1398 890l12 -13l4 -4l-12 32z
M1394 903l12 -11l4 -15l-12 13z
"/>
<path fill="#75add2" d="
M1390 891l12 -25l4 26l-12 11z
"/>
<path fill="#7cb1d5" d="
M1386 892l12 -9l4 -17l-12 25z
M1382 889l11 1l5 -7l-12 9z
"/>
<path fill="#69a0cb" d="
M1378 925l11 -11l4 -24l-11 -1z
"/>
<path fill="#6298c7" d="
M1374 903l11 -2l4 13l-11 11z
"/>
<path fill="#75add2" d="
M1370 907l11 -21l4 15l-11 2z
"/>
<path fill="#bcddec" d="
M1662 703l11 -7l4 2l-11 13z
M1658 702l11 1l4 -7l-11 7z
"/>
<path fill="#cee7f2" d="
M1654 684l11 2l4 17l-11 -1z
"/>
<path fill="#daeef4" d="
M1650 683l11 -7l4 10l-11 -2z
"/>
<path fill="#ddf0f5" d="
M1646 685l11 0l4 -9l-11 7z
M1641 686l12 -7l4 6l-11 0z
M1637 685l12 3l4 -9l-12 7z
M1633 692l12 -6l4 2l-12 -3z
M1629 695l12 -5l4 -4l-12 6z
M1625 685l12 9l4 -4l-12 5z
"/>
<path fill="#e0f1f6" d="
M1621 688l11 -6l5 12l-12 -9z
"/>
<path fill="#e4f3f6" d="
M1617 689l11 -3l4 -4l-11 6z
"/>
<path fill="#e0f1f6" d="
M1613 691l11 3l4 -8l-11 3z
"/>
<path fill="#ddf0f5" d="
M1609 702l11 11l4 -19l-11 -3z
M1605 700l11 1l4 12l-11 -11z
M1601 704l11 2l4 -5l-11 -1z
"/>
<path fill="#e0f1f6" d="
M1597 698l11 -4l4 12l-11 -2z
"/>
<path fill="#e4f3f6" d="
M1593 695l11 1l4 -2l-11 4z
"/>
<path fill="#e9f2ee" d="
M1589 695l11 2l4 -1l-11 -1z
M1585 700l11 2l4 -5l-11 -2z
"/>
<path fill="#e4f3f6" d="
M1580 700l12 8l4 -6l-11 -2z
M1576 706l12 0l4 2l-12 -8z
M1572 707l12 4l4 -5l-12 0z
"/>
<path fill="#ddf0f5" d="
M1568 728l12 2l4 -19l-12 -4z
M1564 711l12 6l4 13l-12 -2z
"/>
<path fill="#e0f1f6" d="
M1560 725l11 3l5 -11l-12 -6z
"/>
<path fill="#ddf0f5" d="
M1556 729l11 -3l4 2l-11 -3z
"/>
<path fill="#daeef4" d="
M1552 736l11 4l4 -14l-11 3z
"/>
<path fill="#ddf0f5" d="
M1548 725l11 6l4 9l-11 -4z
"/>
<path fill="#e0f1f6" d="
M1544 734l11 2l4 -5l-11 -6z
M1540 725l11 1l4 10l-11 -2z
M1536 737l11 -3l4 -8l-11 -1z
M1532 732l11 10l4 -8l-11 3z
M1528 740l11 -9l4 11l-11 -10z
M1524 743l11 -9l4 -3l-11 9z
M1520 733l11 14l4 -13l-11 9z
M1515 743l12 6l4 -2l-11 -14z
M1511 732l12 22l4 -5l-12 -6z
M1507 744l12 7l4 3l-12 -22z
M1503 754l12 4l4 -7l-12 -7z
M1499 751l12 0l4 7l-12 -4z
"/>
<path fill="#ddf0f5" d="
M1495 762l11 15l5 -26l-12 0z
"/>
<path fill="#daeef4" d="
M1491 761l11 5l4 11l-11 -15z
"/>
<path fill="#ddf0f5" d="
M1487 763l11 2l4 1l-11 -5z
"/>
<path fill="#daeef4" d="
M1483 771l11 4l4 -10l-11 -2z
M1479 772l11 4l4 -1l-11 -4z
"/>
<path fill="#cee7f2" d="
M1475 792l11 3l4 -19l-11 -4z
M1471 783l11 9l4 3l-11 -3z
M1467 781l11 15l4 -4l-11 -9z
M1463 791l11 10l4 -5l-11 -15z
"/>
<path fill="#bcddec" d="
M1459 820l11 -1l4 -18l-11 -10z
"/>
<path fill="#add3e8" d="
M1454 829l12 -16l4 6l-11 1z
"/>
<path fill="#b4d8ea" d="
M1450 817l12 -10l4 6l-12 16z
"/>
<path fill="#bcddec" d="
M1446 803l12 23l4 -19l-12 10z
"/>
<path fill="#a5cee6" d="
M1442 837l12 16l4 -27l-12 -23z
"/>
<path fill="#9ec9e3" d="
M1438 839l12 -22l4 36l-12 -16z
"/>
<path fill="#add3e8" d="
M1434 824l11 17l5 -24l-12 22z
"/>
<path fill="#8fbfdf" d="
M1430 872l11 6l4 -37l-11 -17z
"/>
<path fill="#89badc" d="
M1426 858l11 -26l4 46l-11 -6z
"/>
<path fill="#96c4e1" d="
M1422 860l11 2l4 -30l-11 26z
"/>
<path fill="#75add2" d="
M1418 912l11 -20l4 -30l-11 -2z
M1414 873l11 -7l4 26l-11 20z
"/>
<path fill="#89badc" d="
M1410 877l11 -9l4 -2l-11 7z
"/>
<path fill="#82b6d9" d="
M1406 892l11 -33l4 9l-11 9z
"/>
<path fill="#89badc" d="
M1402 866l11 5l4 -12l-11 33z
"/>
<path fill="#82b6d9" d="
M1398 883l11 12l4 -24l-11 -5z
"/>
<path fill="#75add2" d="
M1393 890l12 16l4 -11l-11 -12z
M1389 914l12 -33l4 25l-12 -16z
M1385 901l12 1l4 -21l-12 33z
"/>
<path fill="#7cb1d5" d="
M1381 886l12 0l4 16l-12 -1z
"/>
<path fill="#bcddec" d="
M1673 696l11 11l5 -5l-12 -4z
"/>
<path fill="#c5e2ef" d="
M1669 703l11 -5l4 9l-11 -11z
"/>
<path fill="#cee7f2" d="
M1665 686l11 4l4 8l-11 5z
"/>
<path fill="#daeef4" d="
M1661 676l11 12l4 2l-11 -4z
"/>
<path fill="#ddf0f5" d="
M1657 685l11 -1l4 4l-11 -12z
M1653 679l11 5l4 0l-11 1z
"/>
<path fill="#e0f1f6" d="
M1649 688l11 -7l4 3l-11 -5z
"/>
<path fill="#ddf0f5" d="
M1645 686l11 12l4 -17l-11 7z
M1641 690l11 3l4 5l-11 -12z
M1637 694l11 0l4 -1l-11 -3z
"/>
<path fill="#e0f1f6" d="
M1632 682l12 10l4 2l-11 0z
M1628 686l12 16l4 -10l-12 -10z
M1624 694l12 6l4 2l-12 -16z
"/>
<path fill="#ddf0f5" d="
M1620 713l12 -10l4 -3l-12 -6z
"/>
<path fill="#daeef4" d="
M1616 701l12 11l4 -9l-12 10z
"/>
<path fill="#e0f1f6" d="
M1612 706l11 -12l5 18l-12 -11z
"/>
<path fill="#e4f3f6" d="
M1608 694l11 12l4 -12l-11 12z
M1604 696l11 9l4 1l-11 -12z
"/>
<path fill="#e9f2ee" d="
M1600 697l11 1l4 7l-11 -9z
"/>
<path fill="#e4f3f6" d="
M1596 702l11 15l4 -19l-11 -1z
"/>
<path fill="#e0f1f6" d="
M1592 708l11 2l4 7l-11 -15z
"/>
<path fill="#e4f3f6" d="
M1588 706l11 8l4 -4l-11 -2z
M1584 711l11 10l4 -7l-11 -8z
"/>
<path fill="#ddf0f5" d="
M1580 730l11 -6l4 -3l-11 -10z
"/>
<path fill="#e0f1f6" d="
M1576 717l11 2l4 5l-11 6z
M1571 728l12 7l4 -16l-11 -2z
"/>
<path fill="#ddf0f5" d="
M1567 726l12 4l4 5l-12 -7z
M1563 740l12 -3l4 -7l-12 -4z
"/>
<path fill="#daeef4" d="
M1559 731l12 9l4 -3l-12 3z
"/>
<path fill="#ddf0f5" d="
M1555 736l12 9l4 -5l-12 -9z
"/>
<path fill="#e0f1f6" d="
M1551 726l12 -5l4 24l-12 -9z
"/>
<path fill="#e4f3f6" d="
M1547 734l11 1l5 -14l-12 5z
"/>
<path fill="#e0f1f6" d="
M1543 742l11 -4l4 -3l-11 -1z
M1539 731l11 18l4 -11l-11 4z
"/>
<path fill="#e4f3f6" d="
M1535 734l11 2l4 13l-11 -18z
"/>
<path fill="#e0f1f6" d="
M1531 747l11 0l4 -11l-11 -2z
M1527 749l11 -6l4 4l-11 0z
M1523 754l11 0l4 -11l-11 6z
"/>
<path fill="#ddf0f5" d="
M1519 751l11 1l4 2l-11 0z
"/>
<path fill="#e0f1f6" d="
M1515 758l11 -10l4 4l-11 -1z
M1511 751l11 13l4 -16l-11 10z
"/>
<path fill="#ddf0f5" d="
M1506 777l12 -20l4 7l-11 -13z
"/>
<path fill="#daeef4" d="
M1502 766l12 0l4 -9l-12 20z
"/>
<path fill="#ddf0f5" d="
M1498 765l12 2l4 -1l-12 0z
M1494 775l12 -4l4 -4l-12 -2z
"/>
<path fill="#daeef4" d="
M1490 776l12 3l4 -8l-12 4z
"/>
<path fill="#d6ecf4" d="
M1486 795l11 -17l5 1l-12 -3z
"/>
<path fill="#cee7f2" d="
M1482 792l11 -3l4 -11l-11 17z
M1478 796l11 -9l4 2l-11 3z
M1474 801l11 -15l4 1l-11 9z
"/>
<path fill="#b4d8ea" d="
M1470 819l11 21l4 -54l-11 15z
"/>
<path fill="#add3e8" d="
M1466 813l11 3l4 24l-11 -21z
"/>
<path fill="#b4d8ea" d="
M1462 807l11 27l4 -18l-11 -3z
"/>
<path fill="#add3e8" d="
M1458 826l11 12l4 -4l-11 -27z
"/>
<path fill="#9ec9e3" d="
M1454 853l11 -13l4 -2l-11 -12z
M1450 817l11 29l4 -6l-11 13z
M1445 841l12 13l4 -8l-11 -29z
"/>
<path fill="#8fbfdf" d="
M1441 878l12 -30l4 6l-12 -13z
"/>
<path fill="#96c4e1" d="
M1437 832l12 8l4 8l-12 30z
M1433 862l12 20l4 -42l-12 -8z
"/>
<path fill="#82b6d9" d="
M1429 892l12 -28l4 18l-12 -20z
M1425 866l11 15l5 -17l-12 28z
M1421 868l11 31l4 -18l-11 -15z
M1417 859l11 18l4 22l-11 -31z
"/>
<path fill="#89badc" d="
M1413 871l11 22l4 -16l-11 -18z
"/>
<path fill="#7cb1d5" d="
M1409 895l11 -11l4 9l-11 -22z
"/>
<path fill="#6fa8cf" d="
M1405 906l11 4l4 -26l-11 11z
M1401 881l11 34l4 -5l-11 -4z
M1397 902l11 11l4 2l-11 -34z
"/>
<path fill="#75add2" d="
M1393 886l11 11l4 16l-11 -11z
"/>
<path fill="#b4d8ea" d="
M1684 707l12 -3l4 19l-11 -21z
"/>
<path fill="#c5e2ef" d="
M1680 698l12 7l4 -1l-12 3z
"/>
<path fill="#d6ecf4" d="
M1676 690l12 -3l4 18l-12 -7z
"/>
<path fill="#daeef4" d="
M1672 688l12 -6l4 5l-12 3z
"/>
<path fill="#ddf0f5" d="
M1668 684l12 9l4 -11l-12 6z
M1664 684l11 8l5 1l-12 -9z
"/>
<path fill="#e0f1f6" d="
M1660 681l11 2l4 9l-11 -8z
M1656 698l11 -7l4 -8l-11 -2z
"/>
<path fill="#ddf0f5" d="
M1652 693l11 -3l4 1l-11 7z
M1648 694l11 3l4 -7l-11 3z
"/>
<path fill="#e0f1f6" d="
M1644 692l11 -3l4 8l-11 -3z
M1640 702l11 -10l4 -3l-11 3z
M1636 700l11 -4l4 -4l-11 10z
M1632 703l11 3l4 -10l-11 4z
"/>
<path fill="#ddf0f5" d="
M1628 712l11 -4l4 -2l-11 -3z
"/>
<path fill="#e0f1f6" d="
M1623 694l12 9l4 5l-11 4z
M1619 706l12 4l4 -7l-12 -9z
"/>
<path fill="#e4f3f6" d="
M1615 705l12 -19l4 24l-12 -4z
"/>
<path fill="#e9f2ee" d="
M1611 698l12 4l4 -16l-12 19z
"/>
<path fill="#e4f3f6" d="
M1607 717l12 -15l4 0l-12 -4z
M1603 710l11 -5l5 -3l-12 15z
"/>
<path fill="#e0f1f6" d="
M1599 714l11 13l4 -22l-11 5z
M1595 721l11 -1l4 7l-11 -13z
"/>
<path fill="#ddf0f5" d="
M1591 724l11 4l4 -8l-11 1z
"/>
<path fill="#e0f1f6" d="
M1587 719l11 9l4 0l-11 -4z
"/>
<path fill="#ddf0f5" d="
M1583 735l11 -6l4 -1l-11 -9z
M1579 730l11 3l4 -4l-11 6z
M1575 737l11 -10l4 6l-11 -3z
M1571 740l11 -7l4 -6l-11 10z
M1567 745l11 -14l4 2l-11 7z
"/>
<path fill="#e4f3f6" d="
M1563 721l11 6l4 4l-11 14z
"/>
<path fill="#e9f2ee" d="
M1558 735l12 -5l4 -3l-11 -6z
"/>
<path fill="#e0f1f6" d="
M1554 738l12 6l4 -14l-12 5z
M1550 749l12 -9l4 4l-12 -6z
M1546 736l12 3l4 1l-12 9z
"/>
<path fill="#e4f3f6" d="
M1542 747l12 -4l4 -4l-12 -3z
"/>
<path fill="#e0f1f6" d="
M1538 743l11 8l5 -8l-12 4z
M1534 754l11 -6l4 3l-11 -8z
M1530 752l11 -11l4 7l-11 6z
"/>
<path fill="#e4f3f6" d="
M1526 748l11 14l4 -21l-11 11z
"/>
<path fill="#e0f1f6" d="
M1522 764l11 -5l4 3l-11 -14z
"/>
<path fill="#ddf0f5" d="
M1518 757l11 15l4 -13l-11 5z
M1514 766l11 1l4 5l-11 -15z
M1510 767l11 -5l4 5l-11 -1z
"/>
<path fill="#e0f1f6" d="
M1506 771l11 -7l4 -2l-11 5z
"/>
<path fill="#daeef4" d="
M1502 779l11 9l4 -24l-11 7z
"/>
<path fill="#d6ecf4" d="
M1497 778l12 26l4 -16l-11 -9z
"/>
<path fill="#cee7f2" d="
M1493 789l12 14l4 1l-12 -26z
M1489 787l12 10l4 6l-12 -14z
"/>
<path fill="#d6ecf4" d="
M1485 786l12 16l4 -5l-12 -10z
"/>
<path fill="#bcddec" d="
M1481 840l12 -37l4 -1l-12 -16z
"/>
<path fill="#b4d8ea" d="
M1477 816l11 -11l5 -2l-12 37z
M1473 834l11 -8l4 -21l-11 11z
"/>
<path fill="#a5cee6" d="
M1469 838l11 -5l4 -7l-11 8z
"/>
<path fill="#9ec9e3" d="
M1465 840l11 1l4 -8l-11 5z
"/>
<path fill="#a5cee6" d="
M1461 846l11 -23l4 18l-11 -1z
"/>
<path fill="#9ec9e3" d="
M1457 854l11 -8l4 -23l-11 23z
"/>
<path fill="#96c4e1" d="
M1453 848l11 9l4 -11l-11 8z
"/>
<path fill="#9ec9e3" d="
M1449 840l11 14l4 3l-11 -9z
"/>
<path fill="#89badc" d="
M1445 882l11 -2l4 -26l-11 -14z
"/>
<path fill="#7cb1d5" d="
M1441 864l11 32l4 -16l-11 2z
M1436 881l12 1l4 14l-11 -32z
"/>
<path fill="#82b6d9" d="
M1432 899l12 -37l4 20l-12 -1z
"/>
<path fill="#89badc" d="
M1428 877l12 -7l4 -8l-12 37z
M1424 893l12 -17l4 -6l-12 7z
M1420 884l12 -13l4 5l-12 17z
M1416 910l11 -57l5 18l-12 13z
"/>
<path fill="#7cb1d5" d="
M1412 915l11 -21l4 -41l-11 57z
"/>
<path fill="#6fa8cf" d="
M1408 913l11 -10l4 -9l-11 21z
"/>
<path fill="#75add2" d="
M1404 897l11 4l4 2l-11 10z
"/>
<path fill="#b4d8ea" d="
M1696 704l11 3l4 2l-11 14z
"/>
<path fill="#bcddec" d="
M1692 705l11 5l4 -3l-11 -3z
"/>
<path fill="#d6ecf4" d="
M1688 687l11 -4l4 27l-11 -5z
"/>
<path fill="#ddf0f5" d="
M1684 682l11 5l4 -4l-11 4z
M1680 693l11 -5l4 -1l-11 -5z
M1675 692l12 -13l4 9l-11 5z
"/>
<path fill="#e0f1f6" d="
M1671 683l12 2l4 -6l-12 13z
M1667 691l12 1l4 -7l-12 -2z
"/>
<path fill="#ddf0f5" d="
M1663 690l12 9l4 -7l-12 -1z
"/>
<path fill="#e0f1f6" d="
M1659 697l12 -7l4 9l-12 -9z
"/>
<path fill="#e4f3f6" d="
M1655 689l11 1l5 0l-12 7z
M1651 692l11 12l4 -14l-11 -1z
"/>
<path fill="#e0f1f6" d="
M1647 696l11 7l4 1l-11 -12z
M1643 706l11 -4l4 1l-11 -7z
"/>
<path fill="#ddf0f5" d="
M1639 708l11 1l4 -7l-11 4z
"/>
<path fill="#e0f1f6" d="
M1635 703l11 -5l4 11l-11 -1z
"/>
<path fill="#e4f3f6" d="
M1631 710l11 -5l4 -7l-11 5z
"/>
<path fill="#e9f2ee" d="
M1627 686l11 12l4 7l-11 5z
"/>
<path fill="#eef2e5" d="
M1623 702l11 -3l4 -1l-11 -12z
"/>
<path fill="#e9f2ee" d="
M1619 702l11 4l4 -7l-11 3z
M1614 705l12 4l4 -3l-11 -4z
"/>
<path fill="#e4f3f6" d="
M1610 727l12 -14l4 -4l-12 -4z
"/>
<path fill="#e0f1f6" d="
M1606 720l12 -10l4 3l-12 14z
M1602 728l12 -1l4 -17l-12 10z
M1598 728l12 -14l4 13l-12 1z
M1594 729l12 -3l4 -12l-12 14z
M1590 733l11 -4l5 -3l-12 3z
M1586 727l11 9l4 -7l-11 4z
M1582 733l11 -3l4 6l-11 -9z
M1578 731l11 4l4 -5l-11 3z
"/>
<path fill="#e4f3f6" d="
M1574 727l11 -3l4 11l-11 -4z
"/>
<path fill="#e9f2ee" d="
M1570 730l11 9l4 -15l-11 3z
"/>
<path fill="#e4f3f6" d="
M1566 744l11 -6l4 1l-11 -9z
"/>
<path fill="#e0f1f6" d="
M1562 740l11 2l4 -4l-11 6z
"/>
<path fill="#e4f3f6" d="
M1558 739l11 4l4 -1l-11 -2z
M1554 743l11 -6l4 6l-11 -4z
M1549 751l12 -2l4 -12l-11 6z
"/>
<path fill="#e0f1f6" d="
M1545 748l12 1l4 0l-12 2z
"/>
<path fill="#e4f3f6" d="
M1541 741l12 10l4 -2l-12 -1z
M1537 762l12 -12l4 1l-12 -10z
"/>
<path fill="#e0f1f6" d="
M1533 759l12 -6l4 -3l-12 12z
"/>
<path fill="#ddf0f5" d="
M1529 772l11 10l5 -29l-12 6z
"/>
<path fill="#daeef4" d="
M1525 767l11 -2l4 17l-11 -10z
"/>
<path fill="#e0f1f6" d="
M1521 762l11 9l4 -6l-11 2z
"/>
<path fill="#ddf0f5" d="
M1517 764l11 18l4 -11l-11 -9z
"/>
<path fill="#daeef4" d="
M1513 788l11 -1l4 -5l-11 -18z
"/>
<path fill="#cee7f2" d="
M1509 804l11 -15l4 -2l-11 1z
"/>
<path fill="#bcddec" d="
M1505 803l11 11l4 -25l-11 15z
"/>
<path fill="#cee7f2" d="
M1501 797l11 -16l4 33l-11 -11z
M1497 802l11 11l4 -32l-11 16z
"/>
<path fill="#bcddec" d="
M1493 803l11 24l4 -14l-11 -11z
M1488 805l12 8l4 14l-11 -24z
M1484 826l12 -11l4 -2l-12 -8z
"/>
<path fill="#b4d8ea" d="
M1480 833l12 -9l4 -9l-12 11z
"/>
<path fill="#add3e8" d="
M1476 841l12 -14l4 -3l-12 9z
M1472 823l12 12l4 -8l-12 14z
M1468 846l11 -10l5 -1l-12 -12z
"/>
<path fill="#96c4e1" d="
M1464 857l11 13l4 -34l-11 10z
M1460 854l11 -19l4 35l-11 -13z
"/>
<path fill="#8fbfdf" d="
M1456 880l11 8l4 -53l-11 19z
"/>
<path fill="#7cb1d5" d="
M1452 896l11 -31l4 23l-11 -8z
"/>
<path fill="#82b6d9" d="
M1448 882l11 -17l4 0l-11 31z
"/>
<path fill="#89badc" d="
M1444 862l11 26l4 -23l-11 17z
M1440 870l11 12l4 6l-11 -26z
"/>
<path fill="#8fbfdf" d="
M1436 876l11 -17l4 23l-11 -12z
"/>
<path fill="#96c4e1" d="
M1432 871l11 -7l4 -5l-11 17z
"/>
<path fill="#9ec9e3" d="
M1427 853l12 24l4 -13l-11 7z
"/>
<path fill="#89badc" d="
M1423 894l12 17l4 -34l-12 -24z
"/>
<path fill="#75add2" d="
M1419 903l12 9l4 -1l-12 -17z
"/>
<path fill="#82b6d9" d="
M1415 901l12 -32l4 43l-12 -9z
"/>
<path fill="#c5e2ef" d="
M1707 707l11 -6l5 -6l-12 14z
M1703 710l11 -10l4 1l-11 6z
"/>
<path fill="#d6ecf4" d="
M1699 683l11 5l4 12l-11 10z
"/>
<path fill="#ddf0f5" d="
M1695 687l11 -3l4 4l-11 -5z
"/>
<path fill="#e0f1f6" d="
M1691 688l11 -4l4 0l-11 3z
"/>
<path fill="#e4f3f6" d="
M1687 679l11 -3l4 8l-11 4z
M1683 685l11 2l4 -11l-11 3z
"/>
<path fill="#e0f1f6" d="
M1679 692l11 1l4 -6l-11 -2z
M1675 699l11 -8l4 2l-11 -1z
"/>
<path fill="#e4f3f6" d="
M1671 690l11 -9l4 10l-11 8z
"/>
<path fill="#e9f2ee" d="
M1666 690l12 1l4 -10l-11 9z
"/>
<path fill="#e4f3f6" d="
M1662 704l12 -10l4 -3l-12 -1z
"/>
<path fill="#e0f1f6" d="
M1658 703l12 -10l4 1l-12 10z
"/>
<path fill="#e4f3f6" d="
M1654 702l12 -6l4 -3l-12 10z
"/>
<path fill="#e0f1f6" d="
M1650 709l12 1l4 -14l-12 6z
M1646 698l11 6l5 6l-12 -1z
"/>
<path fill="#e4f3f6" d="
M1642 705l11 -6l4 5l-11 -6z
"/>
<path fill="#e9f2ee" d="
M1638 698l11 7l4 -6l-11 6z
"/>
<path fill="#eef2e5" d="
M1634 699l11 -7l4 13l-11 -7z
M1630 706l11 -6l4 -8l-11 7z
"/>
<path fill="#e9f2ee" d="
M1626 709l11 8l4 -17l-11 6z
"/>
<path fill="#e4f3f6" d="
M1622 713l11 -2l4 6l-11 -8z
"/>
<path fill="#e9f2ee" d="
M1618 710l11 8l4 -7l-11 2z
"/>
<path fill="#e4f3f6" d="
M1614 727l11 -7l4 -2l-11 -8z
"/>
<path fill="#e9f2ee" d="
M1610 714l11 -6l4 12l-11 7z
M1606 726l11 2l4 -20l-11 6z
"/>
<path fill="#e4f3f6" d="
M1601 729l12 -3l4 2l-11 -2z
M1597 736l12 -13l4 3l-12 3z
M1593 730l12 5l4 -12l-12 13z
M1589 735l12 -12l4 12l-12 -5z
"/>
<path fill="#e9f2ee" d="
M1585 724l12 -2l4 1l-12 12z
"/>
<path fill="#eef2e5" d="
M1581 739l11 -15l5 -2l-12 2z
"/>
<path fill="#e4f3f6" d="
M1577 738l11 6l4 -20l-11 15z
M1573 742l11 -8l4 10l-11 -6z
M1569 743l11 3l4 -12l-11 8z
M1565 737l11 8l4 1l-11 -3z
M1561 749l11 -1l4 -3l-11 -8z
M1557 749l11 6l4 -7l-11 1z
M1553 751l11 -9l4 13l-11 -6z
"/>
<path fill="#e9f2ee" d="
M1549 750l11 1l4 -9l-11 9z
"/>
<path fill="#e4f3f6" d="
M1545 753l11 15l4 -17l-11 -1z
"/>
<path fill="#ddf0f5" d="
M1540 782l12 -21l4 7l-11 -15z
M1536 765l12 13l4 -17l-12 21z
"/>
<path fill="#e0f1f6" d="
M1532 771l12 -11l4 18l-12 -13z
"/>
<path fill="#ddf0f5" d="
M1528 782l12 -7l4 -15l-12 11z
"/>
<path fill="#daeef4" d="
M1524 787l12 -1l4 -11l-12 7z
"/>
<path fill="#d6ecf4" d="
M1520 789l11 15l5 -18l-12 1z
"/>
<path fill="#cee7f2" d="
M1516 814l11 -27l4 17l-11 -15z
"/>
<path fill="#d6ecf4" d="
M1512 781l11 0l4 6l-11 27z
M1508 813l11 -9l4 -23l-11 0z
"/>
<path fill="#bcddec" d="
M1504 827l11 -11l4 -12l-11 9z
"/>
<path fill="#b4d8ea" d="
M1500 813l11 11l4 -8l-11 11z
"/>
<path fill="#bcddec" d="
M1496 815l11 9l4 0l-11 -11z
"/>
<path fill="#add3e8" d="
M1492 824l11 28l4 -28l-11 -9z
"/>
<path fill="#a5cee6" d="
M1488 827l11 33l4 -8l-11 -28z
M1484 835l11 10l4 15l-11 -33z
"/>
<path fill="#add3e8" d="
M1479 836l12 -4l4 13l-11 -10z
"/>
<path fill="#9ec9e3" d="
M1475 870l12 -10l4 -28l-12 4z
"/>
<path fill="#96c4e1" d="
M1471 835l12 23l4 2l-12 10z
"/>
<path fill="#8fbfdf" d="
M1467 888l12 -18l4 -12l-12 -23z
M1463 865l12 -14l4 19l-12 18z
M1459 865l11 20l5 -34l-12 14z
"/>
<path fill="#82b6d9" d="
M1455 888l11 -5l4 2l-11 -20z
"/>
<path fill="#89badc" d="
M1451 882l11 -26l4 27l-11 5z
"/>
<path fill="#96c4e1" d="
M1447 859l11 20l4 -23l-11 26z
M1443 864l11 30l4 -15l-11 -20z
"/>
<path fill="#8fbfdf" d="
M1439 877l11 14l4 3l-11 -30z
"/>
<path fill="#82b6d9" d="
M1435 911l11 -14l4 -6l-11 -14z
"/>
<path fill="#7cb1d5" d="
M1431 912l11 -35l4 20l-11 14z
"/>
<path fill="#8fbfdf" d="
M1427 869l11 15l4 -7l-11 35z
"/>
<path fill="#cee7f2" d="
M1718 701l12 -1l4 9l-11 -14z
M1714 700l12 0l4 0l-12 1z
"/>
<path fill="#daeef4" d="
M1710 688l12 -6l4 18l-12 0z
"/>
<path fill="#e0f1f6" d="
M1706 684l12 1l4 -3l-12 6z
M1702 684l12 4l4 -3l-12 -1z
"/>
<path fill="#e4f3f6" d="
M1698 676l11 14l5 -2l-12 -4z
M1694 687l11 -4l4 7l-11 -14z
M1690 693l11 -9l4 -1l-11 4z
M1686 691l11 -10l4 3l-11 9z
"/>
<path fill="#e9f2ee" d="
M1682 681l11 7l4 -7l-11 10z
M1678 691l11 -1l4 -2l-11 -7z
M1674 694l11 -4l4 0l-11 1z
M1670 693l11 5l4 -8l-11 4z
"/>
<path fill="#e4f3f6" d="
M1666 696l11 7l4 -5l-11 -5z
M1662 710l11 -8l4 1l-11 -7z
M1657 704l12 2l4 -4l-11 8z
"/>
<path fill="#e9f2ee" d="
M1653 699l12 3l4 4l-12 -2z
M1649 705l12 -3l4 0l-12 -3z
M1645 692l12 23l4 -13l-12 3z
"/>
<path fill="#eef2e5" d="
M1641 700l12 3l4 12l-12 -23z
"/>
<path fill="#e9f2ee" d="
M1637 717l12 -8l4 -6l-12 -3z
M1633 711l11 4l5 -6l-12 8z
M1629 718l11 -8l4 5l-11 -4z
M1625 720l11 1l4 -11l-11 8z
M1621 708l11 9l4 4l-11 -1z
M1617 728l11 6l4 -17l-11 -9z
"/>
<path fill="#e4f3f6" d="
M1613 726l11 -1l4 9l-11 -6z
M1609 723l11 10l4 -8l-11 1z
M1605 735l11 0l4 -2l-11 -10z
M1601 723l11 10l4 2l-11 0z
"/>
<path fill="#eef2e5" d="
M1597 722l11 1l4 10l-11 -10z
M1592 724l12 12l4 -13l-11 -1z
"/>
<path fill="#e9f2ee" d="
M1588 744l12 -8l4 0l-12 -12z
"/>
<path fill="#e4f3f6" d="
M1584 734l12 15l4 -13l-12 8z
M1580 746l12 -4l4 7l-12 -15z
M1576 745l12 -2l4 -1l-12 4z
M1572 748l11 -3l5 -2l-12 2z
M1568 755l11 2l4 -12l-11 3z
M1564 742l11 22l4 -7l-11 -2z
M1560 751l11 9l4 4l-11 -22z
"/>
<path fill="#e0f1f6" d="
M1556 768l11 -10l4 2l-11 -9z
M1552 761l11 0l4 -3l-11 10z
M1548 778l11 -7l4 -10l-11 0z
M1544 760l11 8l4 3l-11 7z
M1540 775l11 -8l4 1l-11 -8z
"/>
<path fill="#ddf0f5" d="
M1536 786l11 -9l4 -10l-11 8z
"/>
<path fill="#d6ecf4" d="
M1531 804l12 3l4 -30l-11 9z
"/>
<path fill="#cee7f2" d="
M1527 787l12 18l4 2l-12 -3z
"/>
<path fill="#d6ecf4" d="
M1523 781l12 25l4 -1l-12 -18z
"/>
<path fill="#cee7f2" d="
M1519 804l12 9l4 -7l-12 -25z
"/>
<path fill="#bcddec" d="
M1515 816l12 14l4 -17l-12 -9z
"/>
<path fill="#b4d8ea" d="
M1511 824l11 3l5 3l-12 -14z
"/>
<path fill="#add3e8" d="
M1507 824l11 15l4 -12l-11 -3z
"/>
<path fill="#a5cee6" d="
M1503 852l11 -21l4 8l-11 -15z
"/>
<path fill="#9ec9e3" d="
M1499 860l11 -19l4 -10l-11 21z
"/>
<path fill="#a5cee6" d="
M1495 845l11 -20l4 16l-11 19z
"/>
<path fill="#add3e8" d="
M1491 832l11 14l4 -21l-11 20z
"/>
<path fill="#9ec9e3" d="
M1487 860l11 1l4 -15l-11 -14z
"/>
<path fill="#8fbfdf" d="
M1483 858l11 15l4 -12l-11 -1z
M1479 870l11 -6l4 9l-11 -15z
"/>
<path fill="#96c4e1" d="
M1475 851l11 12l4 1l-11 6z
"/>
<path fill="#8fbfdf" d="
M1470 885l12 2l4 -24l-11 -12z
"/>
<path fill="#75add2" d="
M1466 883l12 36l4 -32l-12 -2z
"/>
<path fill="#82b6d9" d="
M1462 856l12 31l4 32l-12 -36z
"/>
<path fill="#8fbfdf" d="
M1458 879l12 3l4 5l-12 -31z
"/>
<path fill="#82b6d9" d="
M1454 894l12 2l4 -14l-12 -3z
M1450 891l11 3l5 2l-12 -2z
"/>
<path fill="#89badc" d="
M1446 897l11 -14l4 11l-11 -3z
M1442 877l11 41l4 -35l-11 14z
M1438 884l11 19l4 15l-11 -41z
"/>
<path fill="#cee7f2" d="
M1730 700l11 -3l4 6l-11 6z
"/>
<path fill="#d6ecf4" d="
M1726 700l11 4l4 -7l-11 3z
"/>
<path fill="#ddf0f5" d="
M1722 682l11 -9l4 31l-11 -4z
"/>
<path fill="#e4f3f6" d="
M1718 685l11 -7l4 -5l-11 9z
M1714 688l11 -5l4 -5l-11 7z
M1709 690l12 -14l4 7l-11 5z
M1705 683l12 8l4 -15l-12 14z
M1701 684l12 6l4 1l-12 -8z
"/>
<path fill="#e9f2ee" d="
M1697 681l12 10l4 -1l-12 -6z
M1693 688l12 -1l4 4l-12 -10z
M1689 690l11 -2l5 -1l-12 1z
"/>
<path fill="#eef2e5" d="
M1685 690l11 -3l4 1l-11 2z
"/>
<path fill="#e9f2ee" d="
M1681 698l11 -6l4 -5l-11 3z
M1677 703l11 -6l4 -5l-11 6z
"/>
<path fill="#e4f3f6" d="
M1673 702l11 5l4 -10l-11 6z
"/>
<path fill="#e9f2ee" d="
M1669 706l11 -9l4 10l-11 -5z
M1665 702l11 7l4 -12l-11 9z
M1661 702l11 1l4 6l-11 -7z
M1657 715l11 -12l4 0l-11 -1z
M1653 703l11 11l4 -11l-11 12z
M1649 709l11 -2l4 7l-11 -11z
M1644 715l12 -1l4 -7l-11 2z
M1640 710l12 7l4 -3l-12 1z
M1636 721l12 4l4 -8l-12 -7z
M1632 717l12 -4l4 12l-12 -4z
M1628 734l12 -10l4 -11l-12 4z
M1624 725l11 -11l5 10l-12 10z
M1620 733l11 -7l4 -12l-11 11z
"/>
<path fill="#e4f3f6" d="
M1616 735l11 -3l4 -6l-11 7z
M1612 733l11 0l4 -1l-11 3z
"/>
<path fill="#e9f2ee" d="
M1608 723l11 5l4 5l-11 0z
"/>
<path fill="#eef2e5" d="
M1604 736l11 -5l4 -3l-11 -5z
"/>
<path fill="#e9f2ee" d="
M1600 736l11 7l4 -12l-11 5z
"/>
<path fill="#e4f3f6" d="
M1596 749l11 1l4 -7l-11 -7z
M1592 742l11 -9l4 17l-11 -1z
"/>
<path fill="#eef2e5" d="
M1588 743l11 -5l4 -5l-11 9z
"/>
<path fill="#e9f2ee" d="
M1583 745l12 2l4 -9l-11 5z
"/>
<path fill="#e4f3f6" d="
M1579 757l12 -7l4 -3l-12 -2z
M1575 764l12 -19l4 5l-12 7z
M1571 760l12 3l4 -18l-12 19z
M1567 758l12 0l4 5l-12 -3z
M1563 761l11 4l5 -7l-12 0z
"/>
<path fill="#e0f1f6" d="
M1559 771l11 1l4 -7l-11 -4z
M1555 768l11 -6l4 10l-11 -1z
"/>
<path fill="#e4f3f6" d="
M1551 767l11 1l4 -6l-11 6z
"/>
<path fill="#e0f1f6" d="
M1547 777l11 12l4 -21l-11 -1z
"/>
<path fill="#d6ecf4" d="
M1543 807l11 -5l4 -13l-11 -12z
"/>
<path fill="#cee7f2" d="
M1539 805l11 -8l4 5l-11 5z
"/>
<path fill="#c5e2ef" d="
M1535 806l11 13l4 -22l-11 8z
"/>
<path fill="#bcddec" d="
M1531 813l11 7l4 -1l-11 -13z
"/>
<path fill="#b4d8ea" d="
M1527 830l11 -10l4 0l-11 -7z
M1522 827l12 5l4 -12l-11 10z
"/>
<path fill="#add3e8" d="
M1518 839l12 -12l4 5l-12 -5z
"/>
<path fill="#b4d8ea" d="
M1514 831l12 -9l4 5l-12 12z
"/>
<path fill="#add3e8" d="
M1510 841l12 15l4 -34l-12 9z
M1506 825l12 1l4 30l-12 -15z
"/>
<path fill="#b4d8ea" d="
M1502 846l11 9l5 -29l-12 -1z
"/>
<path fill="#8fbfdf" d="
M1498 861l11 27l4 -33l-11 -9z
"/>
<path fill="#82b6d9" d="
M1494 873l11 11l4 4l-11 -27z
M1490 864l11 29l4 -9l-11 -11z
"/>
<path fill="#89badc" d="
M1486 863l11 26l4 4l-11 -29z
"/>
<path fill="#82b6d9" d="
M1482 887l11 16l4 -14l-11 -26z
"/>
<path fill="#75add2" d="
M1478 919l11 -36l4 20l-11 -16z
"/>
<path fill="#7cb1d5" d="
M1474 887l11 2l4 -6l-11 36z
"/>
<path fill="#82b6d9" d="
M1470 882l11 20l4 -13l-11 -2z
M1466 896l11 -4l4 10l-11 -20z
M1461 894l12 11l4 -13l-11 4z
"/>
<path fill="#7cb1d5" d="
M1457 883l12 33l4 -11l-12 -11z
M1453 918l12 -19l4 17l-12 -33z
M1449 903l12 -1l4 -3l-12 19z
"/>
<path fill="#d6ecf4" d="
M1741 697l11 0l5 3l-12 3z
M1737 704l11 2l4 -9l-11 0z
"/>
<path fill="#ddf0f5" d="
M1733 673l11 2l4 31l-11 -2z
"/>
<path fill="#e9f2ee" d="
M1729 678l11 12l4 -15l-11 -2z
"/>
<path fill="#e4f3f6" d="
M1725 683l11 10l4 -3l-11 -12z
"/>
<path fill="#e9f2ee" d="
M1721 676l11 -1l4 18l-11 -10z
M1717 691l11 0l4 -16l-11 1z
"/>
<path fill="#e4f3f6" d="
M1713 690l11 -8l4 9l-11 0z
"/>
<path fill="#e9f2ee" d="
M1709 691l11 3l4 -12l-11 8z
M1705 687l11 2l4 5l-11 -3z
"/>
<path fill="#eef2e5" d="
M1700 688l12 -1l4 2l-11 -2z
M1696 687l12 9l4 -9l-12 1z
"/>
<path fill="#e9f2ee" d="
M1692 692l12 8l4 -4l-12 -9z
"/>
<path fill="#eef2e5" d="
M1688 697l12 -9l4 12l-12 -8z
"/>
<path fill="#e9f2ee" d="
M1684 707l12 3l4 -22l-12 9z
M1680 697l12 4l4 9l-12 -3z
"/>
<path fill="#eef2e5" d="
M1676 709l11 -11l5 3l-12 -4z
M1672 703l11 -9l4 4l-11 11z
M1668 703l11 3l4 -12l-11 9z
M1664 714l11 -9l4 1l-11 -3z
M1660 707l11 -3l4 1l-11 9z
M1656 714l11 4l4 -14l-11 3z
"/>
<path fill="#e9f2ee" d="
M1652 717l11 -4l4 5l-11 -4z
M1648 725l11 0l4 -12l-11 4z
"/>
<path fill="#eef2e5" d="
M1644 713l11 -6l4 18l-11 0z
M1640 724l11 6l4 -23l-11 6z
"/>
<path fill="#e9f2ee" d="
M1635 714l12 15l4 1l-11 -6z
M1631 726l12 6l4 -3l-12 -15z
M1627 732l12 -10l4 10l-12 -6z
M1623 733l12 0l4 -11l-12 10z
"/>
<path fill="#eef2e5" d="
M1619 728l12 -3l4 8l-12 0z
"/>
<path fill="#f3f1dd" d="
M1615 731l11 -10l5 4l-12 3z
"/>
<path fill="#eef2e5" d="
M1611 743l11 -5l4 -17l-11 10z
"/>
<path fill="#e4f3f6" d="
M1607 750l11 -10l4 -2l-11 5z
"/>
<path fill="#e9f2ee" d="
M1603 733l11 13l4 -6l-11 10z
"/>
<path fill="#eef2e5" d="
M1599 738l11 1l4 7l-11 -13z
M1595 747l11 -4l4 -4l-11 -1z
"/>
<path fill="#e9f2ee" d="
M1591 750l11 -4l4 -3l-11 4z
M1587 745l11 13l4 -12l-11 4z
"/>
<path fill="#e4f3f6" d="
M1583 763l11 -2l4 -3l-11 -13z
M1579 758l11 -2l4 5l-11 2z
M1574 765l12 -2l4 -7l-11 2z
"/>
<path fill="#e0f1f6" d="
M1570 772l12 3l4 -12l-12 2z
M1566 762l12 12l4 1l-12 -3z
"/>
<path fill="#e4f3f6" d="
M1562 768l12 -1l4 7l-12 -12z
"/>
<path fill="#ddf0f5" d="
M1558 789l12 4l4 -26l-12 1z
"/>
<path fill="#d6ecf4" d="
M1554 802l11 -7l5 -2l-12 -4z
"/>
<path fill="#cee7f2" d="
M1550 797l11 22l4 -24l-11 7z
"/>
<path fill="#c5e2ef" d="
M1546 819l11 -22l4 22l-11 -22z
M1542 820l11 0l4 -23l-11 22z
"/>
<path fill="#bcddec" d="
M1538 820l11 -4l4 4l-11 0z
M1534 832l11 -16l4 0l-11 4z
"/>
<path fill="#add3e8" d="
M1530 827l11 26l4 -37l-11 16z
"/>
<path fill="#a5cee6" d="
M1526 822l11 34l4 -3l-11 -26z
"/>
<path fill="#add3e8" d="
M1522 856l11 -26l4 26l-11 -34z
"/>
<path fill="#a5cee6" d="
M1518 826l11 47l4 -43l-11 26z
"/>
<path fill="#9ec9e3" d="
M1513 855l12 -5l4 23l-11 -47z
"/>
<path fill="#96c4e1" d="
M1509 888l12 -36l4 -2l-12 5z
"/>
<path fill="#82b6d9" d="
M1505 884l12 3l4 -35l-12 36z
"/>
<path fill="#75add2" d="
M1501 893l12 16l4 -22l-12 -3z
M1497 889l12 0l4 20l-12 -16z
M1493 903l11 14l5 -28l-12 0z
M1489 883l11 18l4 16l-11 -14z
"/>
<path fill="#82b6d9" d="
M1485 889l11 6l4 6l-11 -18z
M1481 902l11 -28l4 21l-11 -6z
"/>
<path fill="#89badc" d="
M1477 892l11 -12l4 -6l-11 28z
M1473 905l11 -27l4 2l-11 12z
"/>
<path fill="#82b6d9" d="
M1469 916l11 -20l4 -18l-11 27z
"/>
<path fill="#7cb1d5" d="
M1465 899l11 21l4 -24l-11 20z
"/>
<path fill="#82b6d9" d="
M1461 902l11 -4l4 22l-11 -21z
"/>
<path fill="#cee7f2" d="
M1752 697l12 10l4 3l-11 -10z
"/>
<path fill="#d6ecf4" d="
M1748 706l12 -4l4 5l-12 -10z
"/>
<path fill="#ddf0f5" d="
M1744 675l12 11l4 16l-12 4z
"/>
<path fill="#e4f3f6" d="
M1740 690l12 -4l4 0l-12 -11z
"/>
<path fill="#e0f1f6" d="
M1736 693l12 4l4 -11l-12 4z
"/>
<path fill="#e4f3f6" d="
M1732 675l11 12l5 10l-12 -4z
"/>
<path fill="#e9f2ee" d="
M1728 691l11 -3l4 -1l-11 -12z
"/>
<path fill="#e4f3f6" d="
M1724 682l11 17l4 -11l-11 3z
M1720 694l11 13l4 -8l-11 -17z
M1716 689l11 3l4 15l-11 -13z
"/>
<path fill="#e9f2ee" d="
M1712 687l11 12l4 -7l-11 -3z
M1708 696l11 -3l4 6l-11 -12z
M1704 700l11 5l4 -12l-11 3z
M1700 688l11 19l4 -2l-11 -5z
M1696 710l11 2l4 -5l-11 -19z
M1692 701l11 2l4 9l-11 -2z
"/>
<path fill="#eef2e5" d="
M1687 698l12 3l4 2l-11 -2z
M1683 694l12 16l4 -9l-12 -3z
M1679 706l12 6l4 -2l-12 -16z
M1675 705l12 8l4 -1l-12 -6z
M1671 704l12 13l4 -4l-12 -8z
"/>
<path fill="#e9f2ee" d="
M1667 718l11 13l5 -14l-12 -13z
"/>
<path fill="#e4f3f6" d="
M1663 713l11 15l4 3l-11 -13z
"/>
<path fill="#e9f2ee" d="
M1659 725l11 -1l4 4l-11 -15z
"/>
<path fill="#eef2e5" d="
M1655 707l11 16l4 1l-11 1z
"/>
<path fill="#e9f2ee" d="
M1651 730l11 5l4 -12l-11 -16z
"/>
<path fill="#e4f3f6" d="
M1647 729l11 3l4 3l-11 -5z
"/>
<path fill="#e9f2ee" d="
M1643 732l11 -2l4 2l-11 -3z
M1639 722l11 18l4 -10l-11 2z
M1635 733l11 11l4 -4l-11 -18z
M1631 725l11 6l4 13l-11 -11z
"/>
<path fill="#eef2e5" d="
M1626 721l12 20l4 -10l-11 -6z
M1622 738l12 7l4 -4l-12 -20z
"/>
<path fill="#e9f2ee" d="
M1618 740l12 13l4 -8l-12 -7z
"/>
<path fill="#e4f3f6" d="
M1614 746l12 9l4 -2l-12 -13z
M1610 739l12 18l4 -2l-12 -9z
"/>
<path fill="#e9f2ee" d="
M1606 743l11 20l5 -6l-12 -18z
"/>
<path fill="#e4f3f6" d="
M1602 746l11 18l4 -1l-11 -20z
M1598 758l11 2l4 4l-11 -18z
M1594 761l11 2l4 -3l-11 -2z
M1590 756l11 17l4 -10l-11 -2z
"/>
<path fill="#e0f1f6" d="
M1586 763l11 20l4 -10l-11 -17z
M1582 775l11 -3l4 11l-11 -20z
M1578 774l11 8l4 -10l-11 3z
M1574 767l11 21l4 -6l-11 -8z
"/>
<path fill="#ddf0f5" d="
M1570 793l11 -2l4 -3l-11 -21z
"/>
<path fill="#d6ecf4" d="
M1565 795l12 11l4 -15l-11 2z
"/>
<path fill="#cee7f2" d="
M1561 819l12 -14l4 1l-12 -11z
M1557 797l12 -1l4 9l-12 14z
M1553 820l12 -4l4 -20l-12 1z
"/>
<path fill="#bcddec" d="
M1549 816l12 17l4 -17l-12 4z
"/>
<path fill="#b4d8ea" d="
M1545 816l11 36l5 -19l-12 -17z
"/>
<path fill="#a5cee6" d="
M1541 853l11 -7l4 6l-11 -36z
"/>
<path fill="#96c4e1" d="
M1537 856l11 -2l4 -8l-11 7z
M1533 830l11 47l4 -23l-11 2z
M1529 873l11 -13l4 17l-11 -47z
"/>
<path fill="#8fbfdf" d="
M1525 850l11 30l4 -20l-11 13z
"/>
<path fill="#9ec9e3" d="
M1521 852l11 -1l4 29l-11 -30z
"/>
<path fill="#8fbfdf" d="
M1517 887l11 2l4 -38l-11 1z
"/>
<path fill="#7cb1d5" d="
M1513 909l11 -32l4 12l-11 -2z
"/>
<path fill="#82b6d9" d="
M1509 889l11 -26l4 14l-11 32z
"/>
<path fill="#7cb1d5" d="
M1504 917l12 -2l4 -52l-11 26z
"/>
<path fill="#6fa8cf" d="
M1500 901l12 -3l4 17l-12 2z
"/>
<path fill="#75add2" d="
M1496 895l12 32l4 -29l-12 3z
"/>
<path fill="#7cb1d5" d="
M1492 874l12 19l4 34l-12 -32z
"/>
<path fill="#8fbfdf" d="
M1488 880l12 18l4 -5l-12 -19z
"/>
<path fill="#89badc" d="
M1484 878l11 30l5 -10l-12 -18z
"/>
<path fill="#82b6d9" d="
M1480 896l11 17l4 -5l-11 -30z
"/>
<path fill="#7cb1d5" d="
M1476 920l11 -23l4 16l-11 -17z
"/>
<path fill="#82b6d9" d="
M1472 898l11 3l4 -4l-11 23z
"/>
<path fill="#c5e2ef" d="
M1764 707l11 8l4 -1l-11 -4z
"/>
<path fill="#cee7f2" d="
M1760 702l11 10l4 3l-11 -8z
"/>
<path fill="#daeef4" d="
M1756 686l11 9l4 17l-11 -10z
"/>
<path fill="#e0f1f6" d="
M1752 686l11 13l4 -4l-11 -9z
"/>
<path fill="#ddf0f5" d="
M1748 697l11 10l4 -8l-11 -13z
"/>
<path fill="#e0f1f6" d="
M1743 687l12 9l4 11l-11 -10z
"/>
<path fill="#e4f3f6" d="
M1739 688l12 13l4 -5l-12 -9z
"/>
<path fill="#e0f1f6" d="
M1735 699l12 3l4 -1l-12 -13z
M1731 707l12 -10l4 5l-12 -3z
"/>
<path fill="#e4f3f6" d="
M1727 692l12 12l4 -7l-12 10z
M1723 699l12 2l4 3l-12 -12z
M1719 693l11 22l5 -14l-12 -2z
M1715 705l11 8l4 2l-11 -22z
"/>
<path fill="#e0f1f6" d="
M1711 707l11 15l4 -9l-11 -8z
M1707 712l11 5l4 5l-11 -15z
"/>
<path fill="#e4f3f6" d="
M1703 703l11 16l4 -2l-11 -5z
"/>
<path fill="#e9f2ee" d="
M1699 701l11 15l4 3l-11 -16z
M1695 710l11 10l4 -4l-11 -15z
"/>
<path fill="#e4f3f6" d="
M1691 712l11 17l4 -9l-11 -10z
M1687 713l11 16l4 0l-11 -17z
M1683 717l11 14l4 -2l-11 -16z
"/>
<path fill="#e0f1f6" d="
M1678 731l12 1l4 -1l-11 -14z
M1674 728l12 13l4 -9l-12 -1z
M1670 724l12 13l4 4l-12 -13z
"/>
<path fill="#e9f2ee" d="
M1666 723l12 -2l4 16l-12 -13z
M1662 735l12 -1l4 -13l-12 2z
"/>
<path fill="#e4f3f6" d="
M1658 732l11 11l5 -9l-12 1z
M1654 730l11 7l4 6l-11 -11z
"/>
<path fill="#e9f2ee" d="
M1650 740l11 -5l4 2l-11 -7z
"/>
<path fill="#e0f1f6" d="
M1646 744l11 10l4 -19l-11 5z
"/>
<path fill="#e4f3f6" d="
M1642 731l11 4l4 19l-11 -10z
"/>
<path fill="#e9f2ee" d="
M1638 741l11 8l4 -14l-11 -4z
"/>
<path fill="#e4f3f6" d="
M1634 745l11 13l4 -9l-11 -8z
"/>
<path fill="#e0f1f6" d="
M1630 753l11 5l4 0l-11 -13z
M1626 755l11 3l4 0l-11 -5z
M1622 757l11 1l4 0l-11 -3z
M1617 763l12 4l4 -9l-11 -1z
M1613 764l12 -1l4 4l-12 -4z
M1609 760l12 4l4 -1l-12 1z
M1605 763l12 19l4 -18l-12 -4z
"/>
<path fill="#ddf0f5" d="
M1601 773l12 11l4 -2l-12 -19z
"/>
<path fill="#daeef4" d="
M1597 783l11 3l5 -2l-12 -11z
"/>
<path fill="#ddf0f5" d="
M1593 772l11 12l4 2l-11 -3z
M1589 782l11 7l4 -5l-11 -12z
"/>
<path fill="#daeef4" d="
M1585 788l11 15l4 -14l-11 -7z
"/>
<path fill="#d6ecf4" d="
M1581 791l11 11l4 1l-11 -15z
"/>
<path fill="#cee7f2" d="
M1577 806l11 20l4 -24l-11 -11z
"/>
<path fill="#c5e2ef" d="
M1573 805l11 14l4 7l-11 -20z
M1569 796l11 28l4 -5l-11 -14z
"/>
<path fill="#bcddec" d="
M1565 816l11 40l4 -32l-11 -28z
"/>
<path fill="#a5cee6" d="
M1561 833l11 18l4 5l-11 -40z
M1556 852l12 -15l4 14l-11 -18z
"/>
<path fill="#9ec9e3" d="
M1552 846l12 22l4 -31l-12 15z
"/>
<path fill="#96c4e1" d="
M1548 854l12 7l4 7l-12 -22z
"/>
<path fill="#89badc" d="
M1544 877l12 11l4 -27l-12 -7z
M1540 860l12 11l4 17l-12 -11z
"/>
<path fill="#8fbfdf" d="
M1536 880l11 -17l5 8l-12 -11z
"/>
<path fill="#96c4e1" d="
M1532 851l11 23l4 -11l-11 17z
"/>
<path fill="#89badc" d="
M1528 889l11 3l4 -18l-11 -23z
"/>
<path fill="#7cb1d5" d="
M1524 877l11 33l4 -18l-11 -3z
"/>
<path fill="#89badc" d="
M1520 863l11 6l4 41l-11 -33z
"/>
<path fill="#7cb1d5" d="
M1516 915l11 17l4 -63l-11 -6z
"/>
<path fill="#6fa8cf" d="
M1512 898l11 -3l4 37l-11 -17z
"/>
<path fill="#75add2" d="
M1508 927l11 -18l4 -14l-11 3z
M1504 893l11 3l4 13l-11 18z
"/>
<path fill="#82b6d9" d="
M1500 898l11 11l4 -13l-11 -3z
"/>
<path fill="#75add2" d="
M1495 908l12 15l4 -14l-11 -11z
"/>
<path fill="#6fa8cf" d="
M1491 913l12 16l4 -6l-12 -15z
"/>
<path fill="#75add2" d="
M1487 897l12 26l4 6l-12 -16z
"/>
<path fill="#7cb1d5" d="
M1483 901l12 28l4 -6l-12 -26z
"/>
<path fill="#bcddec" d="
M1775 715l11 1l5 14l-12 -16z
M1771 712l11 17l4 -13l-11 -1z
"/>
<path fill="#cee7f2" d="
M1767 695l11 12l4 22l-11 -17z
"/>
<path fill="#daeef4" d="
M1763 699l11 7l4 1l-11 -12z
M1759 707l11 -6l4 5l-11 -7z
"/>
<path fill="#ddf0f5" d="
M1755 696l11 -4l4 9l-11 6z
M1751 701l11 10l4 -19l-11 4z
M1747 702l11 8l4 1l-11 -10z
"/>
<path fill="#e0f1f6" d="
M1743 697l11 8l4 5l-11 -8z
M1739 704l11 6l4 -5l-11 -8z
M1735 701l11 10l4 -1l-11 -6z
M1730 715l12 -6l4 2l-11 -10z
"/>
<path fill="#ddf0f5" d="
M1726 713l12 18l4 -22l-12 6z
"/>
<path fill="#daeef4" d="
M1722 722l12 2l4 7l-12 -18z
M1718 717l12 7l4 0l-12 -2z
"/>
<path fill="#ddf0f5" d="
M1714 719l12 13l4 -8l-12 -7z
M1710 716l11 15l5 1l-12 -13z
"/>
<path fill="#e0f1f6" d="
M1706 720l11 -10l4 21l-11 -15z
M1702 729l11 -3l4 -16l-11 10z
"/>
<path fill="#ddf0f5" d="
M1698 729l11 11l4 -14l-11 3z
M1694 731l11 -1l4 10l-11 -11z
"/>
<path fill="#e0f1f6" d="
M1690 732l11 -3l4 1l-11 1z
"/>
<path fill="#ddf0f5" d="
M1686 741l11 3l4 -15l-11 3z
"/>
<path fill="#daeef4" d="
M1682 737l11 6l4 1l-11 -3z
"/>
<path fill="#e0f1f6" d="
M1678 721l11 8l4 14l-11 -6z
"/>
<path fill="#e4f3f6" d="
M1674 734l11 12l4 -17l-11 -8z
"/>
<path fill="#ddf0f5" d="
M1669 743l12 7l4 -4l-11 -12z
M1665 737l12 10l4 3l-12 -7z
"/>
<path fill="#e0f1f6" d="
M1661 735l12 12l4 0l-12 -10z
M1657 754l12 -1l4 -6l-12 -12z
M1653 735l12 15l4 3l-12 1z
"/>
<path fill="#e4f3f6" d="
M1649 749l11 -2l5 3l-12 -15z
"/>
<path fill="#ddf0f5" d="
M1645 758l11 13l4 -24l-11 2z
"/>
<path fill="#daeef4" d="
M1641 758l11 15l4 -2l-11 -13z
"/>
<path fill="#ddf0f5" d="
M1637 758l11 7l4 8l-11 -15z
M1633 758l11 15l4 -8l-11 -7z
M1629 767l11 12l4 -6l-11 -15z
M1625 763l11 3l4 13l-11 -12z
"/>
<path fill="#e0f1f6" d="
M1621 764l11 20l4 -18l-11 -3z
"/>
<path fill="#ddf0f5" d="
M1617 782l11 -2l4 4l-11 -20z
"/>
<path fill="#daeef4" d="
M1613 784l11 -7l4 3l-11 2z
M1608 786l12 13l4 -22l-11 7z
"/>
<path fill="#d6ecf4" d="
M1604 784l12 15l4 0l-12 -13z
"/>
<path fill="#daeef4" d="
M1600 789l12 -4l4 14l-12 -15z
M1596 803l12 -16l4 -2l-12 4z
"/>
<path fill="#d6ecf4" d="
M1592 802l12 5l4 -20l-12 16z
"/>
<path fill="#bcddec" d="
M1588 826l11 3l5 -22l-12 -5z
"/>
<path fill="#b4d8ea" d="
M1584 819l11 8l4 2l-11 -3z
M1580 824l11 2l4 1l-11 -8z
"/>
<path fill="#add3e8" d="
M1576 856l11 -25l4 -5l-11 -2z
"/>
<path fill="#9ec9e3" d="
M1572 851l11 3l4 -23l-11 25z
M1568 837l11 22l4 -5l-11 -3z
"/>
<path fill="#96c4e1" d="
M1564 868l11 -12l4 3l-11 -22z
M1560 861l11 -14l4 9l-11 12z
"/>
<path fill="#8fbfdf" d="
M1556 888l11 -11l4 -30l-11 14z
"/>
<path fill="#82b6d9" d="
M1552 871l11 5l4 1l-11 11z
"/>
<path fill="#8fbfdf" d="
M1547 863l12 0l4 13l-11 -5z
"/>
<path fill="#96c4e1" d="
M1543 874l12 2l4 -13l-12 0z
"/>
<path fill="#82b6d9" d="
M1539 892l12 3l4 -19l-12 -2z
"/>
<path fill="#6fa8cf" d="
M1535 910l12 3l4 -18l-12 -3z
"/>
<path fill="#75add2" d="
M1531 869l12 42l4 2l-12 -3z
M1527 932l11 -40l5 19l-12 -42z
M1523 895l11 5l4 -8l-11 40z
M1519 909l11 8l4 -17l-11 -5z
"/>
<path fill="#6fa8cf" d="
M1515 896l11 36l4 -15l-11 -8z
M1511 909l11 14l4 9l-11 -36z
M1507 923l11 -9l4 9l-11 -14z
"/>
<path fill="#69a0cb" d="
M1503 929l11 18l4 -33l-11 9z
"/>
<path fill="#6298c7" d="
M1499 923l11 3l4 21l-11 -18z
"/>
<path fill="#6fa8cf" d="
M1495 929l11 -3l4 0l-11 -3z
"/>
<path fill="#add3e8" d="
M1786 716l12 11l4 3l-11 0z
"/>
<path fill="#b4d8ea" d="
M1782 729l12 -6l4 4l-12 -11z
"/>
<path fill="#c5e2ef" d="
M1778 707l12 3l4 13l-12 6z
"/>
<path fill="#d6ecf4" d="
M1774 706l12 0l4 4l-12 -3z
"/>
<path fill="#daeef4" d="
M1770 701l12 7l4 -2l-12 0z
M1766 692l11 20l5 -4l-12 -7z
M1762 711l11 -7l4 8l-11 -20z
M1758 710l11 3l4 -9l-11 7z
M1754 705l11 11l4 -3l-11 -3z
M1750 710l11 9l4 -3l-11 -11z
"/>
<path fill="#ddf0f5" d="
M1746 711l11 -2l4 10l-11 -9z
M1742 709l11 4l4 -4l-11 2z
"/>
<path fill="#daeef4" d="
M1738 731l11 0l4 -18l-11 -4z
"/>
<path fill="#d6ecf4" d="
M1734 724l11 -8l4 15l-11 0z
"/>
<path fill="#daeef4" d="
M1730 724l11 16l4 -24l-11 8z
"/>
<path fill="#d6ecf4" d="
M1726 732l11 -6l4 14l-11 -16z
"/>
<path fill="#daeef4" d="
M1721 731l12 -3l4 -2l-11 6z
"/>
<path fill="#ddf0f5" d="
M1717 710l12 18l4 0l-12 3z
"/>
<path fill="#e0f1f6" d="
M1713 726l12 5l4 -3l-12 -18z
"/>
<path fill="#daeef4" d="
M1709 740l12 -4l4 -5l-12 -5z
M1705 730l12 8l4 -2l-12 4z
"/>
<path fill="#ddf0f5" d="
M1701 729l11 8l5 1l-12 -8z
"/>
<path fill="#daeef4" d="
M1697 744l11 2l4 -9l-11 -8z
"/>
<path fill="#d6ecf4" d="
M1693 743l11 19l4 -16l-11 -2z
"/>
<path fill="#daeef4" d="
M1689 729l11 11l4 22l-11 -19z
"/>
<path fill="#ddf0f5" d="
M1685 746l11 6l4 -12l-11 -11z
"/>
<path fill="#daeef4" d="
M1681 750l11 -2l4 4l-11 -6z
M1677 747l11 10l4 -9l-11 2z
M1673 747l11 16l4 -6l-11 -10z
"/>
<path fill="#ddf0f5" d="
M1669 753l11 -4l4 14l-11 -16z
"/>
<path fill="#e0f1f6" d="
M1665 750l11 -2l4 1l-11 4z
M1660 747l12 10l4 -9l-11 2z
"/>
<path fill="#ddf0f5" d="
M1656 771l12 -8l4 -6l-12 -10z
"/>
<path fill="#daeef4" d="
M1652 773l12 -7l4 -3l-12 8z
"/>
<path fill="#ddf0f5" d="
M1648 765l12 0l4 1l-12 7z
M1644 773l12 2l4 -10l-12 0z
"/>
<path fill="#daeef4" d="
M1640 779l11 -1l5 -3l-12 -2z
M1636 766l11 14l4 -2l-11 1z
"/>
<path fill="#ddf0f5" d="
M1632 784l11 -11l4 7l-11 -14z
"/>
<path fill="#daeef4" d="
M1628 780l11 10l4 -17l-11 11z
M1624 777l11 8l4 5l-11 -10z
M1620 799l11 -6l4 -8l-11 -8z
"/>
<path fill="#d6ecf4" d="
M1616 799l11 -12l4 6l-11 6z
"/>
<path fill="#daeef4" d="
M1612 785l11 8l4 -6l-11 12z
M1608 787l11 14l4 -8l-11 -8z
"/>
<path fill="#d6ecf4" d="
M1604 807l11 3l4 -9l-11 -14z
"/>
<path fill="#bcddec" d="
M1599 829l12 -4l4 -15l-11 -3z
"/>
<path fill="#add3e8" d="
M1595 827l12 11l4 -13l-12 4z
"/>
<path fill="#b4d8ea" d="
M1591 826l12 4l4 8l-12 -11z
M1587 831l12 3l4 -4l-12 -4z
"/>
<path fill="#a5cee6" d="
M1583 854l12 6l4 -26l-12 -3z
"/>
<path fill="#96c4e1" d="
M1579 859l11 -17l5 18l-12 -6z
M1575 856l11 15l4 -29l-11 17z
"/>
<path fill="#8fbfdf" d="
M1571 847l11 37l4 -13l-11 -15z
"/>
<path fill="#89badc" d="
M1567 877l11 -1l4 8l-11 -37z
"/>
<path fill="#82b6d9" d="
M1563 876l11 16l4 -16l-11 1z
"/>
<path fill="#89badc" d="
M1559 863l11 22l4 7l-11 -16z
"/>
<path fill="#8fbfdf" d="
M1555 876l11 1l4 8l-11 -22z
"/>
<path fill="#89badc" d="
M1551 895l11 -4l4 -14l-11 -1z
"/>
<path fill="#75add2" d="
M1547 913l11 -2l4 -20l-11 4z
"/>
<path fill="#69a0cb" d="
M1543 911l11 2l4 -2l-11 2z
"/>
<path fill="#6fa8cf" d="
M1538 892l12 40l4 -19l-11 -2z
"/>
<path fill="#75add2" d="
M1534 900l12 10l4 22l-12 -40z
M1530 917l12 -1l4 -6l-12 -10z
"/>
<path fill="#6fa8cf" d="
M1526 932l12 -22l4 6l-12 1z
"/>
<path fill="#69a0cb" d="
M1522 923l12 18l4 -31l-12 22z
"/>
<path fill="#6298c7" d="
M1518 914l12 30l4 -3l-12 -18z
M1514 947l11 -22l5 19l-12 -30z
"/>
<path fill="#5c90c3" d="
M1510 926l11 36l4 -37l-11 22z
"/>
<path fill="#69a0cb" d="
M1506 926l11 -18l4 54l-11 -36z
"/>
<path fill="#a5cee6" d="
M1798 727l11 -7l4 24l-11 -14z
"/>
<path fill="#b4d8ea" d="
M1794 723l11 0l4 -3l-11 7z
"/>
<path fill="#bcddec" d="
M1790 710l11 9l4 4l-11 0z
"/>
<path fill="#cee7f2" d="
M1786 706l11 7l4 6l-11 -9z
"/>
<path fill="#d6ecf4" d="
M1782 708l11 4l4 1l-11 -7z
"/>
<path fill="#cee7f2" d="
M1777 712l12 6l4 -6l-11 -4z
"/>
<path fill="#d6ecf4" d="
M1773 704l12 15l4 -1l-12 -6z
M1769 713l12 15l4 -9l-12 -15z
"/>
<path fill="#cee7f2" d="
M1765 716l12 9l4 3l-12 -15z
M1761 719l12 11l4 -5l-12 -9z
"/>
<path fill="#d6ecf4" d="
M1757 709l12 14l4 7l-12 -11z
"/>
<path fill="#daeef4" d="
M1753 713l11 13l5 -3l-12 -14z
"/>
<path fill="#d6ecf4" d="
M1749 731l11 -2l4 -3l-11 -13z
M1745 716l11 14l4 -1l-11 2z
M1741 740l11 -4l4 -6l-11 -14z
M1737 726l11 -4l4 14l-11 4z
"/>
<path fill="#daeef4" d="
M1733 728l11 6l4 -12l-11 4z
M1729 728l11 7l4 -1l-11 -6z
M1725 731l11 -9l4 13l-11 -7z
M1721 736l11 11l4 -25l-11 9z
"/>
<path fill="#d6ecf4" d="
M1717 738l11 11l4 -2l-11 -11z
M1712 737l12 2l4 10l-11 -11z
M1708 746l12 3l4 -10l-12 -2z
"/>
<path fill="#cee7f2" d="
M1704 762l12 -8l4 -5l-12 -3z
"/>
<path fill="#d6ecf4" d="
M1700 740l12 0l4 14l-12 8z
"/>
<path fill="#daeef4" d="
M1696 752l12 6l4 -18l-12 0z
"/>
<path fill="#d6ecf4" d="
M1692 748l11 10l5 0l-12 -6z
M1688 757l11 4l4 -3l-11 -10z
M1684 763l11 3l4 -5l-11 -4z
M1680 749l11 16l4 1l-11 -3z
"/>
<path fill="#ddf0f5" d="
M1676 748l11 6l4 11l-11 -16z
"/>
<path fill="#e0f1f6" d="
M1672 757l11 2l4 -5l-11 -6z
"/>
<path fill="#ddf0f5" d="
M1668 763l11 9l4 -13l-11 -2z
"/>
<path fill="#daeef4" d="
M1664 766l11 1l4 5l-11 -9z
"/>
<path fill="#ddf0f5" d="
M1660 765l11 -1l4 3l-11 -1z
M1656 775l11 -2l4 -9l-11 1z
"/>
<path fill="#daeef4" d="
M1651 778l12 -2l4 -3l-11 2z
M1647 780l12 7l4 -11l-12 2z
M1643 773l12 9l4 5l-12 -7z
M1639 790l12 5l4 -13l-12 -9z
"/>
<path fill="#d6ecf4" d="
M1635 785l12 1l4 9l-12 -5z
"/>
<path fill="#daeef4" d="
M1631 793l11 3l5 -10l-12 -1z
"/>
<path fill="#d6ecf4" d="
M1627 787l11 18l4 -9l-11 -3z
M1623 793l11 14l4 -2l-11 -18z
M1619 801l11 -9l4 15l-11 -14z
M1615 810l11 4l4 -22l-11 9z
"/>
<path fill="#bcddec" d="
M1611 825l11 9l4 -20l-11 -4z
"/>
<path fill="#add3e8" d="
M1607 838l11 -7l4 3l-11 -9z
M1603 830l11 11l4 -10l-11 7z
"/>
<path fill="#a5cee6" d="
M1599 834l11 28l4 -21l-11 -11z
"/>
<path fill="#96c4e1" d="
M1595 860l11 11l4 -9l-11 -28z
M1590 842l12 8l4 21l-11 -11z
M1586 871l12 2l4 -23l-12 -8z
"/>
<path fill="#89badc" d="
M1582 884l12 -17l4 6l-12 -2z
"/>
<path fill="#7cb1d5" d="
M1578 876l12 36l4 -45l-12 17z
M1574 892l12 -19l4 39l-12 -36z
"/>
<path fill="#89badc" d="
M1570 885l11 -20l5 8l-12 19z
M1566 877l11 13l4 -25l-11 20z
"/>
<path fill="#82b6d9" d="
M1562 891l11 6l4 -7l-11 -13z
"/>
<path fill="#6fa8cf" d="
M1558 911l11 14l4 -28l-11 -6z
"/>
<path fill="#6298c7" d="
M1554 913l11 16l4 -4l-11 -14z
"/>
<path fill="#5c90c3" d="
M1550 932l11 6l4 -9l-11 -16z
"/>
<path fill="#6298c7" d="
M1546 910l11 2l4 26l-11 -6z
"/>
<path fill="#6fa8cf" d="
M1542 916l11 1l4 -5l-11 -2z
M1538 910l11 21l4 -14l-11 -1z
"/>
<path fill="#69a0cb" d="
M1534 941l11 -18l4 8l-11 -21z
"/>
<path fill="#6298c7" d="
M1530 944l11 -18l4 -3l-11 18z
"/>
<path fill="#69a0cb" d="
M1525 925l12 6l4 -5l-11 18z
"/>
<path fill="#5c90c3" d="
M1521 962l12 -11l4 -20l-12 -6z
M1517 908l12 43l4 0l-12 11z
"/>
<path fill="#9ec9e3" d="
M1809 720l11 17l5 5l-12 2z
"/>
<path fill="#add3e8" d="
M1805 723l11 17l4 -3l-11 -17z
"/>
<path fill="#b4d8ea" d="
M1801 719l11 5l4 16l-11 -17z
"/>
<path fill="#bcddec" d="
M1797 713l11 4l4 7l-11 -5z
"/>
<path fill="#c5e2ef" d="
M1793 712l11 12l4 -7l-11 -4z
M1789 718l11 -1l4 7l-11 -12z
M1785 719l11 4l4 -6l-11 1z
M1781 728l11 -1l4 -4l-11 -4z
M1777 725l11 6l4 -4l-11 1z
M1773 730l11 -2l4 3l-11 -6z
M1769 723l11 6l4 -1l-11 2z
"/>
<path fill="#cee7f2" d="
M1764 726l12 -2l4 5l-11 -6z
"/>
<path fill="#d6ecf4" d="
M1760 729l12 -9l4 4l-12 2z
M1756 730l12 4l4 -14l-12 9z
"/>
<path fill="#cee7f2" d="
M1752 736l12 3l4 -5l-12 -4z
M1748 722l12 18l4 -1l-12 -3z
"/>
<path fill="#d6ecf4" d="
M1744 734l11 7l5 -1l-12 -18z
"/>
<path fill="#cee7f2" d="
M1740 735l11 6l4 0l-11 -7z
"/>
<path fill="#d6ecf4" d="
M1736 722l11 24l4 -5l-11 -6z
"/>
<path fill="#cee7f2" d="
M1732 747l11 11l4 -12l-11 -24z
"/>
<path fill="#c5e2ef" d="
M1728 749l11 -1l4 10l-11 -11z
"/>
<path fill="#cee7f2" d="
M1724 739l11 17l4 -8l-11 1z
M1720 749l11 12l4 -5l-11 -17z
"/>
<path fill="#c5e2ef" d="
M1716 754l11 7l4 0l-11 -12z
"/>
<path fill="#cee7f2" d="
M1712 740l11 15l4 6l-11 -7z
"/>
<path fill="#d6ecf4" d="
M1708 758l11 -3l4 0l-11 -15z
"/>
<path fill="#cee7f2" d="
M1703 758l12 1l4 -4l-11 3z
M1699 761l12 5l4 -7l-12 -1z
M1695 766l12 12l4 -12l-12 -5z
M1691 765l12 8l4 5l-12 -12z
"/>
<path fill="#d6ecf4" d="
M1687 754l12 17l4 2l-12 -8z
"/>
<path fill="#daeef4" d="
M1683 759l11 17l5 -5l-12 -17z
"/>
<path fill="#d6ecf4" d="
M1679 772l11 14l4 -10l-11 -17z
M1675 767l11 5l4 14l-11 -14z
"/>
<path fill="#daeef4" d="
M1671 764l11 17l4 -9l-11 -5z
M1667 773l11 12l4 -4l-11 -17z
M1663 776l11 17l4 -8l-11 -12z
"/>
<path fill="#d6ecf4" d="
M1659 787l11 5l4 1l-11 -17z
"/>
<path fill="#daeef4" d="
M1655 782l11 0l4 10l-11 -5z
"/>
<path fill="#d6ecf4" d="
M1651 795l11 9l4 -22l-11 0z
M1647 786l11 8l4 10l-11 -9z
"/>
<path fill="#daeef4" d="
M1642 796l12 -5l4 3l-11 -8z
"/>
<path fill="#cee7f2" d="
M1638 805l12 12l4 -26l-12 5z
"/>
<path fill="#c5e2ef" d="
M1634 807l12 6l4 4l-12 -12z
"/>
<path fill="#d6ecf4" d="
M1630 792l12 6l4 15l-12 -6z
"/>
<path fill="#cee7f2" d="
M1626 814l12 17l4 -33l-12 -6z
"/>
<path fill="#b4d8ea" d="
M1622 834l11 5l5 -8l-12 -17z
"/>
<path fill="#add3e8" d="
M1618 831l11 10l4 -2l-11 -5z
"/>
<path fill="#a5cee6" d="
M1614 841l11 11l4 -11l-11 -10z
"/>
<path fill="#96c4e1" d="
M1610 862l11 2l4 -12l-11 -11z
"/>
<path fill="#8fbfdf" d="
M1606 871l11 -21l4 14l-11 -2z
"/>
<path fill="#9ec9e3" d="
M1602 850l11 7l4 -7l-11 21z
M1598 873l11 -28l4 12l-11 -7z
"/>
<path fill="#8fbfdf" d="
M1594 867l11 22l4 -44l-11 28z
"/>
<path fill="#7cb1d5" d="
M1590 912l11 -28l4 5l-11 -22z
M1586 873l11 16l4 -5l-11 28z
"/>
<path fill="#89badc" d="
M1581 865l12 28l4 -4l-11 -16z
"/>
<path fill="#82b6d9" d="
M1577 890l12 13l4 -10l-12 -28z
"/>
<path fill="#7cb1d5" d="
M1573 897l12 -8l4 14l-12 -13z
"/>
<path fill="#6fa8cf" d="
M1569 925l12 -4l4 -32l-12 8z
"/>
<path fill="#5c90c3" d="
M1565 929l12 -2l4 -6l-12 4z
M1561 938l11 -11l5 0l-12 2z
"/>
<path fill="#6298c7" d="
M1557 912l11 9l4 6l-11 11z
"/>
<path fill="#6fa8cf" d="
M1553 917l11 -4l4 8l-11 -9z
M1549 931l11 -2l4 -16l-11 4z
"/>
<path fill="#6298c7" d="
M1545 923l11 18l4 -12l-11 2z
"/>
<path fill="#69a0cb" d="
M1541 926l11 12l4 3l-11 -18z
M1537 931l11 12l4 -5l-11 -12z
M1533 951l11 -34l4 26l-11 -12z
"/>
<path fill="#6298c7" d="
M1529 951l11 5l4 -39l-11 34z
"/>
<path fill="#8fbfdf" d="
M1820 737l12 14l4 -1l-11 -8z
"/>
<path fill="#96c4e1" d="
M1816 740l12 15l4 -4l-12 -14z
"/>
<path fill="#a5cee6" d="
M1812 724l12 -1l4 32l-12 -15z
"/>
<path fill="#b4d8ea" d="
M1808 717l12 18l4 -12l-12 1z
M1804 724l12 4l4 7l-12 -18z
"/>
<path fill="#bcddec" d="
M1800 717l12 14l4 -3l-12 -4z
M1796 723l11 9l5 -1l-12 -14z
M1792 727l11 10l4 -5l-11 -9z
M1788 731l11 -1l4 7l-11 -10z
M1784 728l11 9l4 -7l-11 1z
"/>
<path fill="#c5e2ef" d="
M1780 729l11 1l4 7l-11 -9z
M1776 724l11 10l4 -4l-11 -1z
"/>
<path fill="#cee7f2" d="
M1772 720l11 19l4 -5l-11 -10z
M1768 734l11 3l4 2l-11 -19z
"/>
<path fill="#c5e2ef" d="
M1764 739l11 -2l4 0l-11 -3z
"/>
<path fill="#cee7f2" d="
M1760 740l11 -6l4 3l-11 2z
"/>
<path fill="#c5e2ef" d="
M1755 741l12 3l4 -10l-11 6z
"/>
<path fill="#cee7f2" d="
M1751 741l12 -7l4 10l-12 -3z
M1747 746l12 -1l4 -11l-12 7z
"/>
<path fill="#c5e2ef" d="
M1743 758l12 -9l4 -4l-12 1z
M1739 748l12 7l4 -6l-12 9z
M1735 756l11 6l5 -7l-12 -7z
"/>
<path fill="#bcddec" d="
M1731 761l11 5l4 -4l-11 -6z
M1727 761l11 -3l4 8l-11 -5z
"/>
<path fill="#c5e2ef" d="
M1723 755l11 10l4 -7l-11 3z
M1719 755l11 25l4 -15l-11 -10z
M1715 759l11 13l4 8l-11 -25z
M1711 766l11 10l4 -4l-11 -13z
"/>
<path fill="#bcddec" d="
M1707 778l11 7l4 -9l-11 -10z
M1703 773l11 0l4 12l-11 -7z
"/>
<path fill="#cee7f2" d="
M1699 771l11 -11l4 13l-11 0z
"/>
<path fill="#d6ecf4" d="
M1694 776l12 3l4 -19l-11 11z
"/>
<path fill="#cee7f2" d="
M1690 786l12 -3l4 -4l-12 -3z
M1686 772l12 21l4 -10l-12 3z
M1682 781l12 5l4 7l-12 -21z
"/>
<path fill="#d6ecf4" d="
M1678 785l12 7l4 -6l-12 -5z
"/>
<path fill="#cee7f2" d="
M1674 793l11 5l5 -6l-12 -7z
M1670 792l11 5l4 1l-11 -5z
"/>
<path fill="#d6ecf4" d="
M1666 782l11 9l4 6l-11 -5z
M1662 804l11 -14l4 1l-11 -9z
M1658 794l11 8l4 -12l-11 14z
M1654 791l11 18l4 -7l-11 -8z
"/>
<path fill="#cee7f2" d="
M1650 817l11 -12l4 4l-11 -18z
M1646 813l11 -14l4 6l-11 12z
M1642 798l11 23l4 -22l-11 14z
"/>
<path fill="#bcddec" d="
M1638 831l11 -1l4 -9l-11 -23z
"/>
<path fill="#add3e8" d="
M1633 839l12 10l4 -19l-11 1z
"/>
<path fill="#a5cee6" d="
M1629 841l12 4l4 4l-12 -10z
M1625 852l12 -7l4 0l-12 -4z
"/>
<path fill="#9ec9e3" d="
M1621 864l12 -13l4 -6l-12 7z
M1617 850l12 11l4 -10l-12 13z
"/>
<path fill="#96c4e1" d="
M1613 857l11 16l5 -12l-12 -11z
M1609 845l11 37l4 -9l-11 -16z
"/>
<path fill="#89badc" d="
M1605 889l11 -4l4 -3l-11 -37z
"/>
<path fill="#82b6d9" d="
M1601 884l11 0l4 1l-11 4z
M1597 889l11 4l4 -9l-11 0z
M1593 893l11 -7l4 7l-11 -4z
M1589 903l11 -21l4 4l-11 7z
"/>
<path fill="#7cb1d5" d="
M1585 889l11 22l4 -29l-11 21z
"/>
<path fill="#75add2" d="
M1581 921l11 -20l4 10l-11 -22z
"/>
<path fill="#69a0cb" d="
M1577 927l11 0l4 -26l-11 20z
M1572 927l12 -15l4 15l-11 0z
"/>
<path fill="#6fa8cf" d="
M1568 921l12 -4l4 -5l-12 15z
M1564 913l12 22l4 -18l-12 4z
"/>
<path fill="#69a0cb" d="
M1560 929l12 8l4 -2l-12 -22z
"/>
<path fill="#6298c7" d="
M1556 941l12 -11l4 7l-12 -8z
M1552 938l12 -3l4 -5l-12 11z
M1548 943l11 -3l5 -5l-12 3z
"/>
<path fill="#69a0cb" d="
M1544 917l11 21l4 2l-11 3z
M1540 956l11 -11l4 -7l-11 -21z
"/>
<path fill="#6fa8cf" d="
M1832 751l11 40l4 -6l-11 -35z
"/>
<path fill="#69a0cb" d="
M1828 755l11 48l4 -12l-11 -40z
"/>
<path fill="#6fa8cf" d="
M1824 723l11 81l4 -1l-11 -48z
"/>
<path fill="#75add2" d="
M1820 735l11 76l4 -7l-11 -81z
M1816 728l11 89l4 -6l-11 -76z
M1812 731l11 83l4 3l-11 -89z
M1807 732l12 95l4 -13l-11 -83z
"/>
<path fill="#6fa8cf" d="
M1803 737l12 86l4 4l-12 -95z
"/>
<path fill="#75add2" d="
M1799 730l12 97l4 -4l-12 -86z
M1795 737l12 92l4 -2l-12 -97z
"/>
<path fill="#7cb1d5" d="
M1791 730l12 81l4 18l-12 -92z
"/>
<path fill="#82b6d9" d="
M1787 734l11 92l5 -15l-12 -81z
"/>
<path fill="#75add2" d="
M1783 739l11 104l4 -17l-11 -92z
M1779 737l11 96l4 10l-11 -104z
"/>
<path fill="#82b6d9" d="
M1775 737l11 89l4 7l-11 -96z
M1771 734l11 90l4 2l-11 -89z
"/>
<path fill="#89badc" d="
M1767 744l11 75l4 5l-11 -90z
"/>
<path fill="#8fbfdf" d="
M1763 734l11 80l4 5l-11 -75z
M1759 745l11 72l4 -3l-11 -80z
"/>
<path fill="#89badc" d="
M1755 749l11 78l4 -10l-11 -72z
M1751 755l11 62l4 10l-11 -78z
M1746 762l12 54l4 1l-11 -62z
M1742 766l12 49l4 1l-12 -54z
"/>
<path fill="#8fbfdf" d="
M1738 758l12 69l4 -12l-12 -49z
M1734 765l12 54l4 8l-12 -69z
M1730 780l12 33l4 6l-12 -54z
M1726 772l11 37l5 4l-12 -33z
"/>
<path fill="#96c4e1" d="
M1722 776l11 34l4 -1l-11 -37z
M1718 785l11 13l4 12l-11 -34z
"/>
<path fill="#a5cee6" d="
M1714 773l11 14l4 11l-11 -13z
"/>
<path fill="#b4d8ea" d="
M1710 760l11 32l4 -5l-11 -14z
"/>
<path fill="#bcddec" d="
M1706 779l11 12l4 1l-11 -32z
M1702 783l11 11l4 -3l-11 -12z
M1698 793l11 3l4 -2l-11 -11z
"/>
<path fill="#c5e2ef" d="
M1694 786l11 -4l4 14l-11 -3z
"/>
<path fill="#cee7f2" d="
M1690 792l11 7l4 -17l-11 4z
"/>
<path fill="#c5e2ef" d="
M1685 798l12 12l4 -11l-11 -7z
M1681 797l12 3l4 10l-12 -12z
"/>
<path fill="#cee7f2" d="
M1677 791l12 7l4 2l-12 -3z
"/>
<path fill="#d6ecf4" d="
M1673 790l12 22l4 -14l-12 -7z
"/>
<path fill="#cee7f2" d="
M1669 802l12 -2l4 12l-12 -22z
M1665 809l11 0l5 -9l-12 2z
M1661 805l11 4l4 0l-11 0z
"/>
<path fill="#d6ecf4" d="
M1657 799l11 7l4 3l-11 -4z
"/>
<path fill="#cee7f2" d="
M1653 821l11 -12l4 -3l-11 -7z
"/>
<path fill="#c5e2ef" d="
M1649 830l11 -21l4 0l-11 12z
"/>
<path fill="#b4d8ea" d="
M1645 849l11 -14l4 -26l-11 21z
M1641 845l11 -31l4 21l-11 14z
"/>
<path fill="#bcddec" d="
M1637 845l11 -33l4 2l-11 31z
M1633 851l11 -25l4 -14l-11 33z
"/>
<path fill="#add3e8" d="
M1629 861l11 -22l4 -13l-11 25z
"/>
<path fill="#a5cee6" d="
M1624 873l12 -38l4 4l-11 22z
M1620 882l12 -45l4 -2l-12 38z
"/>
<path fill="#96c4e1" d="
M1616 885l12 -24l4 -24l-12 45z
M1612 884l12 -39l4 16l-12 24z
M1608 893l12 -30l4 -18l-12 39z
"/>
<path fill="#89badc" d="
M1604 886l11 16l5 -39l-12 30z
M1600 882l11 4l4 16l-11 -16z
"/>
<path fill="#82b6d9" d="
M1596 911l11 -16l4 -9l-11 -4z
M1592 901l11 -17l4 11l-11 16z
"/>
<path fill="#7cb1d5" d="
M1588 927l11 -10l4 -33l-11 17z
"/>
<path fill="#6fa8cf" d="
M1584 912l11 12l4 -7l-11 10z
"/>
<path fill="#75add2" d="
M1580 917l11 -10l4 17l-11 -12z
M1576 935l11 -34l4 6l-11 10z
"/>
<path fill="#6fa8cf" d="
M1572 937l11 -10l4 -26l-11 34z
"/>
<path fill="#6298c7" d="
M1568 930l11 28l4 -31l-11 10z
"/>
<path fill="#5c90c3" d="
M1564 935l11 11l4 12l-11 -28z
"/>
<path fill="#69a0cb" d="
M1559 940l12 -21l4 27l-11 -11z
"/>
<path fill="#6298c7" d="
M1555 938l12 29l4 -48l-12 21z
"/>
<path fill="#5c90c3" d="
M1551 945l12 11l4 11l-12 -29z
"/>
<path fill="#5589be" d="
M1843 791l12 7l4 0l-12 -13z
"/>
<path fill="#4879b6" d="
M1839 803l11 25l5 -30l-12 -7z
"/>
<path fill="#436eb1" d="
M1835 804l11 7l4 17l-11 -25z
M1831 811l11 10l4 -10l-11 -7z
"/>
<path fill="#3e60aa" d="
M1827 817l11 21l4 -17l-11 -10z
M1823 814l11 22l4 2l-11 -21z
M1819 827l11 7l4 2l-11 -22z
"/>
<path fill="#3a52a3" d="
M1815 823l11 19l4 -8l-11 -7z
M1811 827l11 13l4 2l-11 -19z
"/>
<path fill="#3e60aa" d="
M1807 829l11 12l4 -1l-11 -13z
"/>
<path fill="#436eb1" d="
M1803 811l11 34l4 -4l-11 -12z
M1798 826l12 22l4 -3l-11 -34z
"/>
<path fill="#3e60aa" d="
M1794 843l12 0l4 5l-12 -22z
M1790 833l12 6l4 4l-12 0z
"/>
<path fill="#436eb1" d="
M1786 826l12 14l4 -1l-12 -6z
"/>
<path fill="#4879b6" d="
M1782 824l12 20l4 -4l-12 -14z
"/>
<path fill="#5589be" d="
M1778 819l11 1l5 24l-12 -20z
"/>
<path fill="#5c90c3" d="
M1774 814l11 20l4 -14l-11 -1z
M1770 817l11 24l4 -7l-11 -20z
"/>
<path fill="#5589be" d="
M1766 827l11 10l4 4l-11 -24z
"/>
<path fill="#5c90c3" d="
M1762 817l11 18l4 2l-11 -10z
"/>
<path fill="#6298c7" d="
M1758 816l11 15l4 4l-11 -18z
"/>
<path fill="#69a0cb" d="
M1754 815l11 14l4 2l-11 -15z
"/>
<path fill="#6298c7" d="
M1750 827l11 11l4 -9l-11 -14z
"/>
<path fill="#69a0cb" d="
M1746 819l11 -5l4 24l-11 -11z
"/>
<path fill="#75add2" d="
M1742 813l11 14l4 -13l-11 5z
M1737 809l12 10l4 8l-11 -14z
"/>
<path fill="#82b6d9" d="
M1733 810l12 -2l4 11l-12 -10z
"/>
<path fill="#89badc" d="
M1729 798l12 14l4 -4l-12 2z
"/>
<path fill="#96c4e1" d="
M1725 787l12 11l4 14l-12 -14z
"/>
<path fill="#a5cee6" d="
M1721 792l12 2l4 4l-12 -11z
"/>
<path fill="#add3e8" d="
M1717 791l11 4l5 -1l-12 -2z
"/>
<path fill="#b4d8ea" d="
M1713 794l11 2l4 -1l-11 -4z
M1709 796l11 -1l4 1l-11 -2z
"/>
<path fill="#c5e2ef" d="
M1705 782l11 6l4 7l-11 1z
"/>
<path fill="#cee7f2" d="
M1701 799l11 -11l4 0l-11 -6z
"/>
<path fill="#c5e2ef" d="
M1697 810l11 -3l4 -19l-11 11z
M1693 800l11 -5l4 12l-11 3z
"/>
<path fill="#cee7f2" d="
M1689 798l11 9l4 -12l-11 5z
"/>
<path fill="#c5e2ef" d="
M1685 812l11 0l4 -5l-11 -9z
"/>
<path fill="#cee7f2" d="
M1681 800l11 5l4 7l-11 0z
M1676 809l12 8l4 -12l-11 -5z
"/>
<path fill="#c5e2ef" d="
M1672 809l12 6l4 2l-12 -8z
"/>
<path fill="#cee7f2" d="
M1668 806l12 4l4 5l-12 -6z
"/>
<path fill="#daeef4" d="
M1664 809l12 -17l4 18l-12 -4z
M1660 809l12 10l4 -27l-12 17z
"/>
<path fill="#c5e2ef" d="
M1656 835l11 1l5 -17l-12 -10z
M1652 814l11 2l4 20l-11 -1z
"/>
<path fill="#daeef4" d="
M1648 812l11 -9l4 13l-11 -2z
M1644 826l11 -12l4 -11l-11 9z
"/>
<path fill="#cee7f2" d="
M1640 839l11 -8l4 -17l-11 12z
"/>
<path fill="#c5e2ef" d="
M1636 835l11 -16l4 12l-11 8z
"/>
<path fill="#d6ecf4" d="
M1632 837l11 -24l4 6l-11 16z
"/>
<path fill="#c5e2ef" d="
M1628 861l11 -19l4 -29l-11 24z
"/>
<path fill="#bcddec" d="
M1624 845l11 -6l4 3l-11 19z
"/>
<path fill="#b4d8ea" d="
M1620 863l11 -6l4 -18l-11 6z
"/>
<path fill="#96c4e1" d="
M1615 902l12 -16l4 -29l-11 6z
"/>
<path fill="#8fbfdf" d="
M1611 886l12 -28l4 28l-12 16z
M1607 895l12 16l4 -53l-12 28z
"/>
<path fill="#7cb1d5" d="
M1603 884l12 44l4 -17l-12 -16z
"/>
<path fill="#75add2" d="
M1599 917l12 2l4 9l-12 -44z
"/>
<path fill="#69a0cb" d="
M1595 924l12 17l4 -22l-12 -2z
"/>
<path fill="#6fa8cf" d="
M1591 907l11 4l5 30l-12 -17z
"/>
<path fill="#89badc" d="
M1587 901l11 -9l4 19l-11 -4z
"/>
<path fill="#82b6d9" d="
M1583 927l11 -5l4 -30l-11 9z
"/>
<path fill="#6298c7" d="
M1579 958l11 -5l4 -31l-11 5z
"/>
<path fill="#5c90c3" d="
M1575 946l11 -16l4 23l-11 5z
"/>
<path fill="#69a0cb" d="
M1571 919l11 33l4 -22l-11 16z
"/>
<path fill="#5c90c3" d="
M1567 967l11 2l4 -17l-11 -33z
"/>
<path fill="#4f81ba" d="
M1563 956l11 4l4 9l-11 -2z
"/>
</g>
<g transform="translate(0.5,0)" fill="none" stroke-width="1">
<path stroke="#8dbde1" d="M627 396v14M721 440v5M804 440v5M755 409v18M566 392v11M621 407v7M553 388v22M733 413v9M760 432v11M716 420v13M714 419v15M778 411v25M611 419v11M880 378v13M717 435v9M747 423v7M802 406v21M801 414v16M731 426v17M608 417v6M739 408v24M887 385v13M781 421v15M715 419v14M626 399v9M752 427v26M667 422v12M801 411v18M658 399v25M737 441v11M883 384v8M771 428v5M628 419v15M625 407v6M622 398v18M578 390v19M801 430v6M869 386v11M720 438v11M631 409v10M737 437v7M886 402v18M784 429v14M738 422v7M629 404v13M658 400v25M744 419v20M678 412v16M740 430v25M666 408v20M781 411v23M884 373v17M779 428v7M703 397v26M790 434v6M735 424v7M755 432v6M803 427v19M711 424v18M870 380v11M742 414v14M609 385v25M664 424v5M747 417v13M615 400v13M632 397v19M748 424v16M562 382v21M631 393v19M670 416v16M881 369v7M782 436v11M751 412v22M745 443v8M660 388v18M754 417v23M665 391v25M603 397v17M714 426v11M608 409v15M679 415v13M770 426v6M627 395v15M659 396v12M771 418v12M665 398v20M764 408v20M719 426v13M806 437v9M803 431v6M762 409v16M782 431v14M659 384v21M577 404v6M556 389v17M721 443v6M812 425v15M755 408v21M868 385v8M721 398v23M677 414v15M882 379v5M662 417v12M675 406v19M781 408v25M659 409v7M626 391v19M719 422v12M801 411v23M661 410v13M668 413v15M624 397v20M566 383v20M881 376v14M720 413v21M716 418v26M882 384v9M741 435v19M734 402v21M628 402v6M751 426v5M761 418v12M760 412v13M809 427v24M715 429v8M747 433v23M802 419v15M750 437v7M781 434v14M619 391v20M609 390v20M608 421v5M771 435v22M811 421v7"/>
<path stroke="#81b7db" d="M889 384v7M896 371v14M792 442v16M571 389v24M793 452v14M751 418v20M701 415v20M737 437v15M890 395v5M751 442v15M683 415v11M744 423v11M899 377v14M888 377v8M891 397v24M712 415v23M774 421v15M786 435v7M790 414v22M888 379v11M891 377v16M669 396v23M673 423v10M793 448v6M640 400v21M791 422v12M889 380v22M687 408v20M899 379v13M611 410v20M671 429v6M610 407v22M797 430v21M686 429v14M693 428v15M687 422v8M785 443v7M784 445v18M792 452v7M891 392v8M737 439v7M802 446v8M899 383v9M704 419v24M790 427v14M898 387v18M741 423v21M898 390v8M664 407v23M686 423v5M743 420v18M751 434v7M693 416v9M749 436v8M773 429v14M749 434v5M561 395v14M789 435v9M643 404v14M798 422v24M776 441v15M644 400v13M642 410v10M731 427v15M773 447v12M676 412v22M785 440v12M890 379v11M790 435v6M784 437v7M797 422v26M782 442v8M888 378v22M888 381v13M771 437v6M685 416v8M889 369v23M783 417v24"/>
<path stroke="#75abd5" d="M683 421v15M910 392v14M689 420v13M912 392v15M898 367v5M770 437v17M776 429v20M893 398v7M769 431v21M624 425v18M683 425v9M628 410v10M916 387v14M659 405v14M611 418v7M902 376v8M893 369v7M905 395v13M909 391v11M776 440v8M766 442v5M894 385v18M909 396v6M909 400v8M790 446v11M751 428v25M778 431v18M778 451v6M692 430v11M802 437v12M683 423v13M765 434v22M765 440v14M683 425v10M908 397v5M629 409v19M904 387v6M908 387v14M908 388v9M697 429v14M751 446v9M629 408v17M759 430v22M893 372v10M895 365v24M904 392v13M754 436v17M677 418v20M908 377v5M776 430v19M907 385v9M903 380v15M776 451v7M769 438v14M911 391v10M753 430v15M753 429v25M906 389v14M752 444v14M902 368v24M803 434v19M893 393v7M751 432v24M907 381v20M748 425v26M765 434v19M903 374v13M627 420v25M892 376v26M627 420v16M675 439v5M894 379v6M793 432v15M679 418v13M676 421v17M906 384v21M628 405v18M681 425v18M629 423v17"/>
<path stroke="#99c3e1" d="M808 405v16M770 430v25M678 417v7M705 396v17M718 396v20M689 412v12M681 405v13M774 417v16M718 409v23M585 396v11M564 394v14M653 379v16M729 422v9M610 396v12M813 420v13M776 421v13M567 384v13M660 407v19M565 381v25M799 426v12M654 402v7M681 390v23M590 385v23M709 419v9M581 397v6M661 400v22M704 404v18M584 381v21M580 403v25M678 415v23M689 403v21M613 397v16M664 385v24M592 390v18M713 397v17M810 421v11M645 398v11M593 392v15M642 400v11M772 415v10M799 421v10M642 404v5M809 428v21M798 402v20M559 398v17M585 397v14M551 374v15M660 403v20M580 405v6M867 378v20M584 391v14M800 414v9M793 414v18M580 397v13M689 417v5M675 438v7M653 382v22M667 392v10M585 388v23M775 428v17M643 393v15M793 437v21M646 386v19M809 438v7M648 380v25M563 412v23M807 418v12M799 408v20M616 406v13M654 401v12M777 415v11M564 389v12M559 391v22M718 430v7M770 403v25M559 382v19M771 438v9M646 381v21M783 424v17M674 415v7M651 409v7M756 416v15M705 414v6M689 418v8M717 401v26M653 380v21M558 379v23M682 401v26M777 423v10M693 399v18M548 393v16M658 407v16M671 411v12M668 412v6M552 390v22M589 394v14M602 393v19M756 422v10M667 409v8M813 432v8M722 435v14M809 437v8M666 410v25M602 396v12M707 418v21M559 393v17M716 416v13M582 401v9M689 399v17M809 427v12M682 406v13M675 411v7M691 417v7M791 424v6M692 396v19M614 402v16M675 398v18M792 429v12M800 422v14M784 398v25M581 377v22M795 431v15M611 387v21M560 418v21M671 390v23M810 418v17M794 428v25M679 413v18M686 411v6M690 417v8M697 405v12M669 406v10M773 430v8M706 396v23M798 412v12M678 403v14M769 403v26M603 384v25M670 416v18M644 395v10M810 412v13M551 373v22M643 390v14M813 416v13M670 388v17M668 401v9"/>
<path stroke="#edf3e7" d="M846 348v2M813 368v3M726 343v3M657 326v4M696 317v2M737 328v5M616 348v3M593 335v7M626 324v6M626 325v5M657 304v2M821 363v2M624 347v2M677 313v5M627 326v3M597 326v23M598 329v16M813 369v7M680 315v2M729 337v2M646 328v3M711 341v6M624 323v5M654 332v6M709 354v4M764 333v7M698 309v7M650 315v3M794 365v5M746 341v5M707 341v7M793 365v7M808 361v3M817 366v7M695 310v3M819 369v2M709 314v3M816 345v3M606 343v4M817 351v3M633 352v6M726 347v5M818 372v6M728 348v4M642 340v2M640 337v5M632 336v4M674 313v4M710 352v5M595 327v6M768 337v2M594 335v2M725 348v4M742 337v6M612 334v3M775 329v2M706 356v5M643 330v4M738 349v6M723 345v6M620 331v2M801 368v5M618 345v4M686 312v4M630 332v2M747 322v6M619 322v4M749 325v6M634 346v3M811 354v7M748 324v4M725 349v5M654 333v7M640 330v4M807 365v4M753 323v4M615 317v22M819 363v2M791 359v7M723 344v6M635 333v5M649 340v3M701 350v7M683 319v2M677 311v2M682 314v4M831 349v6M597 358v2M651 325v5M635 344v4M641 335v3M662 308v7M599 335v5M650 326v7M693 316v3M717 346v3"/>
<path stroke="#e7f3ed" d="M617 318v25M562 356v4M641 327v2M768 337v2M646 319v4M668 313v5M822 358v5M588 359v4M748 344v6M686 314v4M619 347v4M791 360v4M826 348v3M826 353v4M631 346v6M825 358v7M671 330v7M808 372v4M600 342v7M612 349v5M814 352v7M854 354v2M661 311v2M640 346v3M718 358v4M825 347v7M832 363v7M689 358v3M629 337v5M804 375v4M692 365v3M825 349v7M839 349v6M828 360v5M711 331v4M788 365v5M724 342v2M687 312v5M565 359v3M710 315v7M632 310v25M701 350v4M648 342v6M624 327v6M852 351v6M852 361v5M604 333v7M631 317v7M799 368v6M619 341v5M693 319v2M712 337v5M643 307v8M741 331v5M662 317v7M669 336v2M703 317v5M631 308v14M811 354v2M819 350v6M808 365v2M815 375v7M643 305v20M635 333v2M564 355v2M644 316v4M818 349v2M814 355v7M637 341v2M832 357v6M664 332v3M561 359v4M661 321v5M714 333v6M829 360v4M834 354v2M831 359v2M687 313v7M625 325v4M561 360v3M816 346v6M728 348v6M678 330v5M700 311v3M662 335v5M797 370v2M601 348v3M697 316v4M790 369v7M692 316v3M660 336v5M673 339v5M818 365v7M744 329v4M736 350v6M761 329v6M730 352v4M625 325v4M724 334v3M794 361v7M825 349v4M682 321v6M704 350v7M616 319v14M643 309v6M784 346v3M645 320v4M619 334v4M616 318v19M720 331v6M743 352v6M747 342v4M784 341v2M703 343v5M716 351v6M701 341v6M699 324v5M719 323v6M642 338v6M667 317v4M725 359v5"/>
<path stroke="#bddbed" d="M794 414v20M802 392v19M810 414v26M732 387v9M632 370v14M743 404v26M608 386v25M726 400v19M596 369v16M778 414v6M678 387v25M626 371v16M606 371v13M565 374v8M631 370v15M803 395v11M731 385v11M766 396v8M744 407v18M626 390v22M853 379v8M796 409v22M787 411v8M769 410v24M807 412v21M769 413v12M787 426v9M564 372v7M757 397v7M634 386v5M677 388v12M625 389v6M611 392v22M761 413v23M579 389v14M800 409v24M858 386v6M578 390v10M748 404v25M561 383v23M803 410v9M678 398v25M630 390v12M795 411v5M742 404v17M714 404v26M800 409v17M606 376v11M803 409v10M767 406v7M714 392v11M746 403v5M781 413v21M564 387v11M736 404v17M563 386v15M679 391v5M680 387v11M747 402v16M680 391v10M746 410v24M787 411v20M563 382v11M766 408v12M767 416v14M635 389v5M742 391v12M753 410v17M742 403v25M807 413v18M757 407v9M799 410v7M787 396v17M628 382v5M796 408v12M743 395v9M566 378v5M761 407v15M788 425v12M629 375v12M735 402v26M726 383v23"/>
<path stroke="#dbf3f3" d="M799 343v7M784 390v2M798 340v3M680 370v6M791 332v3M780 395v15M700 335v4M741 357v6M679 374v2M657 370v10M765 381v7M767 357v2M694 341v3M591 363v7M663 350v3M797 384v6M788 353v4M748 362v2M821 347v3M582 368v4M744 375v4M672 355v3M599 355v7M684 380v25M762 382v3M709 327v4M683 371v7M768 343v5M754 361v4M578 367v2M622 364v5M711 322v5M675 357v2M785 397v26M779 345v7M797 339v4M612 358v5M661 349v4M721 381v4M646 365v4M674 357v6M678 368v4M824 370v5M800 395v2M780 351v5M687 343v4M610 375v11M649 352v6M816 384v5M617 368v6M834 370v7M722 381v4M756 347v4M610 369v6M796 347v6M777 357v2M765 380v7M682 344v3M586 372v2M624 367v6M791 334v3M738 369v7M647 349v5M609 367v3M676 355v5M700 344v6M591 364v3M718 377v7M819 340v2M663 364v5M691 335v3M680 351v2M744 368v7M813 379v7M801 349v4M602 365v3M770 377v5M870 348v7M738 374v3M729 365v6M738 376v3M787 334v4M652 370v5M731 381v3M865 361v5M660 371v22M680 366v3M728 365v4M739 373v7M832 343v7M756 353v7M652 368v7M657 361v7"/>
<path stroke="#e7f3f9" d="M775 365v7M686 345v19M666 328v5M766 374v2M711 332v5M752 356v7M658 348v2M778 361v4M786 374v5M798 348v6M662 305v4M551 370v8M802 364v7M783 385v5M801 377v3M701 358v5M779 333v4M792 347v5M790 372v2M737 363v6M777 367v6M658 345v2M806 361v7M785 334v5M693 374v5M658 338v6M862 351v6M746 341v7M707 317v6M788 335v6M696 360v2M697 345v4M700 349v2M787 337v7M670 359v4M557 363v5M794 356v6M553 364v3M554 360v3M806 378v2M783 353v6M769 368v6M774 343v4M760 350v4M636 349v7M644 345v4M819 367v5M709 317v2M800 374v3M694 368v4M785 333v3M784 368v5M706 328v3M694 371v3M716 366v5M680 355v3M687 354v6M695 348v2M599 356v4M777 347v3M667 337v7M833 342v2M689 363v3M704 313v4M622 359v4M665 330v5M864 356v3M687 356v6M652 345v5M638 346v5M779 339v7M784 332v2M689 347v2M808 357v2M783 345v4M803 347v4M577 359v4M773 363v7M675 330v3M707 316v4M790 373v4M791 352v3M598 363v2M702 359v7M693 347v2M656 309v5M688 347v6M671 363v2M760 350v7M572 359v4M802 347v6M693 350v3M674 329v2M626 365v3M702 349v5M653 338v5M697 338v4M695 343v4M645 340v3"/>
<path stroke="#87bddb" d="M667 416v14M808 425v15M774 433v24M639 405v12M875 377v13M780 424v20M798 444v5M765 412v18M779 436v8M572 402v9M659 390v22M774 418v8M806 436v9M780 418v25M708 416v16M796 435v9M777 436v5M881 380v8M879 378v18M791 413v20M879 378v19M724 434v11M806 425v19M677 416v14M709 419v20M785 429v23M807 432v9M674 412v6M779 443v15M696 414v13M634 394v21M886 381v7M655 393v22M667 401v10M562 395v18M882 381v11M673 395v26M654 390v13M634 417v5M640 399v21M804 443v9M660 398v14M556 393v15M728 424v6M888 388v10M679 403v19M785 425v11M770 438v5M729 412v16M881 376v11M707 422v7M705 426v5M666 420v9M554 390v18M780 443v20M879 387v6M700 412v8M769 425v17M807 440v5M770 439v18M647 415v12M569 383v26M714 410v22M696 428v16M884 378v17M775 430v19M656 408v7M666 407v22M699 406v9M766 430v26M650 406v5M680 422v24M746 422v13M657 417v6M703 406v21M701 417v5M674 416v10M770 427v9M876 382v5M697 423v6M667 418v13M769 428v12M784 434v25M770 427v9M748 453v5M885 374v10M655 392v23M686 420v11M803 439v9"/>
<path stroke="#d5edf3" d="M709 387v13M690 376v5M804 396v6M841 380v17M635 373v14M690 346v19M832 393v9M624 367v9M726 394v14M765 395v9M876 366v7M738 383v4M856 379v14M694 387v20M658 369v5M708 386v16M723 382v5M568 377v25M573 368v7M693 379v9M732 392v21M804 398v22M564 379v7M718 382v6M828 389v7M723 389v16M691 387v24M698 382v4M778 399v23M878 365v9M573 373v6M812 397v13M856 374v14M747 387v2M675 377v12M705 384v10M879 371v16M632 365v4M878 370v15M672 374v14M673 383v25M575 385v22M884 365v19M674 380v16M832 397v9M694 393v9M843 385v19M596 381v25M671 372v15M707 388v6M828 389v4M689 375v5M655 375v18M641 375v13M624 364v5M686 337v6M692 345v23M575 372v4M664 358v25M730 393v24M727 379v5M684 375v5M692 384v21M709 391v22M686 336v6M683 385v14M719 389v20M786 391v4M861 365v4M692 341v4M691 380v9M752 397v11M687 386v16M729 391v6M802 398v24M576 372v3M674 373v12M647 377v16M768 393v5M884 365v20M877 371v6M775 395v16M656 376v11M772 396v9M648 371v23M640 371v24M833 391v6M844 387v16M788 404v20M684 381v17M670 372v11M754 397v18"/>
<path stroke="#f9edc9" d="M595 326v15M598 326v6M594 328v10M604 322v12M605 325v12M628 312v8"/>
<path stroke="#e1f3f9" d="M631 358v7M734 369v5M831 364v7M766 358v2M788 380v4M751 367v4M721 369v5M807 347v6M815 381v2M763 362v2M747 364v3M855 351v2M754 365v5M781 338v2M757 365v3M769 372v6M802 340v7M760 353v6M816 376v2M797 381v5M653 340v6M677 341v5M724 366v3M767 365v5M776 342v4M820 342v4M667 357v6M656 344v7M811 371v7M787 377v5M777 390v7M668 366v4M830 344v4M669 362v7M773 354v5M628 357v2M809 376v5M690 341v7M860 349v7M840 353v7M677 339v4M706 377v5M670 362v6M689 334v5M711 318v3M757 378v3M778 384v2M691 337v3M677 344v2M771 376v6M715 315v5M774 391v24M756 367v5M645 355v4M827 342v3M777 351v7M678 343v6M761 368v7M679 343v6M667 370v4M643 352v6M682 357v6M562 371v5M667 360v7M762 353v2M830 348v3M804 342v3M773 344v6M715 360v7M700 332v2M677 359v5M755 368v4M673 372v19M565 366v3M860 361v3M797 390v3M868 346v7M715 324v4M809 383v4M802 349v7M810 375v5M788 378v3M779 380v3M691 327v5M755 365v6M761 374v3M676 352v4M631 356v6M720 368v2M724 330v5M830 344v2"/>
<path stroke="#a5cfe7" d="M677 388v9M709 409v13M579 391v8M678 402v15M677 404v16M671 405v23M572 385v11M673 394v6M715 408v24M626 392v12M772 423v18M620 387v15M619 397v7M679 404v12M674 399v21M746 415v12M572 397v8M793 398v22M556 383v8M797 410v17M588 384v11M710 406v24M728 414v25M555 390v8M772 401v13M624 412v20M768 428v6M773 419v5M773 413v5M658 379v23M677 399v13M681 404v6M675 385v11M726 410v19M648 380v15M779 424v7M647 383v6M679 403v22M792 405v20M682 414v25M794 410v5M563 392v18M745 399v14M747 419v25M608 396v19M765 409v9M599 377v14M601 404v8M620 408v6M740 388v26M620 402v11M618 384v23M621 383v25M559 387v14M711 396v11M556 389v8M721 413v11M617 386v19M709 412v24M617 401v7M675 402v20M726 422v17M620 395v10M774 421v26M618 390v10M649 379v14M765 405v13M774 420v20M677 388v14M677 402v8M714 391v13M557 376v20M764 402v17M601 400v17M556 388v23M553 401v7M618 409v20M601 373v25M620 409v19M579 381v8M781 405v6M709 414v8M619 409v25M573 387v13M798 420v17M680 388v20M706 405v11M795 420v25M797 430v7M727 422v22M794 420v7M557 395v18M627 382v19M557 399v13M624 389v18M620 396v8M794 404v19M673 407v15M605 375v24M767 423v17M656 385v15M574 389v12M722 412v18M558 386v5M808 406v12M553 391v6"/>
<path stroke="#c3e1ed" d="M599 381v25M629 371v4M893 358v7M680 387v24M586 385v9M687 373v24M683 391v18M648 380v12M696 382v10M649 384v17M647 391v24M701 391v6M549 374v10M696 401v13M687 399v24M774 408v6M698 396v19M697 388v6M693 378v18M862 372v8M699 400v12M700 387v15M651 385v18M694 392v5M875 375v17M586 381v11M550 375v19M707 397v5M647 374v14M700 394v19M788 405v18M559 382v20M647 380v25M876 360v13M892 366v8M647 379v9M553 378v5M636 389v25M694 396v7M551 384v24M633 383v24M688 384v10M552 379v26M729 400v21M727 403v11M570 377v10M720 390v7M549 387v16M681 384v10M551 386v15M872 374v5M552 389v26M817 403v12M552 366v7M588 380v5M557 370v7M649 389v13M550 376v26M688 398v13M602 381v5M606 379v5M549 385v24M720 384v9M643 383v9M630 383v8M697 384v7M894 363v5M637 386v9M728 390v5M681 384v7M621 374v5M693 398v12M875 364v9M549 383v16M598 371v9M550 378v9M650 395v10M628 380v10M606 380v17M698 396v12M729 400v23M681 401v14M650 389v19M727 402v16M681 399v14M697 400v18M573 383v13M684 392v14M720 394v12M863 386v5M862 380v5"/>
<path stroke="#5d8dbd" d="M642 424v14"/>
<path stroke="#abd5e7" d="M596 398v5M697 407v7M748 390v21M630 382v16M629 375v22M613 399v8M628 394v5M731 393v14M642 405v5M721 409v8M641 382v15M670 394v19M697 409v22M703 395v12M806 407v10M632 402v15M572 391v13M729 390v13M729 406v5M697 404v15M569 375v14M640 374v22M631 372v21M683 409v9M617 385v11M762 415v15M640 398v6M761 420v25M594 386v12M567 393v19M730 408v20M637 399v10M732 406v6M639 377v17M805 405v8M788 412v11M806 404v8M763 423v8M595 387v12M634 413v13M685 397v14M790 422v10M767 410v6M804 395v20M637 387v9M627 395v18M644 393v21M633 387v13M569 385v19M686 379v16M767 420v26M603 378v21M605 371v26M729 392v18M765 416v11M761 425v26M640 397v5M803 418v25M568 385v7M631 395v10M724 411v6M633 411v10M567 390v23M763 413v5M697 396v6M704 386v18M746 406v5M770 405v18M686 389v21M747 415v18M696 395v7M597 404v14M749 402v8M685 382v25M685 406v21M616 399v14M760 410v7M723 413v23M608 383v23M644 391v5M760 398v19M730 410v17M639 382v20M770 421v13M668 383v10M752 395v17M627 400v25M771 412v14M806 404v9M629 403v15M681 403v17M762 413v9M641 401v6M632 398v11M613 389v6M768 402v11M791 400v13M618 389v7M631 377v21M685 383v15M638 396v20M567 388v18"/>
<path stroke="#9fc9e1" d="M724 419v17M608 398v21M661 378v24M659 406v16M693 402v10M637 391v18M759 420v14M676 408v6M663 405v18M635 407v13M660 406v20M638 410v11M758 420v24M588 398v6M607 389v22M708 408v8M717 409v19M757 427v9M648 394v5M694 413v5M591 395v6M607 405v9M609 396v13M741 411v11M664 407v16M782 427v5M592 388v6M789 429v8M679 406v23M760 408v14M705 413v12M758 407v12M677 407v25M720 388v25M695 393v11M729 393v21M676 407v22M781 400v26M729 402v19M704 382v25M741 394v25M638 398v8M730 427v15M639 411v16M791 426v14M748 427v16M652 389v7M743 423v22M791 422v14M715 392v18M600 408v12M745 410v6M725 417v21M636 381v17M674 407v6M715 395v16M720 414v19M651 382v18M607 411v10M595 384v21M780 401v25M742 399v25M789 427v12M609 392v26M781 406v19M609 392v12M747 421v15M707 410v21M732 422v25M718 418v16M595 397v13M697 410v16M597 405v11M650 401v22M634 398v5M636 407v15M709 398v7M747 400v25M703 406v5M725 394v25M649 387v15M607 397v11M612 409v16M732 424v20M699 416v23M731 400v21M574 391v5M615 411v5M595 405v9M724 405v10M740 401v22M720 401v11M639 397v8M674 416v12"/>
<path stroke="#f9edbd" d="M583 332v14M573 340v5M589 329v24M572 340v14"/>
<path stroke="#b7dbed" d="M777 423v16M702 395v9M814 415v17M656 397v10M613 405v22M814 411v11M604 392v5M706 384v13M603 391v22M778 425v21M616 382v8M653 386v10M740 396v7M812 411v17M704 398v22M690 383v22M726 398v5M584 376v14M674 392v24M621 378v11M757 395v25M593 377v10M636 395v22M717 384v10M606 396v13M817 404v8M605 387v7M590 380v9M702 386v14M612 393v21M653 396v7M654 388v6M580 381v12M816 402v10M693 406v24M813 409v6M776 414v6M778 416v5M690 391v13M604 394v11M740 401v5M733 401v6M759 402v7M622 390v13M757 395v15M692 408v5M660 397v14M739 394v9M585 386v7M663 399v13M705 379v19M612 394v8M611 400v12M717 403v23M635 394v20M590 376v15M755 422v7M766 413v12M741 404v5M585 376v17M743 414v6M620 366v26M742 404v9M739 408v7M670 375v23M742 416v10M663 393v14M614 380v20M755 425v14M691 407v21M719 401v16M691 401v5M656 395v23M860 385v6M745 413v13M768 411v10M613 394v10M659 400v8M611 398v23M715 405v5M812 405v23M765 395v13M660 388v7M811 410v14M594 394v7M590 382v5M657 376v13M637 390v14M687 379v24M611 375v20M660 390v16M658 383v15M704 398v13M756 415v13M745 404v5M757 415v5M664 387v9M777 405v8M583 388v6"/>
<path stroke="#5d93c3" d="M786 450v19M785 446v20M785 446v20M785 447v24M784 458v13"/>
<path stroke="#6fabcf" d="M916 387v5M778 450v5M644 420v14M788 443v19M791 449v9M907 386v16M641 417v7M703 418v14M786 452v11M787 432v18M633 435v7M785 442v10M788 450v6M652 409v23M773 443v11M788 438v11M783 434v17M756 445v10M776 436v21M917 399v7M781 435v10M785 454v6M904 370v7M773 453v8M770 443v6M772 451v13M906 380v14M633 431v12M785 455v12M617 422v8M628 412v20M703 423v9M643 417v10M789 445v10M905 389v15M777 441v14M790 423v22M627 412v18M758 444v8M777 439v16M797 441v15M791 433v25M635 428v23M782 423v26M645 410v19M785 443v6M631 413v17M799 436v19M902 369v14M633 435v16"/>
<path stroke="#7bb1d5" d="M648 423v7M652 401v22M757 444v7M762 426v21M668 425v7M804 437v14M763 435v17M899 388v16M667 408v25M797 425v20M653 406v16M656 403v19M898 383v12M804 437v13M762 431v14M796 443v9M653 417v12M760 421v19M756 435v5M637 410v10M651 400v20M644 403v17M652 409v13M548 392v15M637 423v5M797 436v11M637 426v7M699 419v13M758 434v9M668 410v24M548 391v14M707 417v25M654 410v7M673 434v6M621 416v7M764 427v21M899 389v8M655 405v20M800 419v20M691 421v8M799 440v10M799 447v14M898 380v25M674 418v18M661 421v12M798 446v14M763 437v9M899 390v11"/>
<path stroke="#cfe7f3" d="M714 388v12M748 394v5M712 384v5M868 364v12M666 386v24M614 370v4M882 369v13M614 374v4M887 364v15M885 362v9M885 363v5M765 404v22M663 386v26M786 404v8M738 386v10M777 394v11M869 370v9M739 389v23M778 404v12M815 406v8M781 398v7M705 386v22M868 373v6M868 368v8M766 405v12M748 394v9M739 389v6M618 374v6M704 383v15M714 386v13M885 358v7M823 392v7M816 399v20M608 380v11M646 377v26M857 373v5M548 388v15M577 379v16M871 376v12M887 368v16M714 391v24M790 392v6M636 378v13M841 392v10M792 405v24M597 374v7M737 399v11M864 378v7M706 391v7M869 373v23M865 377v7M585 377v11M850 382v6M780 401v17M619 375v14M884 368v14M588 387v9M744 382v6M843 381v7M640 376v10M836 392v7M816 402v19M607 377v16M794 407v16M668 386v10M739 386v5M852 378v14M615 387v8M733 386v7M850 382v8M861 374v8M548 390v17M793 404v7M707 395v7M599 378v18M669 377v6M877 373v20M778 410v7M849 379v13M587 383v20"/>
<path stroke="#699fc9" d="M767 434v24M646 416v10M792 447v19M632 421v14M792 452v14M769 455v8M645 407v26M635 412v21M685 431v13M627 420v15M757 433v24M645 418v15M781 465v6M648 416v13M636 415v14M685 432v14M769 440v19M636 416v16M638 435v9M687 426v17M648 422v8M638 430v7M646 413v16M626 425v14M635 410v22M769 438v21M636 416v17M772 461v5M782 446v14"/>
<path stroke="#6399c9" d="M633 421v21M782 462v7M771 438v23M780 464v5M630 410v25M782 453v14M624 427v7M769 447v18M631 430v12M632 443v6M788 445v21M784 447v19M791 450v13M783 461v5M633 428v15M791 446v18M625 437v8"/>
<path stroke="#f3f3db" d="M572 342v12M589 347v2M591 354v3M598 344v4M589 350v6M656 310v6M737 328v5M569 349v6M564 346v5M594 326v17M660 310v7M728 343v4M653 311v2M756 332v2M728 335v3M731 341v4M564 351v7M655 305v7M604 324v8M744 328v6M567 355v6M637 315v6M575 345v6M578 346v4M756 324v4M587 352v5M735 347v4M602 341v6M721 336v7M656 307v4M558 350v6M605 330v6M637 309v4M644 310v4M567 344v6M741 339v2M763 326v4M602 330v6M589 349v7M662 313v3M649 311v4M773 325v4M572 355v4M757 327v5M723 342v3M577 340v14M763 325v4M655 310v5M575 347v5M731 337v3M648 305v7M614 344v4"/>
<path stroke="#5787bd" d="M625 434v10M635 430v10M624 430v13M624 426v18"/>
<path stroke="#dbedf3" d="M748 390v9M648 365v2M716 326v6M721 370v5M885 354v8M803 391v2M674 340v6M736 378v5M826 382v6M739 377v2M756 382v4M658 354v5M733 374v6M811 392v6M799 391v7M745 389v20M753 392v21M860 369v5M727 384v10M846 374v8M561 371v4M854 373v2M724 379v3M747 384v3M823 376v5M699 383v12M576 375v3M780 338v6M701 380v4M737 388v5M839 386v3M861 369v6M676 351v7M799 387v7M664 368v3M874 362v13M793 384v7M817 391v3M662 351v4M717 321v2M885 354v15M568 374v9M560 378v11M865 373v11M850 369v3M664 357v16M756 378v5M809 391v7M729 375v3M641 369v13M749 390v19M641 364v7M822 389v4M828 389v3M549 373v8M823 395v7M738 378v4M861 370v14M794 393v2M815 384v7M863 362v2M842 371v7M823 384v7M725 378v5M883 363v10M821 383v6M708 374v7M804 385v7M751 388v7M663 374v6M675 348v2M777 340v5M875 354v4M662 369v2"/>
<path stroke="#7babc9" d="M896 376v26"/>
<path stroke="#abcfe7" d="M610 415v16"/>
<path stroke="#d5e7f3" d="M548 384v24"/>
<path stroke="#5181bd" d="M628 429v20M636 439v12M629 427v21M629 426v21M637 428v22"/>
<path stroke="#f9f3d5" d="M613 334v7M610 341v3M720 349v6M718 344v7M718 352v7M614 328v6M604 327v4M628 309v3M639 309v3M584 337v4M613 320v6M588 334v5M718 336v5"/>
<path stroke="#87b7d5" d="M878 382v16"/>
<path stroke="#6993b1" d="M710 436v6"/>
<path stroke="#699fcf" d="M774 450v14"/>
<path stroke="#b7cfe1" d="M850 387v12"/>
<path stroke="#8db7db" d="M812 418v26"/>
<path stroke="#5181b7" d="M637 442v10"/>
<path stroke="#9fbdd5" d="M609 422v9M609 422v9"/>
<path stroke="#6399c3" d="M789 460v8"/>
<path stroke="#99c9e1" d="M598 396v25"/>
<path stroke="#81b1d5" d="M736 433v20"/>
<path stroke="#6fa5c9" d="M804 432v24"/>
<path stroke="#8dbddb" d="M715 438v5"/>
<path stroke="#bdcfd5" d="M837 397v5"/>
<path stroke="#cfe7ed" d="M894 354v16M892 354v25"/>
<path stroke="#fff9cf" d="M867 475v3"/>
</g>
</g>
<path d="M623.5 470.5V309.5L758.5 242V401.5Z" fill="none" stroke="#ff0000" stroke-width="1" shape-rendering="crispEdges"/>
<g stroke="#fffacd" stroke-width="1" fill="none" shape-rendering="crispEdges">
<path d="M512 302.4V461.8L779.4 507.8L932.9 428.3"/>
<path d="M512 461.2h7M512 434.7h7M512 408.3h7M512 381.8h7M512 355.3h7M512 328.9h7M512 302.4h7M512 461.8l4.5 -2.3M565.5 471l4.5 -2.3M619 480.2l4.5 -2.3M672.4 489.4l4.5 -2.3M725.9 498.6l4.5 -2.3M779.4 507.8l4.5 -2.3M779.4 507.8l-5 -0.9M801.3 496.4l-5 -0.9M823.3 485.1l-5 -0.9M845.2 473.7l-5 -0.9M867.1 462.4l-5 -0.9M889 451l-5 -0.9M911 439.7l-5 -0.9M932.9 428.3l-5 -0.9"/>
</g>
<text x="494" y="465.6" fill="#fffacd" text-anchor="end">-120</text>
<text x="494" y="439.1" fill="#fffacd" text-anchor="end">-100</text>
<text x="494" y="412.7" fill="#fffacd" text-anchor="end">-80</text>
<text x="494" y="386.2" fill="#fffacd" text-anchor="end">-60</text>
<text x="494" y="359.7" fill="#fffacd" text-anchor="end">-40</text>
<text x="494" y="333.3" fill="#fffacd" text-anchor="end">-20</text>
<text x="494" y="306.8" fill="#fffacd" text-anchor="end">0</text>
<text x="502.1" y="472.9" fill="#fffacd" text-anchor="middle">01:25:20</text>
<text x="555.6" y="482.1" fill="#fffacd" text-anchor="middle">01:25:40</text>
<text x="609.1" y="491.3" fill="#fffacd" text-anchor="middle">01:26:00</text>
<text x="662.5" y="500.5" fill="#fffacd" text-anchor="middle">01:26:20</text>
<text x="716" y="509.7" fill="#fffacd" text-anchor="middle">01:26:40</text>
<text x="769.5" y="518.9" fill="#fffacd" text-anchor="middle">01:27:00</text>
<text x="816.8" y="514.6" fill="#fffacd" text-anchor="middle">1210</text>
<text x="838.7" y="503.2" fill="#fffacd" text-anchor="middle">1215</text>
<text x="860.7" y="491.9" fill="#fffacd" text-anchor="middle">1220</text>
<text x="882.6" y="480.5" fill="#fffacd" text-anchor="middle">1225</text>
<text x="904.5" y="469.2" fill="#fffacd" text-anchor="middle">1230</text>
<text x="926.4" y="457.8" fill="#fffacd" text-anchor="middle">1235</text>
<text x="948.4" y="446.5" fill="#fffacd" text-anchor="middle">1240</text>
<text x="970.3" y="435.1" fill="#fffacd" text-anchor="middle">1245</text>
<text x="0" y="0" fill="#fffacd" text-anchor="middle" transform="translate(435.5,382.4) rotate(-90)">PSD (dBm)</text>
<text x="0" y="0" fill="#fffacd" text-anchor="middle" transform="translate(598,506.2) rotate(10) translate(0,5.8)">Time (UTC)</text>
<text x="0" y="0" fill="#fffacd" text-anchor="middle" transform="translate(930.5,479.7) rotate(-26) translate(0,5.8)">Frequency (MHz)</text>
<g stroke="#fffacd" stroke-width="1" stroke-dasharray="2 2" fill="none" shape-rendering="crispEdges" opacity="0.62">
<line x1="270.5" y1="632.5" x2="270.5" y2="707.5"/>
<line x1="450.5" y1="632.5" x2="450.5" y2="707.5"/>
<line x1="630.5" y1="632.5" x2="630.5" y2="707.5"/>
<line x1="810.5" y1="632.5" x2="810.5" y2="707.5"/>
<line x1="90.5" y1="649.5" x2="990.5" y2="649.5"/>
<line x1="90.5" y1="678.5" x2="990.5" y2="678.5"/>
</g>
<path d="M90.8 689.5L99 692M126 689L135 687L144 683.5L153 692L162 693L171 677.5L180 681.5L188.5 707.5M206.5 678L216 683M234 679L243 682.5L252 707.5L261 677.5L270 678.5L279 685L288 680.5L297 676L306 678L315 680L324 676L333 693L342 673L351 671L360 687L369 667.5L378 666L387 677L396 660L405 647.5L414 647L423 648.5L432 655L441 677.5L450 667.5L459 665.5L468 681.5L477 676L486 670.5L495 689.5L504 677L512 675L523 687.5L541 677.5L547.5 707.5M552 707.5L559.5 676L568 676L577 691M594.5 679L603 707.5M622 679L630.5 687M648 686.5L649 686.5M676 690.5L685 687L694 690L703 689L712 685L721 689M738 690L747 691.5M765 692.5L774.5 687L783.5 693.5M801 691L810 690.5M846 692.5L855 686L864 682.5L873 684L882 685.5M909.5 688L918.5 690M945 690L954 691.5" fill="none" stroke="#ffff00" stroke-width="1.1"/>
<line x1="414.5" y1="632.5" x2="414.5" y2="707.5" stroke="#ff0000" stroke-width="1" shape-rendering="crispEdges"/>
<g stroke="#fffacd" stroke-width="1" fill="none" shape-rendering="crispEdges">
<rect x="90.5" y="632.5" width="900.0" height="75.0"/>
<path d="M90.5 707.5v-8.5M90.5 632.5v8.5M180.5 707.5v-3.5M180.5 632.5v3.5M270.5 707.5v-8.5M270.5 632.5v8.5M360.5 707.5v-3.5M360.5 632.5v3.5M450.5 707.5v-8.5M450.5 632.5v8.5M540.5 707.5v-3.5M540.5 632.5v3.5M630.5 707.5v-8.5M630.5 632.5v8.5M720.5 707.5v-3.5M720.5 632.5v3.5M810.5 707.5v-8.5M810.5 632.5v8.5M900.5 707.5v-3.5M900.5 632.5v3.5M990.5 707.5v-8.5M990.5 632.5v8.5M90.5 649.5h8.5M990.5 649.5h-8.5M90.5 678.5h8.5M990.5 678.5h-8.5"/>
</g>
<text x="77" y="653.6" fill="#fffacd" text-anchor="end">-80</text>
<text x="77" y="682.2" fill="#fffacd" text-anchor="end">-100</text>
<text x="77" y="710" fill="#fffacd" text-anchor="end">-120</text>
<text x="89.5" y="729.8" fill="#fffacd" text-anchor="middle">01:25:20</text>
<text x="269.5" y="729.8" fill="#fffacd" text-anchor="middle">01:25:40</text>
<text x="449.5" y="729.8" fill="#fffacd" text-anchor="middle">01:26:00</text>
<text x="629.5" y="729.8" fill="#fffacd" text-anchor="middle">01:26:20</text>
<text x="809.5" y="729.8" fill="#fffacd" text-anchor="middle">01:26:40</text>
<text x="989.5" y="729.8" fill="#fffacd" text-anchor="middle">01:27:00</text>
<text x="0" y="0" fill="#fffacd" text-anchor="middle" transform="translate(20.3,672) rotate(-90)">Power (dBm)</text>
</svg>
</body></html>
